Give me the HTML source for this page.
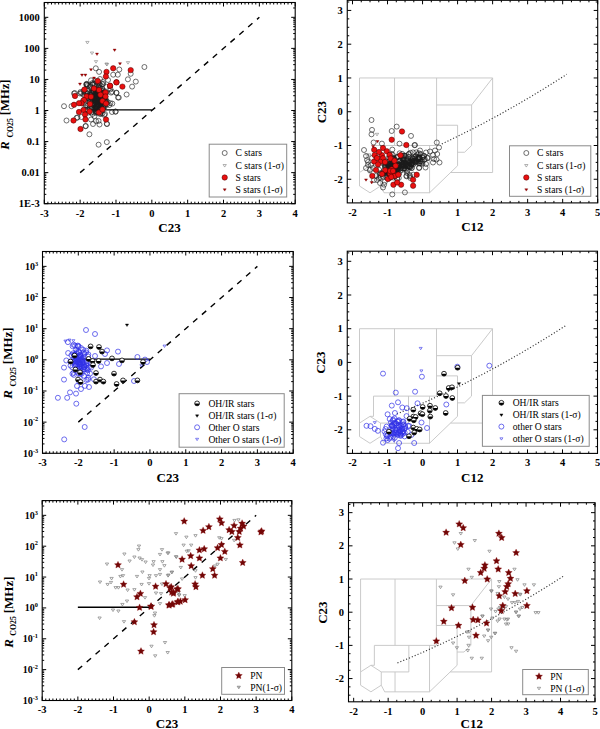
<!DOCTYPE html>
<html><head><meta charset="utf-8"><style>
html,body{margin:0;padding:0;background:#fff;width:600px;height:729px;overflow:hidden}
svg{display:block}
text{font-family:"Liberation Serif",serif}
</style></head><body>
<svg width="600" height="729" viewBox="0 0 600 729" font-family='"Liberation Serif", serif'>
<rect width="600" height="729" fill="#fff"/>
<line x1="80.14" y1="172.64" x2="259.36" y2="17.32" stroke="#000" stroke-width="1.4" stroke-dasharray="5.7 6.0"/>
<line x1="90.9" y1="109.85" x2="151.83" y2="109.85" stroke="#000" stroke-width="1.3"/>
<path d="M85.75 41.41L89.05 41.41L87.4 43.97Z" fill="none" stroke="#808080" stroke-width="0.6"/><path d="M90.35 52.01L93.65 52.01L92 54.57Z" fill="none" stroke="#808080" stroke-width="0.6"/><path d="M94.35 60.61L97.65 60.61L96 63.17Z" fill="none" stroke="#808080" stroke-width="0.6"/><path d="M105.35 63.41L108.65 63.41L107 65.97Z" fill="none" stroke="#808080" stroke-width="0.6"/><path d="M126.35 61.61L129.65 61.61L128 64.17Z" fill="none" stroke="#808080" stroke-width="0.6"/><path d="M104.85 63.01L108.15 63.01L106.5 65.57Z" fill="none" stroke="#808080" stroke-width="0.6"/><circle cx="144.4" cy="67" r="2.5" fill="none" stroke="#1a1a1a" stroke-width="0.62"/><circle cx="119.3" cy="69.5" r="2.5" fill="none" stroke="#1a1a1a" stroke-width="0.62"/><circle cx="95.8" cy="68.3" r="2.5" fill="none" stroke="#1a1a1a" stroke-width="0.62"/><circle cx="99.1" cy="71.9" r="2.5" fill="none" stroke="#1a1a1a" stroke-width="0.62"/><circle cx="117.8" cy="74.7" r="2.5" fill="none" stroke="#1a1a1a" stroke-width="0.62"/><circle cx="113.2" cy="74.7" r="2.5" fill="none" stroke="#1a1a1a" stroke-width="0.62"/><circle cx="130.7" cy="73.8" r="2.5" fill="none" stroke="#1a1a1a" stroke-width="0.62"/><circle cx="127.9" cy="79.3" r="2.5" fill="none" stroke="#1a1a1a" stroke-width="0.62"/><circle cx="135.8" cy="81.6" r="2.5" fill="none" stroke="#1a1a1a" stroke-width="0.62"/><circle cx="132.1" cy="86.6" r="2.5" fill="none" stroke="#1a1a1a" stroke-width="0.62"/><circle cx="118.8" cy="97.6" r="2.5" fill="none" stroke="#1a1a1a" stroke-width="0.62"/><circle cx="126.6" cy="94.5" r="2.5" fill="none" stroke="#1a1a1a" stroke-width="0.62"/><circle cx="116.4" cy="92.6" r="2.5" fill="none" stroke="#1a1a1a" stroke-width="0.62"/><circle cx="112.3" cy="103.6" r="2.5" fill="none" stroke="#1a1a1a" stroke-width="0.62"/><circle cx="115.6" cy="111.7" r="2.5" fill="none" stroke="#1a1a1a" stroke-width="0.62"/><circle cx="64" cy="106.2" r="2.5" fill="none" stroke="#1a1a1a" stroke-width="0.62"/><circle cx="71.5" cy="106.2" r="2.5" fill="none" stroke="#1a1a1a" stroke-width="0.62"/><circle cx="66.5" cy="120.5" r="2.5" fill="none" stroke="#1a1a1a" stroke-width="0.62"/><circle cx="77.5" cy="117.5" r="2.5" fill="none" stroke="#1a1a1a" stroke-width="0.62"/><circle cx="85.5" cy="126.2" r="2.5" fill="none" stroke="#1a1a1a" stroke-width="0.62"/><circle cx="93" cy="124" r="2.5" fill="none" stroke="#1a1a1a" stroke-width="0.62"/><circle cx="99.5" cy="124.5" r="2.5" fill="none" stroke="#1a1a1a" stroke-width="0.62"/><circle cx="107" cy="124" r="2.5" fill="none" stroke="#1a1a1a" stroke-width="0.62"/><circle cx="105" cy="114" r="2.5" fill="none" stroke="#1a1a1a" stroke-width="0.62"/><circle cx="112" cy="112" r="2.5" fill="none" stroke="#1a1a1a" stroke-width="0.62"/><circle cx="115.5" cy="111.5" r="2.5" fill="none" stroke="#1a1a1a" stroke-width="0.62"/><circle cx="112" cy="91.8" r="2.5" fill="none" stroke="#1a1a1a" stroke-width="0.62"/><circle cx="116.5" cy="93" r="2.5" fill="none" stroke="#1a1a1a" stroke-width="0.62"/><circle cx="118" cy="97.5" r="2.5" fill="none" stroke="#1a1a1a" stroke-width="0.62"/><circle cx="74" cy="93.5" r="2.5" fill="none" stroke="#1a1a1a" stroke-width="0.62"/><circle cx="80" cy="93.5" r="2.5" fill="none" stroke="#1a1a1a" stroke-width="0.62"/><circle cx="87" cy="84.5" r="2.5" fill="none" stroke="#1a1a1a" stroke-width="0.62"/><circle cx="80.5" cy="92" r="2.5" fill="none" stroke="#1a1a1a" stroke-width="0.62"/><circle cx="91" cy="119.5" r="2.5" fill="none" stroke="#1a1a1a" stroke-width="0.62"/><circle cx="96" cy="121" r="2.5" fill="none" stroke="#1a1a1a" stroke-width="0.62"/><circle cx="81.5" cy="117" r="2.5" fill="none" stroke="#1a1a1a" stroke-width="0.62"/><circle cx="94.5" cy="116" r="2.5" fill="none" stroke="#1a1a1a" stroke-width="0.62"/><circle cx="89.4" cy="134.3" r="2.5" fill="none" stroke="#1a1a1a" stroke-width="0.62"/><circle cx="98.6" cy="144.7" r="2.5" fill="none" stroke="#1a1a1a" stroke-width="0.62"/><circle cx="106.8" cy="142.1" r="2.5" fill="none" stroke="#1a1a1a" stroke-width="0.62"/><circle cx="85.8" cy="126" r="2.5" fill="none" stroke="#1a1a1a" stroke-width="0.62"/><circle cx="76.6" cy="117.8" r="2.5" fill="none" stroke="#1a1a1a" stroke-width="0.62"/><circle cx="106.8" cy="123.8" r="2.5" fill="none" stroke="#1a1a1a" stroke-width="0.62"/><circle cx="93.1" cy="83.8" r="2.5" fill="none" stroke="#1a1a1a" stroke-width="0.62"/><circle cx="86.7" cy="84.8" r="2.5" fill="none" stroke="#1a1a1a" stroke-width="0.62"/><circle cx="110.5" cy="89.3" r="2.5" fill="none" stroke="#1a1a1a" stroke-width="0.62"/><circle cx="81.2" cy="93" r="2.5" fill="none" stroke="#1a1a1a" stroke-width="0.62"/><circle cx="74.8" cy="93" r="2.5" fill="none" stroke="#1a1a1a" stroke-width="0.62"/><circle cx="100" cy="79" r="2.5" fill="none" stroke="#1a1a1a" stroke-width="0.62"/><circle cx="103" cy="82" r="2.5" fill="none" stroke="#1a1a1a" stroke-width="0.62"/><circle cx="108" cy="80" r="2.5" fill="none" stroke="#1a1a1a" stroke-width="0.62"/><circle cx="94.59" cy="104.11" r="2.5" fill="none" stroke="#1a1a1a" stroke-width="0.62"/><circle cx="94.76" cy="97.14" r="2.5" fill="none" stroke="#1a1a1a" stroke-width="0.62"/><circle cx="90.88" cy="97.41" r="2.5" fill="none" stroke="#1a1a1a" stroke-width="0.62"/><circle cx="102.12" cy="104.53" r="2.5" fill="none" stroke="#1a1a1a" stroke-width="0.62"/><circle cx="101.7" cy="102.99" r="2.5" fill="none" stroke="#1a1a1a" stroke-width="0.62"/><circle cx="98.17" cy="101.9" r="2.5" fill="none" stroke="#1a1a1a" stroke-width="0.62"/><circle cx="86.84" cy="105.82" r="2.5" fill="none" stroke="#1a1a1a" stroke-width="0.62"/><circle cx="98.79" cy="104.65" r="2.5" fill="none" stroke="#1a1a1a" stroke-width="0.62"/><circle cx="86.7" cy="83.81" r="2.5" fill="none" stroke="#1a1a1a" stroke-width="0.62"/><circle cx="91.11" cy="95.28" r="2.5" fill="none" stroke="#1a1a1a" stroke-width="0.62"/><circle cx="97.68" cy="99.87" r="2.5" fill="none" stroke="#1a1a1a" stroke-width="0.62"/><circle cx="98.87" cy="95.01" r="2.5" fill="none" stroke="#1a1a1a" stroke-width="0.62"/><circle cx="97.7" cy="103.6" r="2.5" fill="none" stroke="#1a1a1a" stroke-width="0.62"/><circle cx="92.36" cy="113.96" r="2.5" fill="none" stroke="#1a1a1a" stroke-width="0.62"/><circle cx="99.06" cy="110.6" r="2.5" fill="none" stroke="#1a1a1a" stroke-width="0.62"/><circle cx="92.59" cy="93.22" r="2.5" fill="none" stroke="#1a1a1a" stroke-width="0.62"/><circle cx="94.11" cy="98.81" r="2.5" fill="none" stroke="#1a1a1a" stroke-width="0.62"/><circle cx="99.48" cy="102.64" r="2.5" fill="none" stroke="#1a1a1a" stroke-width="0.62"/><circle cx="93.54" cy="91.53" r="2.5" fill="none" stroke="#1a1a1a" stroke-width="0.62"/><circle cx="93.14" cy="109.88" r="2.5" fill="none" stroke="#1a1a1a" stroke-width="0.62"/><circle cx="91.56" cy="101.38" r="2.5" fill="none" stroke="#1a1a1a" stroke-width="0.62"/><circle cx="98.35" cy="87.76" r="2.5" fill="none" stroke="#1a1a1a" stroke-width="0.62"/><circle cx="96.27" cy="111.09" r="2.5" fill="none" stroke="#1a1a1a" stroke-width="0.62"/><circle cx="84.92" cy="95.57" r="2.5" fill="none" stroke="#1a1a1a" stroke-width="0.62"/><circle cx="95.42" cy="93" r="2.5" fill="none" stroke="#1a1a1a" stroke-width="0.62"/><circle cx="98.74" cy="99.9" r="2.5" fill="none" stroke="#1a1a1a" stroke-width="0.62"/><circle cx="87.94" cy="105.76" r="2.5" fill="none" stroke="#1a1a1a" stroke-width="0.62"/><circle cx="99.68" cy="108.57" r="2.5" fill="none" stroke="#1a1a1a" stroke-width="0.62"/><circle cx="103.92" cy="104.29" r="2.5" fill="none" stroke="#1a1a1a" stroke-width="0.62"/><circle cx="96.66" cy="89.11" r="2.5" fill="none" stroke="#1a1a1a" stroke-width="0.62"/><circle cx="99.38" cy="95.35" r="2.5" fill="none" stroke="#1a1a1a" stroke-width="0.62"/><circle cx="93.51" cy="88.92" r="2.5" fill="none" stroke="#1a1a1a" stroke-width="0.62"/><circle cx="90.68" cy="94.69" r="2.5" fill="none" stroke="#1a1a1a" stroke-width="0.62"/><circle cx="103.09" cy="83.91" r="2.5" fill="none" stroke="#1a1a1a" stroke-width="0.62"/><circle cx="87.98" cy="100.79" r="2.5" fill="none" stroke="#1a1a1a" stroke-width="0.62"/><circle cx="103.94" cy="106.12" r="2.5" fill="none" stroke="#1a1a1a" stroke-width="0.62"/><circle cx="97.97" cy="94.08" r="2.5" fill="none" stroke="#1a1a1a" stroke-width="0.62"/><circle cx="89.84" cy="107.31" r="2.5" fill="none" stroke="#1a1a1a" stroke-width="0.62"/><circle cx="102.06" cy="102.27" r="2.5" fill="none" stroke="#1a1a1a" stroke-width="0.62"/><circle cx="97.35" cy="103.88" r="2.5" fill="none" stroke="#1a1a1a" stroke-width="0.62"/><circle cx="104.77" cy="106.59" r="2.5" fill="none" stroke="#1a1a1a" stroke-width="0.62"/><circle cx="98.85" cy="105.07" r="2.5" fill="none" stroke="#1a1a1a" stroke-width="0.62"/><circle cx="87.37" cy="109.51" r="2.5" fill="none" stroke="#1a1a1a" stroke-width="0.62"/><circle cx="101.25" cy="105.29" r="2.5" fill="none" stroke="#1a1a1a" stroke-width="0.62"/><circle cx="85.14" cy="92.96" r="2.5" fill="none" stroke="#1a1a1a" stroke-width="0.62"/><circle cx="100.63" cy="85.4" r="2.5" fill="none" stroke="#1a1a1a" stroke-width="0.62"/><circle cx="94.99" cy="108.47" r="2.5" fill="none" stroke="#1a1a1a" stroke-width="0.62"/><circle cx="88.79" cy="112.5" r="2.5" fill="none" stroke="#1a1a1a" stroke-width="0.62"/><circle cx="99.04" cy="99.2" r="2.5" fill="none" stroke="#1a1a1a" stroke-width="0.62"/><circle cx="97.79" cy="105.77" r="2.5" fill="none" stroke="#1a1a1a" stroke-width="0.62"/><circle cx="96.66" cy="109.79" r="2.5" fill="none" stroke="#1a1a1a" stroke-width="0.62"/><circle cx="92.36" cy="95.93" r="2.5" fill="none" stroke="#1a1a1a" stroke-width="0.62"/><circle cx="101.73" cy="101.11" r="2.5" fill="none" stroke="#1a1a1a" stroke-width="0.62"/><circle cx="91.16" cy="107.26" r="2.5" fill="none" stroke="#1a1a1a" stroke-width="0.62"/><circle cx="104.06" cy="97.48" r="2.5" fill="none" stroke="#1a1a1a" stroke-width="0.62"/><circle cx="88.41" cy="97.69" r="2.5" fill="none" stroke="#1a1a1a" stroke-width="0.62"/><circle cx="95.18" cy="97.35" r="2.5" fill="none" stroke="#1a1a1a" stroke-width="0.62"/><circle cx="103.73" cy="92.51" r="2.5" fill="none" stroke="#1a1a1a" stroke-width="0.62"/><circle cx="102.93" cy="90.34" r="2.5" fill="none" stroke="#1a1a1a" stroke-width="0.62"/><circle cx="91.67" cy="104.67" r="2.5" fill="none" stroke="#1a1a1a" stroke-width="0.62"/><circle cx="102.21" cy="108.22" r="2.5" fill="none" stroke="#1a1a1a" stroke-width="0.62"/><circle cx="97.9" cy="101.5" r="2.5" fill="none" stroke="#1a1a1a" stroke-width="0.62"/><circle cx="96.84" cy="104.99" r="2.5" fill="none" stroke="#1a1a1a" stroke-width="0.62"/><circle cx="95.03" cy="102.2" r="2.5" fill="none" stroke="#1a1a1a" stroke-width="0.62"/><circle cx="99.15" cy="100.49" r="2.5" fill="none" stroke="#1a1a1a" stroke-width="0.62"/><circle cx="100.2" cy="105.44" r="2.5" fill="none" stroke="#1a1a1a" stroke-width="0.62"/><circle cx="107.06" cy="104.46" r="2.5" fill="none" stroke="#1a1a1a" stroke-width="0.62"/><circle cx="93.65" cy="96.49" r="2.5" fill="none" stroke="#1a1a1a" stroke-width="0.62"/><circle cx="95.93" cy="107.8" r="2.5" fill="none" stroke="#1a1a1a" stroke-width="0.62"/><circle cx="94.15" cy="102.98" r="2.5" fill="none" stroke="#1a1a1a" stroke-width="0.62"/><circle cx="89.82" cy="101.11" r="2.5" fill="none" stroke="#1a1a1a" stroke-width="0.62"/><circle cx="98.19" cy="102.36" r="2.5" fill="none" stroke="#1a1a1a" stroke-width="0.62"/><circle cx="93.63" cy="105.17" r="2.5" fill="none" stroke="#1a1a1a" stroke-width="0.62"/><circle cx="97.55" cy="95.82" r="2.5" fill="none" stroke="#1a1a1a" stroke-width="0.62"/><circle cx="109.37" cy="105.07" r="2.5" fill="none" stroke="#1a1a1a" stroke-width="0.62"/><circle cx="92.95" cy="98.69" r="2.5" fill="none" stroke="#1a1a1a" stroke-width="0.62"/><circle cx="94.76" cy="99.28" r="2.5" fill="none" stroke="#1a1a1a" stroke-width="0.62"/><circle cx="101.55" cy="90.97" r="2.5" fill="none" stroke="#1a1a1a" stroke-width="0.62"/><circle cx="95.63" cy="108.01" r="2.5" fill="none" stroke="#1a1a1a" stroke-width="0.62"/><circle cx="100.71" cy="113.34" r="2.5" fill="none" stroke="#1a1a1a" stroke-width="0.62"/><circle cx="86.64" cy="95.57" r="2.5" fill="none" stroke="#1a1a1a" stroke-width="0.62"/><circle cx="94.12" cy="104.98" r="2.5" fill="none" stroke="#1a1a1a" stroke-width="0.62"/><circle cx="101.99" cy="88.68" r="2.5" fill="none" stroke="#1a1a1a" stroke-width="0.62"/><circle cx="99.76" cy="87.96" r="2.5" fill="none" stroke="#1a1a1a" stroke-width="0.62"/><circle cx="96.97" cy="110.25" r="2.5" fill="none" stroke="#1a1a1a" stroke-width="0.62"/><circle cx="95.18" cy="101.49" r="2.5" fill="none" stroke="#1a1a1a" stroke-width="0.62"/><circle cx="100.38" cy="101.87" r="2.5" fill="none" stroke="#1a1a1a" stroke-width="0.62"/><circle cx="95.51" cy="112.89" r="2.5" fill="none" stroke="#1a1a1a" stroke-width="0.62"/><circle cx="101.77" cy="98.41" r="2.5" fill="none" stroke="#1a1a1a" stroke-width="0.62"/><circle cx="111.1" cy="92.63" r="2.5" fill="none" stroke="#1a1a1a" stroke-width="0.62"/><circle cx="101.03" cy="98.53" r="2.5" fill="none" stroke="#1a1a1a" stroke-width="0.62"/><circle cx="96.73" cy="106.08" r="2.5" fill="none" stroke="#1a1a1a" stroke-width="0.62"/><circle cx="97.22" cy="105.59" r="2.5" fill="none" stroke="#1a1a1a" stroke-width="0.62"/><circle cx="87.6" cy="85.94" r="2.5" fill="none" stroke="#1a1a1a" stroke-width="0.62"/><circle cx="99.38" cy="92.38" r="2.5" fill="none" stroke="#1a1a1a" stroke-width="0.62"/><circle cx="90.35" cy="86.69" r="2.5" fill="none" stroke="#1a1a1a" stroke-width="0.62"/><circle cx="102.97" cy="107.39" r="2.5" fill="none" stroke="#1a1a1a" stroke-width="0.62"/><circle cx="104.1" cy="93.32" r="2.5" fill="none" stroke="#1a1a1a" stroke-width="0.62"/><circle cx="96.01" cy="90.36" r="2.5" fill="none" stroke="#1a1a1a" stroke-width="0.62"/><circle cx="100.21" cy="114.09" r="2.5" fill="none" stroke="#1a1a1a" stroke-width="0.62"/><circle cx="91.1" cy="112.44" r="2.5" fill="none" stroke="#1a1a1a" stroke-width="0.62"/><circle cx="101.43" cy="99.34" r="2.5" fill="none" stroke="#1a1a1a" stroke-width="0.62"/><circle cx="85.15" cy="110.22" r="2.5" fill="none" stroke="#1a1a1a" stroke-width="0.62"/><circle cx="95.47" cy="94.82" r="2.5" fill="none" stroke="#1a1a1a" stroke-width="0.62"/><circle cx="98.2" cy="103.81" r="2.5" fill="none" stroke="#1a1a1a" stroke-width="0.62"/><circle cx="104.24" cy="92.65" r="2.5" fill="none" stroke="#1a1a1a" stroke-width="0.62"/><circle cx="102.25" cy="113.54" r="2.5" fill="none" stroke="#1a1a1a" stroke-width="0.62"/><circle cx="103.99" cy="99.71" r="2.5" fill="none" stroke="#1a1a1a" stroke-width="0.62"/><circle cx="91.91" cy="107.98" r="2.5" fill="none" stroke="#1a1a1a" stroke-width="0.62"/><circle cx="96.63" cy="101.15" r="2.5" fill="none" stroke="#1a1a1a" stroke-width="0.62"/><circle cx="103.83" cy="98.98" r="2.5" fill="none" stroke="#1a1a1a" stroke-width="0.62"/><circle cx="83.37" cy="94.77" r="2.5" fill="none" stroke="#1a1a1a" stroke-width="0.62"/><circle cx="85.8" cy="105.35" r="2.5" fill="none" stroke="#1a1a1a" stroke-width="0.62"/><circle cx="97.74" cy="95.1" r="2.5" fill="none" stroke="#1a1a1a" stroke-width="0.62"/><circle cx="95.95" cy="107.03" r="2.5" fill="none" stroke="#1a1a1a" stroke-width="0.62"/><circle cx="96.43" cy="111.29" r="2.5" fill="none" stroke="#1a1a1a" stroke-width="0.62"/><circle cx="95.66" cy="108.75" r="2.5" fill="none" stroke="#1a1a1a" stroke-width="0.62"/><circle cx="104.2" cy="114.88" r="2.5" fill="none" stroke="#1a1a1a" stroke-width="0.62"/><circle cx="92.3" cy="106.87" r="2.5" fill="none" stroke="#1a1a1a" stroke-width="0.62"/><circle cx="85.68" cy="89.24" r="2.5" fill="none" stroke="#1a1a1a" stroke-width="0.62"/><circle cx="85.2" cy="107.37" r="2.5" fill="none" stroke="#1a1a1a" stroke-width="0.62"/><circle cx="89.22" cy="98.84" r="2.5" fill="none" stroke="#1a1a1a" stroke-width="0.62"/><circle cx="94.94" cy="99.59" r="2.5" fill="none" stroke="#1a1a1a" stroke-width="0.62"/><circle cx="92.75" cy="101.47" r="2.5" fill="none" stroke="#1a1a1a" stroke-width="0.62"/><circle cx="105.85" cy="101.9" r="2.5" fill="none" stroke="#1a1a1a" stroke-width="0.62"/><circle cx="98.92" cy="108.91" r="2.5" fill="none" stroke="#1a1a1a" stroke-width="0.62"/><circle cx="94.91" cy="89.18" r="2.5" fill="none" stroke="#1a1a1a" stroke-width="0.62"/><circle cx="92.95" cy="108.61" r="2.5" fill="none" stroke="#1a1a1a" stroke-width="0.62"/><circle cx="86.95" cy="93.54" r="2.5" fill="none" stroke="#1a1a1a" stroke-width="0.62"/><circle cx="101.54" cy="107.56" r="2.5" fill="none" stroke="#1a1a1a" stroke-width="0.62"/><circle cx="96.04" cy="106.82" r="2.5" fill="none" stroke="#1a1a1a" stroke-width="0.62"/><circle cx="96.91" cy="90.17" r="2.5" fill="none" stroke="#1a1a1a" stroke-width="0.62"/><circle cx="87.4" cy="93.27" r="2.5" fill="none" stroke="#1a1a1a" stroke-width="0.62"/><circle cx="101.08" cy="96" r="2.5" fill="none" stroke="#1a1a1a" stroke-width="0.62"/><circle cx="91.04" cy="92.71" r="2.5" fill="none" stroke="#1a1a1a" stroke-width="0.62"/><circle cx="87.58" cy="97.71" r="2.5" fill="none" stroke="#1a1a1a" stroke-width="0.62"/><circle cx="89.51" cy="102.08" r="2.5" fill="none" stroke="#1a1a1a" stroke-width="0.62"/><circle cx="83.02" cy="100.77" r="2.5" fill="none" stroke="#1a1a1a" stroke-width="0.62"/><circle cx="92.47" cy="83.03" r="2.5" fill="none" stroke="#1a1a1a" stroke-width="0.62"/><circle cx="99.99" cy="98.29" r="2.5" fill="none" stroke="#1a1a1a" stroke-width="0.62"/><circle cx="83.73" cy="90.7" r="2.5" fill="none" stroke="#1a1a1a" stroke-width="0.62"/><circle cx="97.6" cy="96.37" r="2.5" fill="none" stroke="#1a1a1a" stroke-width="0.62"/><circle cx="100.29" cy="106.99" r="2.5" fill="none" stroke="#1a1a1a" stroke-width="0.62"/><circle cx="99.66" cy="103.33" r="2.5" fill="none" stroke="#1a1a1a" stroke-width="0.62"/><circle cx="103.34" cy="106.71" r="2.5" fill="none" stroke="#1a1a1a" stroke-width="0.62"/><circle cx="98.48" cy="82.76" r="2.5" fill="none" stroke="#1a1a1a" stroke-width="0.62"/><circle cx="100.93" cy="111.84" r="2.5" fill="none" stroke="#1a1a1a" stroke-width="0.62"/><circle cx="94.37" cy="95.78" r="2.5" fill="none" stroke="#1a1a1a" stroke-width="0.62"/><circle cx="106.67" cy="86.78" r="2.5" fill="none" stroke="#1a1a1a" stroke-width="0.62"/><circle cx="98.58" cy="120.9" r="2.5" fill="none" stroke="#1a1a1a" stroke-width="0.62"/><circle cx="92.36" cy="96.75" r="2.5" fill="none" stroke="#1a1a1a" stroke-width="0.62"/><circle cx="106.43" cy="92.55" r="2.5" fill="none" stroke="#1a1a1a" stroke-width="0.62"/><circle cx="99.81" cy="99.63" r="2.5" fill="none" stroke="#1a1a1a" stroke-width="0.62"/><circle cx="92.47" cy="90.57" r="2.5" fill="none" stroke="#1a1a1a" stroke-width="0.62"/><circle cx="98.46" cy="98.8" r="2.5" fill="none" stroke="#1a1a1a" stroke-width="0.62"/><circle cx="96.83" cy="90.42" r="2.5" fill="none" stroke="#1a1a1a" stroke-width="0.62"/><circle cx="91.92" cy="88.33" r="2.5" fill="none" stroke="#1a1a1a" stroke-width="0.62"/><circle cx="101.46" cy="93.52" r="2.5" fill="none" stroke="#1a1a1a" stroke-width="0.62"/><circle cx="92.73" cy="84.62" r="2.5" fill="none" stroke="#1a1a1a" stroke-width="0.62"/><circle cx="110.33" cy="103.21" r="2.5" fill="none" stroke="#1a1a1a" stroke-width="0.62"/><circle cx="100.11" cy="96.32" r="2.5" fill="none" stroke="#1a1a1a" stroke-width="0.62"/><circle cx="105.42" cy="96.75" r="2.5" fill="none" stroke="#1a1a1a" stroke-width="0.62"/><circle cx="96.66" cy="96.1" r="2.5" fill="none" stroke="#1a1a1a" stroke-width="0.62"/><circle cx="87.28" cy="98.67" r="2.5" fill="none" stroke="#1a1a1a" stroke-width="0.62"/><circle cx="98.62" cy="86.67" r="2.5" fill="none" stroke="#1a1a1a" stroke-width="0.62"/><circle cx="103.63" cy="107.46" r="2.5" fill="none" stroke="#1a1a1a" stroke-width="0.62"/><circle cx="89.99" cy="85.57" r="2.5" fill="none" stroke="#1a1a1a" stroke-width="0.62"/><circle cx="98.46" cy="93.69" r="2.5" fill="none" stroke="#1a1a1a" stroke-width="0.62"/><circle cx="95.01" cy="83.93" r="2.5" fill="none" stroke="#1a1a1a" stroke-width="0.62"/><circle cx="107.6" cy="101.95" r="2.5" fill="none" stroke="#1a1a1a" stroke-width="0.62"/><circle cx="91.03" cy="80.34" r="2.5" fill="none" stroke="#1a1a1a" stroke-width="0.62"/><circle cx="105.52" cy="101.24" r="2.5" fill="none" stroke="#1a1a1a" stroke-width="0.62"/><circle cx="106.1" cy="99.91" r="2.5" fill="none" stroke="#1a1a1a" stroke-width="0.62"/><circle cx="92.64" cy="93.38" r="2.5" fill="none" stroke="#1a1a1a" stroke-width="0.62"/><circle cx="86.2" cy="84.32" r="2.5" fill="none" stroke="#1a1a1a" stroke-width="0.62"/><circle cx="96.71" cy="96.11" r="2.5" fill="none" stroke="#1a1a1a" stroke-width="0.62"/><circle cx="93.36" cy="90.43" r="2.5" fill="none" stroke="#1a1a1a" stroke-width="0.62"/><circle cx="99.29" cy="95.37" r="2.5" fill="none" stroke="#1a1a1a" stroke-width="0.62"/><circle cx="100.19" cy="94.17" r="2.5" fill="none" stroke="#1a1a1a" stroke-width="0.62"/><circle cx="95.38" cy="98.02" r="2.5" fill="none" stroke="#1a1a1a" stroke-width="0.62"/><circle cx="97.25" cy="85.46" r="2.5" fill="none" stroke="#1a1a1a" stroke-width="0.62"/><circle cx="93.87" cy="91.5" r="2.5" fill="none" stroke="#1a1a1a" stroke-width="0.62"/><circle cx="96.45" cy="93.16" r="2.5" fill="none" stroke="#1a1a1a" stroke-width="0.62"/><circle cx="97" cy="93.4" r="2.5" fill="none" stroke="#1a1a1a" stroke-width="0.62"/><circle cx="96.33" cy="81.88" r="2.5" fill="none" stroke="#1a1a1a" stroke-width="0.62"/><circle cx="99.11" cy="100.72" r="2.5" fill="none" stroke="#1a1a1a" stroke-width="0.62"/><circle cx="99.17" cy="90.84" r="2.5" fill="none" stroke="#1a1a1a" stroke-width="0.62"/><circle cx="99.23" cy="84.67" r="2.5" fill="none" stroke="#1a1a1a" stroke-width="0.62"/><circle cx="87.52" cy="90.96" r="2.5" fill="none" stroke="#1a1a1a" stroke-width="0.62"/><circle cx="92.35" cy="97.14" r="2.5" fill="none" stroke="#1a1a1a" stroke-width="0.62"/><circle cx="91.8" cy="103.73" r="2.5" fill="none" stroke="#1a1a1a" stroke-width="0.62"/><circle cx="95.09" cy="80.79" r="2.5" fill="none" stroke="#1a1a1a" stroke-width="0.62"/><circle cx="93.18" cy="95.54" r="2.5" fill="none" stroke="#1a1a1a" stroke-width="0.62"/><circle cx="99.48" cy="93.8" r="2.5" fill="none" stroke="#1a1a1a" stroke-width="0.62"/><circle cx="104.42" cy="98.81" r="2.5" fill="none" stroke="#1a1a1a" stroke-width="0.62"/><circle cx="96.9" cy="96.73" r="2.5" fill="none" stroke="#1a1a1a" stroke-width="0.62"/><circle cx="105.27" cy="101.06" r="2.5" fill="none" stroke="#1a1a1a" stroke-width="0.62"/><circle cx="102.12" cy="84.2" r="2.5" fill="none" stroke="#1a1a1a" stroke-width="0.62"/><circle cx="96.26" cy="97.69" r="2.5" fill="none" stroke="#1a1a1a" stroke-width="0.62"/><circle cx="95.52" cy="100.27" r="2.5" fill="none" stroke="#1a1a1a" stroke-width="0.62"/><circle cx="99.98" cy="99.71" r="2.5" fill="none" stroke="#1a1a1a" stroke-width="0.62"/><circle cx="95.94" cy="112.1" r="2.5" fill="none" stroke="#1a1a1a" stroke-width="0.62"/><circle cx="103.2" cy="91.28" r="2.5" fill="none" stroke="#1a1a1a" stroke-width="0.62"/><circle cx="97.45" cy="112.73" r="2.5" fill="none" stroke="#1a1a1a" stroke-width="0.62"/><circle cx="95.28" cy="98.68" r="2.5" fill="none" stroke="#1a1a1a" stroke-width="0.62"/><circle cx="101.9" cy="92.84" r="2.5" fill="none" stroke="#1a1a1a" stroke-width="0.62"/><circle cx="91.16" cy="92.56" r="2.5" fill="none" stroke="#1a1a1a" stroke-width="0.62"/><circle cx="98.8" cy="101.28" r="2.5" fill="none" stroke="#1a1a1a" stroke-width="0.62"/><circle cx="100.91" cy="92.82" r="2.5" fill="none" stroke="#1a1a1a" stroke-width="0.62"/><circle cx="101.27" cy="96.98" r="2.5" fill="none" stroke="#1a1a1a" stroke-width="0.62"/><circle cx="97.8" cy="81" r="2.7" fill="#ea1010" stroke="#400" stroke-width="0.5"/><circle cx="116.5" cy="82.2" r="2.7" fill="#ea1010" stroke="#400" stroke-width="0.5"/><circle cx="110" cy="86" r="2.7" fill="#ea1010" stroke="#400" stroke-width="0.5"/><circle cx="84.5" cy="89.5" r="2.7" fill="#ea1010" stroke="#400" stroke-width="0.5"/><circle cx="94" cy="88.5" r="2.7" fill="#ea1010" stroke="#400" stroke-width="0.5"/><circle cx="99" cy="90" r="2.7" fill="#ea1010" stroke="#400" stroke-width="0.5"/><circle cx="105.5" cy="92.5" r="2.7" fill="#ea1010" stroke="#400" stroke-width="0.5"/><circle cx="75" cy="96" r="2.7" fill="#ea1010" stroke="#400" stroke-width="0.5"/><circle cx="86.5" cy="96.5" r="2.7" fill="#ea1010" stroke="#400" stroke-width="0.5"/><circle cx="91" cy="96.8" r="2.7" fill="#ea1010" stroke="#400" stroke-width="0.5"/><circle cx="100.5" cy="94.8" r="2.7" fill="#ea1010" stroke="#400" stroke-width="0.5"/><circle cx="105.5" cy="96.5" r="2.7" fill="#ea1010" stroke="#400" stroke-width="0.5"/><circle cx="84" cy="100" r="2.7" fill="#ea1010" stroke="#400" stroke-width="0.5"/><circle cx="81.5" cy="103.2" r="2.7" fill="#ea1010" stroke="#400" stroke-width="0.5"/><circle cx="79" cy="103.2" r="2.7" fill="#ea1010" stroke="#400" stroke-width="0.5"/><circle cx="90" cy="104" r="2.7" fill="#ea1010" stroke="#400" stroke-width="0.5"/><circle cx="102.5" cy="101" r="2.7" fill="#ea1010" stroke="#400" stroke-width="0.5"/><circle cx="106" cy="103.5" r="2.7" fill="#ea1010" stroke="#400" stroke-width="0.5"/><circle cx="74" cy="104.8" r="2.7" fill="#ea1010" stroke="#400" stroke-width="0.5"/><circle cx="83.5" cy="110" r="2.7" fill="#ea1010" stroke="#400" stroke-width="0.5"/><circle cx="79" cy="112" r="2.7" fill="#ea1010" stroke="#400" stroke-width="0.5"/><circle cx="89.5" cy="111.5" r="2.7" fill="#ea1010" stroke="#400" stroke-width="0.5"/><circle cx="99" cy="112.5" r="2.7" fill="#ea1010" stroke="#400" stroke-width="0.5"/><circle cx="102.5" cy="109.5" r="2.7" fill="#ea1010" stroke="#400" stroke-width="0.5"/><circle cx="85" cy="114.5" r="2.7" fill="#ea1010" stroke="#400" stroke-width="0.5"/><circle cx="73.5" cy="120.5" r="2.7" fill="#ea1010" stroke="#400" stroke-width="0.5"/><circle cx="85.5" cy="119.5" r="2.7" fill="#ea1010" stroke="#400" stroke-width="0.5"/><circle cx="106" cy="119.5" r="2.7" fill="#ea1010" stroke="#400" stroke-width="0.5"/><circle cx="80.5" cy="129" r="2.7" fill="#ea1010" stroke="#400" stroke-width="0.5"/><circle cx="113.2" cy="68.3" r="2.7" fill="#ea1010" stroke="#400" stroke-width="0.5"/><circle cx="130.7" cy="70.1" r="2.7" fill="#ea1010" stroke="#400" stroke-width="0.5"/><circle cx="106.5" cy="71.9" r="2.7" fill="#ea1010" stroke="#400" stroke-width="0.5"/><circle cx="105.9" cy="76.5" r="2.7" fill="#ea1010" stroke="#400" stroke-width="0.5"/><circle cx="122.4" cy="86.6" r="2.7" fill="#ea1010" stroke="#400" stroke-width="0.5"/><circle cx="110.1" cy="85.7" r="2.7" fill="#ea1010" stroke="#400" stroke-width="0.5"/><circle cx="116.4" cy="82.4" r="2.7" fill="#ea1010" stroke="#400" stroke-width="0.5"/><path d="M113.1 49.1L116.1 49.1L114.6 51.42Z" fill="#a00" stroke="#700" stroke-width="0.4"/><path d="M95.5 53.1L98.5 53.1L97 55.42Z" fill="#a00" stroke="#700" stroke-width="0.4"/><path d="M118.5 62.7L121.5 62.7L120 65.03Z" fill="#a00" stroke="#700" stroke-width="0.4"/><path d="M89.5 68.7L92.5 68.7L91 71.02Z" fill="#a00" stroke="#700" stroke-width="0.4"/><path d="M80.5 74.1L83.5 74.1L82 76.42Z" fill="#a00" stroke="#700" stroke-width="0.4"/><path d="M83.9 74.1L86.9 74.1L85.4 76.42Z" fill="#a00" stroke="#700" stroke-width="0.4"/><path d="M78.5 83.1L81.5 83.1L80 85.42Z" fill="#a00" stroke="#700" stroke-width="0.4"/><path d="M92.5 77.1L95.5 77.1L94 79.42Z" fill="#a00" stroke="#700" stroke-width="0.4"/>
<rect x="44.3" y="2.5" width="250.9" height="201.2" fill="none" stroke="#000" stroke-width="1.1"/>
<path d="M44.3 203.7h4M295.2 203.7h-4M44.3 194.35h2M295.2 194.35h-2M44.3 188.88h2M295.2 188.88h-2M44.3 185h2M295.2 185h-2M44.3 181.99h2M295.2 181.99h-2M44.3 179.53h2M295.2 179.53h-2M44.3 177.45h2M295.2 177.45h-2M44.3 175.65h2M295.2 175.65h-2M44.3 174.06h2M295.2 174.06h-2M44.3 172.64h4M295.2 172.64h-4M44.3 163.29h2M295.2 163.29h-2M44.3 157.82h2M295.2 157.82h-2M44.3 153.93h2M295.2 153.93h-2M44.3 150.92h2M295.2 150.92h-2M44.3 148.46h2M295.2 148.46h-2M44.3 146.39h2M295.2 146.39h-2M44.3 144.58h2M295.2 144.58h-2M44.3 143h2M295.2 143h-2M44.3 141.57h4M295.2 141.57h-4M44.3 132.22h2M295.2 132.22h-2M44.3 126.75h2M295.2 126.75h-2M44.3 122.87h2M295.2 122.87h-2M44.3 119.86h2M295.2 119.86h-2M44.3 117.4h2M295.2 117.4h-2M44.3 115.32h2M295.2 115.32h-2M44.3 113.52h2M295.2 113.52h-2M44.3 111.93h2M295.2 111.93h-2M44.3 110.51h4M295.2 110.51h-4M44.3 101.16h2M295.2 101.16h-2M44.3 95.69h2M295.2 95.69h-2M44.3 91.81h2M295.2 91.81h-2M44.3 88.8h2M295.2 88.8h-2M44.3 86.34h2M295.2 86.34h-2M44.3 84.26h2M295.2 84.26h-2M44.3 82.46h2M295.2 82.46h-2M44.3 80.87h2M295.2 80.87h-2M44.3 79.45h4M295.2 79.45h-4M44.3 70.1h2M295.2 70.1h-2M44.3 64.63h2M295.2 64.63h-2M44.3 60.75h2M295.2 60.75h-2M44.3 57.74h2M295.2 57.74h-2M44.3 55.28h2M295.2 55.28h-2M44.3 53.2h2M295.2 53.2h-2M44.3 51.39h2M295.2 51.39h-2M44.3 49.81h2M295.2 49.81h-2M44.3 48.38h4M295.2 48.38h-4M44.3 39.03h2M295.2 39.03h-2M44.3 33.56h2M295.2 33.56h-2M44.3 29.68h2M295.2 29.68h-2M44.3 26.67h2M295.2 26.67h-2M44.3 24.21h2M295.2 24.21h-2M44.3 22.13h2M295.2 22.13h-2M44.3 20.33h2M295.2 20.33h-2M44.3 18.74h2M295.2 18.74h-2M44.3 17.32h4M295.2 17.32h-4M44.3 7.97h2M295.2 7.97h-2M44.3 2.5h2M295.2 2.5h-2" stroke="#000" stroke-width="1" fill="none"/>
<text x="39.8" y="207.3" text-anchor="end" font-size="10.5" font-weight="bold">1E-3</text>
<text x="39.8" y="176.24" text-anchor="end" font-size="10.5" font-weight="bold">0.01</text>
<text x="39.8" y="145.17" text-anchor="end" font-size="10.5" font-weight="bold">0.1</text>
<text x="39.8" y="114.11" text-anchor="end" font-size="10.5" font-weight="bold">1</text>
<text x="39.8" y="83.05" text-anchor="end" font-size="10.5" font-weight="bold">10</text>
<text x="39.8" y="51.98" text-anchor="end" font-size="10.5" font-weight="bold">100</text>
<text x="39.8" y="20.92" text-anchor="end" font-size="10.5" font-weight="bold">1000</text>
<path d="M44.3 203.7v-4M44.3 2.5v4M47.88 203.7v-2M47.88 2.5v2M51.47 203.7v-2M51.47 2.5v2M55.05 203.7v-2M55.05 2.5v2M58.64 203.7v-2M58.64 2.5v2M62.22 203.7v-2M62.22 2.5v2M65.81 203.7v-2M65.81 2.5v2M69.39 203.7v-2M69.39 2.5v2M72.97 203.7v-2M72.97 2.5v2M76.56 203.7v-2M76.56 2.5v2M80.14 203.7v-4M80.14 2.5v4M83.73 203.7v-2M83.73 2.5v2M87.31 203.7v-2M87.31 2.5v2M90.9 203.7v-2M90.9 2.5v2M94.48 203.7v-2M94.48 2.5v2M98.06 203.7v-2M98.06 2.5v2M101.65 203.7v-2M101.65 2.5v2M105.23 203.7v-2M105.23 2.5v2M108.82 203.7v-2M108.82 2.5v2M112.4 203.7v-2M112.4 2.5v2M115.99 203.7v-4M115.99 2.5v4M119.57 203.7v-2M119.57 2.5v2M123.15 203.7v-2M123.15 2.5v2M126.74 203.7v-2M126.74 2.5v2M130.32 203.7v-2M130.32 2.5v2M133.91 203.7v-2M133.91 2.5v2M137.49 203.7v-2M137.49 2.5v2M141.08 203.7v-2M141.08 2.5v2M144.66 203.7v-2M144.66 2.5v2M148.24 203.7v-2M148.24 2.5v2M151.83 203.7v-4M151.83 2.5v4M155.41 203.7v-2M155.41 2.5v2M159 203.7v-2M159 2.5v2M162.58 203.7v-2M162.58 2.5v2M166.17 203.7v-2M166.17 2.5v2M169.75 203.7v-2M169.75 2.5v2M173.33 203.7v-2M173.33 2.5v2M176.92 203.7v-2M176.92 2.5v2M180.5 203.7v-2M180.5 2.5v2M184.09 203.7v-2M184.09 2.5v2M187.67 203.7v-4M187.67 2.5v4M191.26 203.7v-2M191.26 2.5v2M194.84 203.7v-2M194.84 2.5v2M198.42 203.7v-2M198.42 2.5v2M202.01 203.7v-2M202.01 2.5v2M205.59 203.7v-2M205.59 2.5v2M209.18 203.7v-2M209.18 2.5v2M212.76 203.7v-2M212.76 2.5v2M216.35 203.7v-2M216.35 2.5v2M219.93 203.7v-2M219.93 2.5v2M223.51 203.7v-4M223.51 2.5v4M227.1 203.7v-2M227.1 2.5v2M230.68 203.7v-2M230.68 2.5v2M234.27 203.7v-2M234.27 2.5v2M237.85 203.7v-2M237.85 2.5v2M241.44 203.7v-2M241.44 2.5v2M245.02 203.7v-2M245.02 2.5v2M248.6 203.7v-2M248.6 2.5v2M252.19 203.7v-2M252.19 2.5v2M255.77 203.7v-2M255.77 2.5v2M259.36 203.7v-4M259.36 2.5v4M262.94 203.7v-2M262.94 2.5v2M266.53 203.7v-2M266.53 2.5v2M270.11 203.7v-2M270.11 2.5v2M273.69 203.7v-2M273.69 2.5v2M277.28 203.7v-2M277.28 2.5v2M280.86 203.7v-2M280.86 2.5v2M284.45 203.7v-2M284.45 2.5v2M288.03 203.7v-2M288.03 2.5v2M291.62 203.7v-2M291.62 2.5v2M295.2 203.7v-4M295.2 2.5v4" stroke="#000" stroke-width="1" fill="none"/>
<text x="44.3" y="216.5" text-anchor="middle" font-size="10.5" font-weight="bold">-3</text>
<text x="80.14" y="216.5" text-anchor="middle" font-size="10.5" font-weight="bold">-2</text>
<text x="115.99" y="216.5" text-anchor="middle" font-size="10.5" font-weight="bold">-1</text>
<text x="151.83" y="216.5" text-anchor="middle" font-size="10.5" font-weight="bold">0</text>
<text x="187.67" y="216.5" text-anchor="middle" font-size="10.5" font-weight="bold">1</text>
<text x="223.51" y="216.5" text-anchor="middle" font-size="10.5" font-weight="bold">2</text>
<text x="259.36" y="216.5" text-anchor="middle" font-size="10.5" font-weight="bold">3</text>
<text x="295.2" y="216.5" text-anchor="middle" font-size="10.5" font-weight="bold">4</text>
<text x="169.5" y="231.8" text-anchor="middle" font-size="13" font-weight="bold">C23</text>
<text transform="translate(9.4 149.7) rotate(-90)" font-size="12.6" font-weight="bold" font-style="italic">R</text>
<text transform="translate(12.7 137.6) rotate(-90)" font-size="7.8" font-weight="bold">CO25</text>
<text transform="translate(9.4 115.2) rotate(-90)" font-size="12.6" font-weight="bold">[MHz]</text>
<rect x="209.2" y="144.2" width="77.5" height="52.8" fill="#fff" stroke="#8a8a8a" stroke-width="1"/>
<circle cx="224.7" cy="153" r="2.5" fill="none" stroke="#1a1a1a" stroke-width="0.62"/>
<text x="235.5" y="156.3" font-size="9.6">C stars</text>
<path d="M223.05 164.51L226.35 164.51L224.7 167.07Z" fill="none" stroke="#808080" stroke-width="0.6"/>
<text x="235.5" y="168.8" font-size="9.6">C stars (1-σ)</text>
<circle cx="224.7" cy="177.5" r="2.7" fill="#ea1010" stroke="#400" stroke-width="0.5"/>
<text x="235.5" y="180.8" font-size="9.6">S stars</text>
<path d="M223.2 188.8L226.2 188.8L224.7 191.12Z" fill="#a00" stroke="#700" stroke-width="0.4"/>
<text x="235.5" y="193" font-size="9.6">S stars (1-σ)</text>
<path d="M359.51 172.51L359.51 77.96L492.62 77.96L492.62 172.51L450.58 172.51M394.54 77.96L394.54 145.5M436.57 77.96L436.57 145.5M370.02 165.76L373.52 165.76L373.52 145.5L436.57 145.5M429.57 145.5L429.57 192.77L457.59 165.76L457.59 125.24L436.57 125.24M436.57 104.98L471.6 104.98L471.6 145.5L464.59 152.25L457.59 152.25M471.6 104.98L492.62 77.96M384.03 192.77L429.57 192.77M408.55 145.5L408.55 172.51L380.53 172.51M394.54 172.51L394.54 192.77M359.51 172.51L370.02 165.76L380.53 172.51L380.53 186.02L370.02 192.77L359.51 186.02L359.51 172.51M380.53 186.02L384.03 192.77" fill="none" stroke="#c4c4c4" stroke-width="0.9"/>
<path d="M441.83 143.88L444.95 142.42L448.07 140.94L451.19 139.45L454.31 137.95L457.43 136.43L460.56 134.89L463.68 133.35L466.8 131.78L469.92 130.21L473.04 128.62L476.17 127.02L479.29 125.4L482.41 123.77L485.53 122.12L488.65 120.46L491.78 118.78L494.9 117.09L498.02 115.39L501.14 113.67L504.26 111.94L507.38 110.2L510.51 108.44L513.63 106.66L516.75 104.87L519.87 103.07L522.99 101.25L526.12 99.42L529.24 97.58L532.36 95.72L535.48 93.85L538.6 91.96L541.73 90.06L544.85 88.14L547.97 86.21L551.09 84.27L554.21 82.31L557.33 80.34L560.46 78.35L563.58 76.35L566.7 74.33" fill="none" stroke="#333" stroke-width="1.15" stroke-dasharray="1.1 2.0"/>
<path d="M375.35 133.31L378.65 133.31L377 135.87Z" fill="none" stroke="#808080" stroke-width="0.6"/><path d="M365.35 154.11L368.65 154.11L367 156.67Z" fill="none" stroke="#808080" stroke-width="0.6"/><path d="M367.65 153.91L370.95 153.91L369.3 156.47Z" fill="none" stroke="#808080" stroke-width="0.6"/><path d="M367.05 170.61L370.35 170.61L368.7 173.17Z" fill="none" stroke="#808080" stroke-width="0.6"/><path d="M368.75 171.61L372.05 171.61L370.4 174.17Z" fill="none" stroke="#808080" stroke-width="0.6"/><circle cx="372" cy="129.9" r="2.5" fill="none" stroke="#1a1a1a" stroke-width="0.62"/><circle cx="371.5" cy="134.3" r="2.5" fill="none" stroke="#1a1a1a" stroke-width="0.62"/><circle cx="373.6" cy="142.5" r="2.5" fill="none" stroke="#1a1a1a" stroke-width="0.62"/><circle cx="381.9" cy="143.6" r="2.5" fill="none" stroke="#1a1a1a" stroke-width="0.62"/><circle cx="396.7" cy="126.6" r="2.5" fill="none" stroke="#1a1a1a" stroke-width="0.62"/><circle cx="391.7" cy="131" r="2.5" fill="none" stroke="#1a1a1a" stroke-width="0.62"/><circle cx="411" cy="135.9" r="2.5" fill="none" stroke="#1a1a1a" stroke-width="0.62"/><circle cx="392.3" cy="149.6" r="2.5" fill="none" stroke="#1a1a1a" stroke-width="0.62"/><circle cx="384.1" cy="184.7" r="2.5" fill="none" stroke="#1a1a1a" stroke-width="0.62"/><circle cx="383" cy="187.5" r="2.5" fill="none" stroke="#1a1a1a" stroke-width="0.62"/><circle cx="392.3" cy="194.4" r="2.5" fill="none" stroke="#1a1a1a" stroke-width="0.62"/><circle cx="404.9" cy="192.4" r="2.5" fill="none" stroke="#1a1a1a" stroke-width="0.62"/><circle cx="371.5" cy="120" r="2.5" fill="none" stroke="#1a1a1a" stroke-width="0.62"/><circle cx="399.5" cy="143.7" r="2.5" fill="none" stroke="#1a1a1a" stroke-width="0.62"/><circle cx="414.5" cy="145.2" r="2.5" fill="none" stroke="#1a1a1a" stroke-width="0.62"/><circle cx="436.8" cy="142.5" r="2.5" fill="none" stroke="#1a1a1a" stroke-width="0.62"/><circle cx="439" cy="147.5" r="2.5" fill="none" stroke="#1a1a1a" stroke-width="0.62"/><circle cx="435" cy="150.5" r="2.5" fill="none" stroke="#1a1a1a" stroke-width="0.62"/><circle cx="437.2" cy="154" r="2.5" fill="none" stroke="#1a1a1a" stroke-width="0.62"/><circle cx="430" cy="151.5" r="2.5" fill="none" stroke="#1a1a1a" stroke-width="0.62"/><circle cx="426" cy="152.5" r="2.5" fill="none" stroke="#1a1a1a" stroke-width="0.62"/><circle cx="433" cy="155" r="2.5" fill="none" stroke="#1a1a1a" stroke-width="0.62"/><circle cx="434" cy="159" r="2.5" fill="none" stroke="#1a1a1a" stroke-width="0.62"/><circle cx="436.5" cy="159.5" r="2.5" fill="none" stroke="#1a1a1a" stroke-width="0.62"/><circle cx="439.5" cy="162.5" r="2.5" fill="none" stroke="#1a1a1a" stroke-width="0.62"/><circle cx="433" cy="162.5" r="2.5" fill="none" stroke="#1a1a1a" stroke-width="0.62"/><circle cx="426" cy="164" r="2.5" fill="none" stroke="#1a1a1a" stroke-width="0.62"/><circle cx="425.5" cy="167.5" r="2.5" fill="none" stroke="#1a1a1a" stroke-width="0.62"/><circle cx="424" cy="156" r="2.5" fill="none" stroke="#1a1a1a" stroke-width="0.62"/><circle cx="428" cy="158" r="2.5" fill="none" stroke="#1a1a1a" stroke-width="0.62"/><circle cx="415" cy="145" r="2.5" fill="none" stroke="#1a1a1a" stroke-width="0.62"/><circle cx="420" cy="150.5" r="2.5" fill="none" stroke="#1a1a1a" stroke-width="0.62"/><circle cx="367" cy="160" r="2.5" fill="none" stroke="#1a1a1a" stroke-width="0.62"/><circle cx="368" cy="165" r="2.5" fill="none" stroke="#1a1a1a" stroke-width="0.62"/><circle cx="370" cy="170" r="2.5" fill="none" stroke="#1a1a1a" stroke-width="0.62"/><circle cx="377" cy="180" r="2.5" fill="none" stroke="#1a1a1a" stroke-width="0.62"/><circle cx="380" cy="183" r="2.5" fill="none" stroke="#1a1a1a" stroke-width="0.62"/><circle cx="406.06" cy="163.95" r="2.5" fill="none" stroke="#1a1a1a" stroke-width="0.62"/><circle cx="401.57" cy="168.37" r="2.5" fill="none" stroke="#1a1a1a" stroke-width="0.62"/><circle cx="393.46" cy="162.3" r="2.5" fill="none" stroke="#1a1a1a" stroke-width="0.62"/><circle cx="404.05" cy="155.61" r="2.5" fill="none" stroke="#1a1a1a" stroke-width="0.62"/><circle cx="399.64" cy="153.29" r="2.5" fill="none" stroke="#1a1a1a" stroke-width="0.62"/><circle cx="397.17" cy="168.48" r="2.5" fill="none" stroke="#1a1a1a" stroke-width="0.62"/><circle cx="409.66" cy="162.67" r="2.5" fill="none" stroke="#1a1a1a" stroke-width="0.62"/><circle cx="401.68" cy="156.31" r="2.5" fill="none" stroke="#1a1a1a" stroke-width="0.62"/><circle cx="422.28" cy="163.66" r="2.5" fill="none" stroke="#1a1a1a" stroke-width="0.62"/><circle cx="414.93" cy="156.98" r="2.5" fill="none" stroke="#1a1a1a" stroke-width="0.62"/><circle cx="402.15" cy="153.92" r="2.5" fill="none" stroke="#1a1a1a" stroke-width="0.62"/><circle cx="411.8" cy="167.95" r="2.5" fill="none" stroke="#1a1a1a" stroke-width="0.62"/><circle cx="385.03" cy="167.12" r="2.5" fill="none" stroke="#1a1a1a" stroke-width="0.62"/><circle cx="410.3" cy="152.78" r="2.5" fill="none" stroke="#1a1a1a" stroke-width="0.62"/><circle cx="385.75" cy="161.19" r="2.5" fill="none" stroke="#1a1a1a" stroke-width="0.62"/><circle cx="397.71" cy="157.1" r="2.5" fill="none" stroke="#1a1a1a" stroke-width="0.62"/><circle cx="404.32" cy="165.37" r="2.5" fill="none" stroke="#1a1a1a" stroke-width="0.62"/><circle cx="410.34" cy="166.88" r="2.5" fill="none" stroke="#1a1a1a" stroke-width="0.62"/><circle cx="419.03" cy="167.96" r="2.5" fill="none" stroke="#1a1a1a" stroke-width="0.62"/><circle cx="390.88" cy="163.47" r="2.5" fill="none" stroke="#1a1a1a" stroke-width="0.62"/><circle cx="393.4" cy="159.75" r="2.5" fill="none" stroke="#1a1a1a" stroke-width="0.62"/><circle cx="403.19" cy="164.18" r="2.5" fill="none" stroke="#1a1a1a" stroke-width="0.62"/><circle cx="408.9" cy="154.03" r="2.5" fill="none" stroke="#1a1a1a" stroke-width="0.62"/><circle cx="391.62" cy="166.1" r="2.5" fill="none" stroke="#1a1a1a" stroke-width="0.62"/><circle cx="402.01" cy="162.58" r="2.5" fill="none" stroke="#1a1a1a" stroke-width="0.62"/><circle cx="403.37" cy="159.77" r="2.5" fill="none" stroke="#1a1a1a" stroke-width="0.62"/><circle cx="411.01" cy="164.77" r="2.5" fill="none" stroke="#1a1a1a" stroke-width="0.62"/><circle cx="403.12" cy="160.31" r="2.5" fill="none" stroke="#1a1a1a" stroke-width="0.62"/><circle cx="394.19" cy="165.98" r="2.5" fill="none" stroke="#1a1a1a" stroke-width="0.62"/><circle cx="388.96" cy="167.85" r="2.5" fill="none" stroke="#1a1a1a" stroke-width="0.62"/><circle cx="405.47" cy="155.85" r="2.5" fill="none" stroke="#1a1a1a" stroke-width="0.62"/><circle cx="401.49" cy="162.65" r="2.5" fill="none" stroke="#1a1a1a" stroke-width="0.62"/><circle cx="408.6" cy="166.67" r="2.5" fill="none" stroke="#1a1a1a" stroke-width="0.62"/><circle cx="403.64" cy="159.19" r="2.5" fill="none" stroke="#1a1a1a" stroke-width="0.62"/><circle cx="402.56" cy="163.89" r="2.5" fill="none" stroke="#1a1a1a" stroke-width="0.62"/><circle cx="411.34" cy="164.36" r="2.5" fill="none" stroke="#1a1a1a" stroke-width="0.62"/><circle cx="396.77" cy="157.55" r="2.5" fill="none" stroke="#1a1a1a" stroke-width="0.62"/><circle cx="400.27" cy="160.43" r="2.5" fill="none" stroke="#1a1a1a" stroke-width="0.62"/><circle cx="392.88" cy="165.34" r="2.5" fill="none" stroke="#1a1a1a" stroke-width="0.62"/><circle cx="399.09" cy="165.49" r="2.5" fill="none" stroke="#1a1a1a" stroke-width="0.62"/><circle cx="409.23" cy="160.69" r="2.5" fill="none" stroke="#1a1a1a" stroke-width="0.62"/><circle cx="427.24" cy="157.98" r="2.5" fill="none" stroke="#1a1a1a" stroke-width="0.62"/><circle cx="415.02" cy="162.71" r="2.5" fill="none" stroke="#1a1a1a" stroke-width="0.62"/><circle cx="396.49" cy="166.77" r="2.5" fill="none" stroke="#1a1a1a" stroke-width="0.62"/><circle cx="410.02" cy="176.29" r="2.5" fill="none" stroke="#1a1a1a" stroke-width="0.62"/><circle cx="407.23" cy="170.74" r="2.5" fill="none" stroke="#1a1a1a" stroke-width="0.62"/><circle cx="411.66" cy="168.04" r="2.5" fill="none" stroke="#1a1a1a" stroke-width="0.62"/><circle cx="409.1" cy="162.19" r="2.5" fill="none" stroke="#1a1a1a" stroke-width="0.62"/><circle cx="409.09" cy="156.91" r="2.5" fill="none" stroke="#1a1a1a" stroke-width="0.62"/><circle cx="415.81" cy="156.05" r="2.5" fill="none" stroke="#1a1a1a" stroke-width="0.62"/><circle cx="406.49" cy="175.69" r="2.5" fill="none" stroke="#1a1a1a" stroke-width="0.62"/><circle cx="401.77" cy="164.51" r="2.5" fill="none" stroke="#1a1a1a" stroke-width="0.62"/><circle cx="415.63" cy="162.06" r="2.5" fill="none" stroke="#1a1a1a" stroke-width="0.62"/><circle cx="395.92" cy="166.93" r="2.5" fill="none" stroke="#1a1a1a" stroke-width="0.62"/><circle cx="409.82" cy="167.02" r="2.5" fill="none" stroke="#1a1a1a" stroke-width="0.62"/><circle cx="396.27" cy="175.42" r="2.5" fill="none" stroke="#1a1a1a" stroke-width="0.62"/><circle cx="420.67" cy="161.1" r="2.5" fill="none" stroke="#1a1a1a" stroke-width="0.62"/><circle cx="406.69" cy="161.06" r="2.5" fill="none" stroke="#1a1a1a" stroke-width="0.62"/><circle cx="418.14" cy="157.42" r="2.5" fill="none" stroke="#1a1a1a" stroke-width="0.62"/><circle cx="410.74" cy="160.04" r="2.5" fill="none" stroke="#1a1a1a" stroke-width="0.62"/><circle cx="397.06" cy="169.36" r="2.5" fill="none" stroke="#1a1a1a" stroke-width="0.62"/><circle cx="417.34" cy="161.54" r="2.5" fill="none" stroke="#1a1a1a" stroke-width="0.62"/><circle cx="397.23" cy="169.86" r="2.5" fill="none" stroke="#1a1a1a" stroke-width="0.62"/><circle cx="403.5" cy="165.87" r="2.5" fill="none" stroke="#1a1a1a" stroke-width="0.62"/><circle cx="419.23" cy="167.74" r="2.5" fill="none" stroke="#1a1a1a" stroke-width="0.62"/><circle cx="398.8" cy="178.01" r="2.5" fill="none" stroke="#1a1a1a" stroke-width="0.62"/><circle cx="404.03" cy="168.49" r="2.5" fill="none" stroke="#1a1a1a" stroke-width="0.62"/><circle cx="397.53" cy="164.91" r="2.5" fill="none" stroke="#1a1a1a" stroke-width="0.62"/><circle cx="386.5" cy="177.38" r="2.5" fill="none" stroke="#1a1a1a" stroke-width="0.62"/><circle cx="417.66" cy="154.59" r="2.5" fill="none" stroke="#1a1a1a" stroke-width="0.62"/><circle cx="388.95" cy="157.43" r="2.5" fill="none" stroke="#1a1a1a" stroke-width="0.62"/><circle cx="415.76" cy="159.25" r="2.5" fill="none" stroke="#1a1a1a" stroke-width="0.62"/><circle cx="403.39" cy="162.32" r="2.5" fill="none" stroke="#1a1a1a" stroke-width="0.62"/><circle cx="402.79" cy="157.99" r="2.5" fill="none" stroke="#1a1a1a" stroke-width="0.62"/><circle cx="404.24" cy="155.73" r="2.5" fill="none" stroke="#1a1a1a" stroke-width="0.62"/><circle cx="403.29" cy="165.9" r="2.5" fill="none" stroke="#1a1a1a" stroke-width="0.62"/><circle cx="408.68" cy="161.83" r="2.5" fill="none" stroke="#1a1a1a" stroke-width="0.62"/><circle cx="394.96" cy="166.54" r="2.5" fill="none" stroke="#1a1a1a" stroke-width="0.62"/><circle cx="399.15" cy="173.83" r="2.5" fill="none" stroke="#1a1a1a" stroke-width="0.62"/><circle cx="411.68" cy="161.96" r="2.5" fill="none" stroke="#1a1a1a" stroke-width="0.62"/><circle cx="399.29" cy="160.83" r="2.5" fill="none" stroke="#1a1a1a" stroke-width="0.62"/><circle cx="394.63" cy="163.67" r="2.5" fill="none" stroke="#1a1a1a" stroke-width="0.62"/><circle cx="406.95" cy="166.42" r="2.5" fill="none" stroke="#1a1a1a" stroke-width="0.62"/><circle cx="409.69" cy="174.99" r="2.5" fill="none" stroke="#1a1a1a" stroke-width="0.62"/><circle cx="396.95" cy="165.34" r="2.5" fill="none" stroke="#1a1a1a" stroke-width="0.62"/><circle cx="398.79" cy="165.91" r="2.5" fill="none" stroke="#1a1a1a" stroke-width="0.62"/><circle cx="405.54" cy="166.06" r="2.5" fill="none" stroke="#1a1a1a" stroke-width="0.62"/><circle cx="401.61" cy="166.53" r="2.5" fill="none" stroke="#1a1a1a" stroke-width="0.62"/><circle cx="404.53" cy="168.32" r="2.5" fill="none" stroke="#1a1a1a" stroke-width="0.62"/><circle cx="385.07" cy="162.34" r="2.5" fill="none" stroke="#1a1a1a" stroke-width="0.62"/><circle cx="403.98" cy="158.1" r="2.5" fill="none" stroke="#1a1a1a" stroke-width="0.62"/><circle cx="393.55" cy="169.47" r="2.5" fill="none" stroke="#1a1a1a" stroke-width="0.62"/><circle cx="397.5" cy="168.8" r="2.5" fill="none" stroke="#1a1a1a" stroke-width="0.62"/><circle cx="411.46" cy="164.41" r="2.5" fill="none" stroke="#1a1a1a" stroke-width="0.62"/><circle cx="409.08" cy="162.49" r="2.5" fill="none" stroke="#1a1a1a" stroke-width="0.62"/><circle cx="389.91" cy="166.36" r="2.5" fill="none" stroke="#1a1a1a" stroke-width="0.62"/><circle cx="408.54" cy="160.15" r="2.5" fill="none" stroke="#1a1a1a" stroke-width="0.62"/><circle cx="403" cy="168.47" r="2.5" fill="none" stroke="#1a1a1a" stroke-width="0.62"/><circle cx="395.22" cy="169.24" r="2.5" fill="none" stroke="#1a1a1a" stroke-width="0.62"/><circle cx="422.63" cy="157.47" r="2.5" fill="none" stroke="#1a1a1a" stroke-width="0.62"/><circle cx="405.47" cy="162.88" r="2.5" fill="none" stroke="#1a1a1a" stroke-width="0.62"/><circle cx="419.4" cy="163.04" r="2.5" fill="none" stroke="#1a1a1a" stroke-width="0.62"/><circle cx="412.98" cy="158.43" r="2.5" fill="none" stroke="#1a1a1a" stroke-width="0.62"/><circle cx="403.84" cy="163.97" r="2.5" fill="none" stroke="#1a1a1a" stroke-width="0.62"/><circle cx="386.24" cy="175.44" r="2.5" fill="none" stroke="#1a1a1a" stroke-width="0.62"/><circle cx="412.99" cy="152.37" r="2.5" fill="none" stroke="#1a1a1a" stroke-width="0.62"/><circle cx="411.44" cy="161.91" r="2.5" fill="none" stroke="#1a1a1a" stroke-width="0.62"/><circle cx="408.48" cy="165.29" r="2.5" fill="none" stroke="#1a1a1a" stroke-width="0.62"/><circle cx="389.01" cy="165.48" r="2.5" fill="none" stroke="#1a1a1a" stroke-width="0.62"/><circle cx="418.93" cy="158.02" r="2.5" fill="none" stroke="#1a1a1a" stroke-width="0.62"/><circle cx="393.77" cy="158.06" r="2.5" fill="none" stroke="#1a1a1a" stroke-width="0.62"/><circle cx="391.79" cy="168.12" r="2.5" fill="none" stroke="#1a1a1a" stroke-width="0.62"/><circle cx="420.93" cy="163.41" r="2.5" fill="none" stroke="#1a1a1a" stroke-width="0.62"/><circle cx="406.46" cy="176.34" r="2.5" fill="none" stroke="#1a1a1a" stroke-width="0.62"/><circle cx="398.81" cy="161.08" r="2.5" fill="none" stroke="#1a1a1a" stroke-width="0.62"/><circle cx="409.28" cy="166.19" r="2.5" fill="none" stroke="#1a1a1a" stroke-width="0.62"/><circle cx="393.85" cy="159.13" r="2.5" fill="none" stroke="#1a1a1a" stroke-width="0.62"/><circle cx="406.91" cy="164.89" r="2.5" fill="none" stroke="#1a1a1a" stroke-width="0.62"/><circle cx="390.93" cy="165.19" r="2.5" fill="none" stroke="#1a1a1a" stroke-width="0.62"/><circle cx="398.57" cy="167.61" r="2.5" fill="none" stroke="#1a1a1a" stroke-width="0.62"/><circle cx="402.83" cy="163.72" r="2.5" fill="none" stroke="#1a1a1a" stroke-width="0.62"/><circle cx="400.47" cy="170.67" r="2.5" fill="none" stroke="#1a1a1a" stroke-width="0.62"/><circle cx="417.91" cy="159.4" r="2.5" fill="none" stroke="#1a1a1a" stroke-width="0.62"/><circle cx="412.46" cy="158.14" r="2.5" fill="none" stroke="#1a1a1a" stroke-width="0.62"/><circle cx="404.72" cy="168.16" r="2.5" fill="none" stroke="#1a1a1a" stroke-width="0.62"/><circle cx="419.14" cy="159.08" r="2.5" fill="none" stroke="#1a1a1a" stroke-width="0.62"/><circle cx="403.26" cy="165.26" r="2.5" fill="none" stroke="#1a1a1a" stroke-width="0.62"/><circle cx="389.02" cy="166.79" r="2.5" fill="none" stroke="#1a1a1a" stroke-width="0.62"/><circle cx="397.24" cy="167.34" r="2.5" fill="none" stroke="#1a1a1a" stroke-width="0.62"/><circle cx="392.7" cy="154.72" r="2.5" fill="none" stroke="#1a1a1a" stroke-width="0.62"/><circle cx="404.38" cy="165.42" r="2.5" fill="none" stroke="#1a1a1a" stroke-width="0.62"/><circle cx="398.51" cy="170.08" r="2.5" fill="none" stroke="#1a1a1a" stroke-width="0.62"/><circle cx="401.27" cy="161.02" r="2.5" fill="none" stroke="#1a1a1a" stroke-width="0.62"/><circle cx="408.78" cy="154.16" r="2.5" fill="none" stroke="#1a1a1a" stroke-width="0.62"/><circle cx="397.23" cy="165.1" r="2.5" fill="none" stroke="#1a1a1a" stroke-width="0.62"/><circle cx="412.49" cy="161.54" r="2.5" fill="none" stroke="#1a1a1a" stroke-width="0.62"/><circle cx="407.08" cy="159.69" r="2.5" fill="none" stroke="#1a1a1a" stroke-width="0.62"/><circle cx="407.02" cy="172.98" r="2.5" fill="none" stroke="#1a1a1a" stroke-width="0.62"/><circle cx="397.14" cy="178.78" r="2.5" fill="none" stroke="#1a1a1a" stroke-width="0.62"/><circle cx="397.56" cy="165.26" r="2.5" fill="none" stroke="#1a1a1a" stroke-width="0.62"/><circle cx="405.73" cy="169.55" r="2.5" fill="none" stroke="#1a1a1a" stroke-width="0.62"/><circle cx="391.63" cy="154.2" r="2.5" fill="none" stroke="#1a1a1a" stroke-width="0.62"/><circle cx="410.06" cy="167.46" r="2.5" fill="none" stroke="#1a1a1a" stroke-width="0.62"/><circle cx="410.24" cy="177.93" r="2.5" fill="none" stroke="#1a1a1a" stroke-width="0.62"/><circle cx="406.05" cy="165.08" r="2.5" fill="none" stroke="#1a1a1a" stroke-width="0.62"/><circle cx="413.29" cy="164.44" r="2.5" fill="none" stroke="#1a1a1a" stroke-width="0.62"/><circle cx="420.64" cy="153.92" r="2.5" fill="none" stroke="#1a1a1a" stroke-width="0.62"/><circle cx="412.12" cy="160.41" r="2.5" fill="none" stroke="#1a1a1a" stroke-width="0.62"/><circle cx="413.24" cy="174.67" r="2.5" fill="none" stroke="#1a1a1a" stroke-width="0.62"/><circle cx="403.94" cy="162.55" r="2.5" fill="none" stroke="#1a1a1a" stroke-width="0.62"/><circle cx="387" cy="162.97" r="2.5" fill="none" stroke="#1a1a1a" stroke-width="0.62"/><circle cx="386.22" cy="171.84" r="2.5" fill="none" stroke="#1a1a1a" stroke-width="0.62"/><circle cx="390.22" cy="168.4" r="2.5" fill="none" stroke="#1a1a1a" stroke-width="0.62"/><circle cx="388.96" cy="173.49" r="2.5" fill="none" stroke="#1a1a1a" stroke-width="0.62"/><circle cx="392.96" cy="167.15" r="2.5" fill="none" stroke="#1a1a1a" stroke-width="0.62"/><circle cx="393.99" cy="167.09" r="2.5" fill="none" stroke="#1a1a1a" stroke-width="0.62"/><circle cx="383.08" cy="176.73" r="2.5" fill="none" stroke="#1a1a1a" stroke-width="0.62"/><circle cx="392.79" cy="162.26" r="2.5" fill="none" stroke="#1a1a1a" stroke-width="0.62"/><circle cx="396.47" cy="170.07" r="2.5" fill="none" stroke="#1a1a1a" stroke-width="0.62"/><circle cx="380.61" cy="177.66" r="2.5" fill="none" stroke="#1a1a1a" stroke-width="0.62"/><circle cx="392" cy="173.35" r="2.5" fill="none" stroke="#1a1a1a" stroke-width="0.62"/><circle cx="391.19" cy="167.1" r="2.5" fill="none" stroke="#1a1a1a" stroke-width="0.62"/><circle cx="380.71" cy="173.83" r="2.5" fill="none" stroke="#1a1a1a" stroke-width="0.62"/><circle cx="390.18" cy="166.28" r="2.5" fill="none" stroke="#1a1a1a" stroke-width="0.62"/><circle cx="392.11" cy="168.47" r="2.5" fill="none" stroke="#1a1a1a" stroke-width="0.62"/><circle cx="394.05" cy="165.77" r="2.5" fill="none" stroke="#1a1a1a" stroke-width="0.62"/><circle cx="389.78" cy="155.17" r="2.5" fill="none" stroke="#1a1a1a" stroke-width="0.62"/><circle cx="387.46" cy="172.05" r="2.5" fill="none" stroke="#1a1a1a" stroke-width="0.62"/><circle cx="398.02" cy="165.82" r="2.5" fill="none" stroke="#1a1a1a" stroke-width="0.62"/><circle cx="389.27" cy="177.5" r="2.5" fill="none" stroke="#1a1a1a" stroke-width="0.62"/><circle cx="388.05" cy="172.4" r="2.5" fill="none" stroke="#1a1a1a" stroke-width="0.62"/><circle cx="400.07" cy="168.24" r="2.5" fill="none" stroke="#1a1a1a" stroke-width="0.62"/><circle cx="397.36" cy="163.74" r="2.5" fill="none" stroke="#1a1a1a" stroke-width="0.62"/><circle cx="391.25" cy="167.54" r="2.5" fill="none" stroke="#1a1a1a" stroke-width="0.62"/><circle cx="390.69" cy="174.78" r="2.5" fill="none" stroke="#1a1a1a" stroke-width="0.62"/><circle cx="386.55" cy="170.98" r="2.5" fill="none" stroke="#1a1a1a" stroke-width="0.62"/><circle cx="383.67" cy="170.98" r="2.5" fill="none" stroke="#1a1a1a" stroke-width="0.62"/><circle cx="393.43" cy="166.33" r="2.5" fill="none" stroke="#1a1a1a" stroke-width="0.62"/><circle cx="393.19" cy="158.7" r="2.5" fill="none" stroke="#1a1a1a" stroke-width="0.62"/><circle cx="394.56" cy="158.73" r="2.5" fill="none" stroke="#1a1a1a" stroke-width="0.62"/><circle cx="385.82" cy="164.66" r="2.5" fill="none" stroke="#1a1a1a" stroke-width="0.62"/><circle cx="387.59" cy="173.15" r="2.5" fill="none" stroke="#1a1a1a" stroke-width="0.62"/><circle cx="390.49" cy="165.62" r="2.5" fill="none" stroke="#1a1a1a" stroke-width="0.62"/><circle cx="393.26" cy="177.49" r="2.5" fill="none" stroke="#1a1a1a" stroke-width="0.62"/><circle cx="390.04" cy="170.19" r="2.5" fill="none" stroke="#1a1a1a" stroke-width="0.62"/><circle cx="397.44" cy="169.61" r="2.5" fill="none" stroke="#1a1a1a" stroke-width="0.62"/><circle cx="403.25" cy="156.09" r="2.5" fill="none" stroke="#1a1a1a" stroke-width="0.62"/><circle cx="389.77" cy="170.5" r="2.5" fill="none" stroke="#1a1a1a" stroke-width="0.62"/><circle cx="395.79" cy="172.01" r="2.5" fill="none" stroke="#1a1a1a" stroke-width="0.62"/><circle cx="388.37" cy="161.68" r="2.5" fill="none" stroke="#1a1a1a" stroke-width="0.62"/><circle cx="390.62" cy="174.2" r="2.5" fill="none" stroke="#1a1a1a" stroke-width="0.62"/><circle cx="383.46" cy="161.84" r="2.5" fill="none" stroke="#1a1a1a" stroke-width="0.62"/><circle cx="389.85" cy="156.38" r="2.5" fill="none" stroke="#1a1a1a" stroke-width="0.62"/><circle cx="388.44" cy="165.38" r="2.5" fill="none" stroke="#1a1a1a" stroke-width="0.62"/><circle cx="392.7" cy="163.79" r="2.5" fill="none" stroke="#1a1a1a" stroke-width="0.62"/><circle cx="384.71" cy="165.63" r="2.5" fill="none" stroke="#1a1a1a" stroke-width="0.62"/><circle cx="389.7" cy="164.01" r="2.5" fill="none" stroke="#1a1a1a" stroke-width="0.62"/><circle cx="390.07" cy="172.5" r="2.5" fill="none" stroke="#1a1a1a" stroke-width="0.62"/><circle cx="397.11" cy="178.23" r="2.5" fill="none" stroke="#1a1a1a" stroke-width="0.62"/><circle cx="385.3" cy="165.48" r="2.5" fill="none" stroke="#1a1a1a" stroke-width="0.62"/><circle cx="385.65" cy="167.8" r="2.5" fill="none" stroke="#1a1a1a" stroke-width="0.62"/><circle cx="393.14" cy="159.85" r="2.5" fill="none" stroke="#1a1a1a" stroke-width="0.62"/><circle cx="392.78" cy="167.84" r="2.5" fill="none" stroke="#1a1a1a" stroke-width="0.62"/><circle cx="379.04" cy="169.75" r="2.5" fill="none" stroke="#1a1a1a" stroke-width="0.62"/><circle cx="397.17" cy="156.79" r="2.5" fill="none" stroke="#1a1a1a" stroke-width="0.62"/><circle cx="394.84" cy="169.26" r="2.5" fill="none" stroke="#1a1a1a" stroke-width="0.62"/><circle cx="392.85" cy="170.65" r="2.5" fill="none" stroke="#1a1a1a" stroke-width="0.62"/><circle cx="397.82" cy="166.66" r="2.5" fill="none" stroke="#1a1a1a" stroke-width="0.62"/><circle cx="395.24" cy="165.54" r="2.5" fill="none" stroke="#1a1a1a" stroke-width="0.62"/><circle cx="394.37" cy="163.12" r="2.5" fill="none" stroke="#1a1a1a" stroke-width="0.62"/><circle cx="389.35" cy="178.39" r="2.5" fill="none" stroke="#1a1a1a" stroke-width="0.62"/><circle cx="392.67" cy="167.05" r="2.5" fill="none" stroke="#1a1a1a" stroke-width="0.62"/><circle cx="383.13" cy="163.26" r="2.5" fill="none" stroke="#1a1a1a" stroke-width="0.62"/><circle cx="391.16" cy="173.64" r="2.5" fill="none" stroke="#1a1a1a" stroke-width="0.62"/><circle cx="392.56" cy="171.14" r="2.5" fill="none" stroke="#1a1a1a" stroke-width="0.62"/><circle cx="389.75" cy="176.11" r="2.5" fill="none" stroke="#1a1a1a" stroke-width="0.62"/><circle cx="387.66" cy="164.7" r="2.5" fill="none" stroke="#1a1a1a" stroke-width="0.62"/><circle cx="395.33" cy="168.38" r="2.5" fill="none" stroke="#1a1a1a" stroke-width="0.62"/><circle cx="388.33" cy="164.54" r="2.5" fill="none" stroke="#1a1a1a" stroke-width="0.62"/><circle cx="388.46" cy="171.74" r="2.5" fill="none" stroke="#1a1a1a" stroke-width="0.62"/><circle cx="392.12" cy="160.74" r="2.5" fill="none" stroke="#1a1a1a" stroke-width="0.62"/><circle cx="392.56" cy="169.07" r="2.5" fill="none" stroke="#1a1a1a" stroke-width="0.62"/><circle cx="384" cy="172.64" r="2.5" fill="none" stroke="#1a1a1a" stroke-width="0.62"/><circle cx="388.32" cy="165.99" r="2.5" fill="none" stroke="#1a1a1a" stroke-width="0.62"/><circle cx="394.77" cy="175.92" r="2.5" fill="none" stroke="#1a1a1a" stroke-width="0.62"/><circle cx="385.87" cy="170.63" r="2.5" fill="none" stroke="#1a1a1a" stroke-width="0.62"/><circle cx="384.74" cy="181.89" r="2.5" fill="none" stroke="#1a1a1a" stroke-width="0.62"/><circle cx="387.04" cy="175.17" r="2.5" fill="none" stroke="#1a1a1a" stroke-width="0.62"/><circle cx="386.12" cy="172.87" r="2.5" fill="none" stroke="#1a1a1a" stroke-width="0.62"/><circle cx="387.39" cy="171" r="2.5" fill="none" stroke="#1a1a1a" stroke-width="0.62"/><circle cx="389.44" cy="163.99" r="2.5" fill="none" stroke="#1a1a1a" stroke-width="0.62"/><circle cx="402.91" cy="168.48" r="2.5" fill="none" stroke="#1a1a1a" stroke-width="0.62"/><circle cx="380.13" cy="173.12" r="2.5" fill="none" stroke="#1a1a1a" stroke-width="0.62"/><circle cx="379.67" cy="174.91" r="2.5" fill="none" stroke="#1a1a1a" stroke-width="0.62"/><circle cx="386.53" cy="168.87" r="2.5" fill="none" stroke="#1a1a1a" stroke-width="0.62"/><circle cx="397.57" cy="168.71" r="2.5" fill="none" stroke="#1a1a1a" stroke-width="0.62"/><circle cx="381.65" cy="157.82" r="2.5" fill="none" stroke="#1a1a1a" stroke-width="0.62"/><circle cx="397.1" cy="172.44" r="2.5" fill="none" stroke="#1a1a1a" stroke-width="0.62"/><circle cx="385.11" cy="173.16" r="2.5" fill="none" stroke="#1a1a1a" stroke-width="0.62"/><circle cx="392.98" cy="171.89" r="2.5" fill="none" stroke="#1a1a1a" stroke-width="0.62"/><circle cx="364" cy="150" r="2.5" fill="none" stroke="#1a1a1a" stroke-width="0.62"/><circle cx="366" cy="156" r="2.5" fill="none" stroke="#1a1a1a" stroke-width="0.62"/><circle cx="368" cy="162" r="2.5" fill="none" stroke="#1a1a1a" stroke-width="0.62"/><circle cx="371" cy="165" r="2.5" fill="none" stroke="#1a1a1a" stroke-width="0.62"/><circle cx="373" cy="168" r="2.5" fill="none" stroke="#1a1a1a" stroke-width="0.62"/><circle cx="366" cy="168" r="2.5" fill="none" stroke="#1a1a1a" stroke-width="0.62"/><circle cx="372" cy="158" r="2.5" fill="none" stroke="#1a1a1a" stroke-width="0.62"/><circle cx="376" cy="176" r="2.5" fill="none" stroke="#1a1a1a" stroke-width="0.62"/><circle cx="379" cy="178" r="2.5" fill="none" stroke="#1a1a1a" stroke-width="0.62"/><circle cx="374" cy="180" r="2.5" fill="none" stroke="#1a1a1a" stroke-width="0.62"/><circle cx="422.5" cy="161.72" r="2.5" fill="none" stroke="#1a1a1a" stroke-width="0.62"/><circle cx="418.85" cy="161.68" r="2.5" fill="none" stroke="#1a1a1a" stroke-width="0.62"/><circle cx="416.35" cy="160.53" r="2.5" fill="none" stroke="#1a1a1a" stroke-width="0.62"/><circle cx="422.43" cy="157.25" r="2.5" fill="none" stroke="#1a1a1a" stroke-width="0.62"/><circle cx="423.74" cy="155.62" r="2.5" fill="none" stroke="#1a1a1a" stroke-width="0.62"/><circle cx="419.33" cy="157.67" r="2.5" fill="none" stroke="#1a1a1a" stroke-width="0.62"/><circle cx="418.79" cy="157.17" r="2.5" fill="none" stroke="#1a1a1a" stroke-width="0.62"/><circle cx="410.01" cy="166.09" r="2.5" fill="none" stroke="#1a1a1a" stroke-width="0.62"/><circle cx="419.52" cy="157.5" r="2.5" fill="none" stroke="#1a1a1a" stroke-width="0.62"/><circle cx="419" cy="163.54" r="2.5" fill="none" stroke="#1a1a1a" stroke-width="0.62"/><circle cx="413.11" cy="160.75" r="2.5" fill="none" stroke="#1a1a1a" stroke-width="0.62"/><circle cx="420.7" cy="161.36" r="2.5" fill="none" stroke="#1a1a1a" stroke-width="0.62"/><circle cx="416.32" cy="152.36" r="2.5" fill="none" stroke="#1a1a1a" stroke-width="0.62"/><circle cx="424.21" cy="159.76" r="2.5" fill="none" stroke="#1a1a1a" stroke-width="0.62"/><circle cx="418.07" cy="158.92" r="2.5" fill="none" stroke="#1a1a1a" stroke-width="0.62"/><circle cx="419.32" cy="158.06" r="2.5" fill="none" stroke="#1a1a1a" stroke-width="0.62"/><circle cx="412.88" cy="158.41" r="2.5" fill="none" stroke="#1a1a1a" stroke-width="0.62"/><circle cx="415.02" cy="158.38" r="2.5" fill="none" stroke="#1a1a1a" stroke-width="0.62"/><circle cx="412.21" cy="163.82" r="2.5" fill="none" stroke="#1a1a1a" stroke-width="0.62"/><circle cx="411.45" cy="164.09" r="2.5" fill="none" stroke="#1a1a1a" stroke-width="0.62"/><circle cx="412.93" cy="162.56" r="2.5" fill="none" stroke="#1a1a1a" stroke-width="0.62"/><circle cx="424.87" cy="159.13" r="2.5" fill="none" stroke="#1a1a1a" stroke-width="0.62"/><circle cx="414.35" cy="161.06" r="2.5" fill="none" stroke="#1a1a1a" stroke-width="0.62"/><circle cx="418.74" cy="153.21" r="2.5" fill="none" stroke="#1a1a1a" stroke-width="0.62"/><circle cx="414.96" cy="161.35" r="2.5" fill="none" stroke="#1a1a1a" stroke-width="0.62"/><circle cx="402" cy="131.5" r="2.7" fill="#ea1010" stroke="#400" stroke-width="0.5"/><circle cx="391.7" cy="139.7" r="2.7" fill="#ea1010" stroke="#400" stroke-width="0.5"/><circle cx="406.3" cy="145" r="2.7" fill="#ea1010" stroke="#400" stroke-width="0.5"/><circle cx="383" cy="148" r="2.7" fill="#ea1010" stroke="#400" stroke-width="0.5"/><circle cx="374.2" cy="149.8" r="2.7" fill="#ea1010" stroke="#400" stroke-width="0.5"/><circle cx="386.8" cy="151.3" r="2.7" fill="#ea1010" stroke="#400" stroke-width="0.5"/><circle cx="374.7" cy="155.1" r="2.7" fill="#ea1010" stroke="#400" stroke-width="0.5"/><circle cx="381.9" cy="155.1" r="2.7" fill="#ea1010" stroke="#400" stroke-width="0.5"/><circle cx="389.6" cy="154.9" r="2.7" fill="#ea1010" stroke="#400" stroke-width="0.5"/><circle cx="400.5" cy="155.3" r="2.7" fill="#ea1010" stroke="#400" stroke-width="0.5"/><circle cx="390.6" cy="158.4" r="2.7" fill="#ea1010" stroke="#400" stroke-width="0.5"/><circle cx="383" cy="158.2" r="2.7" fill="#ea1010" stroke="#400" stroke-width="0.5"/><circle cx="394.5" cy="160.8" r="2.7" fill="#ea1010" stroke="#400" stroke-width="0.5"/><circle cx="374.2" cy="161.5" r="2.7" fill="#ea1010" stroke="#400" stroke-width="0.5"/><circle cx="380.2" cy="161.7" r="2.7" fill="#ea1010" stroke="#400" stroke-width="0.5"/><circle cx="378" cy="164.4" r="2.7" fill="#ea1010" stroke="#400" stroke-width="0.5"/><circle cx="395.6" cy="165.8" r="2.7" fill="#ea1010" stroke="#400" stroke-width="0.5"/><circle cx="391.7" cy="169.4" r="2.7" fill="#ea1010" stroke="#400" stroke-width="0.5"/><circle cx="385.2" cy="170.2" r="2.7" fill="#ea1010" stroke="#400" stroke-width="0.5"/><circle cx="372.3" cy="175.9" r="2.7" fill="#ea1010" stroke="#400" stroke-width="0.5"/><circle cx="390.1" cy="173.7" r="2.7" fill="#ea1010" stroke="#400" stroke-width="0.5"/><circle cx="395" cy="175.9" r="2.7" fill="#ea1010" stroke="#400" stroke-width="0.5"/><circle cx="398.3" cy="174.6" r="2.7" fill="#ea1010" stroke="#400" stroke-width="0.5"/><circle cx="387.9" cy="179" r="2.7" fill="#ea1010" stroke="#400" stroke-width="0.5"/><circle cx="393.4" cy="184.7" r="2.7" fill="#ea1010" stroke="#400" stroke-width="0.5"/><circle cx="401.1" cy="184.7" r="2.7" fill="#ea1010" stroke="#400" stroke-width="0.5"/><circle cx="397.2" cy="182.5" r="2.7" fill="#ea1010" stroke="#400" stroke-width="0.5"/><circle cx="413.1" cy="179.8" r="2.7" fill="#ea1010" stroke="#400" stroke-width="0.5"/><circle cx="413.1" cy="185.8" r="2.7" fill="#ea1010" stroke="#400" stroke-width="0.5"/><circle cx="391.2" cy="177" r="2.7" fill="#ea1010" stroke="#400" stroke-width="0.5"/><circle cx="390.1" cy="171" r="2.7" fill="#ea1010" stroke="#400" stroke-width="0.5"/><circle cx="416.7" cy="174.8" r="2.7" fill="#ea1010" stroke="#400" stroke-width="0.5"/><circle cx="379" cy="152" r="2.7" fill="#ea1010" stroke="#400" stroke-width="0.5"/><circle cx="385" cy="162" r="2.7" fill="#ea1010" stroke="#400" stroke-width="0.5"/><circle cx="377" cy="158" r="2.7" fill="#ea1010" stroke="#400" stroke-width="0.5"/><circle cx="393" cy="171" r="2.7" fill="#ea1010" stroke="#400" stroke-width="0.5"/><circle cx="382" cy="174" r="2.7" fill="#ea1010" stroke="#400" stroke-width="0.5"/><circle cx="376" cy="170" r="2.7" fill="#ea1010" stroke="#400" stroke-width="0.5"/><path d="M364.5 178.9L367.5 178.9L366 181.23Z" fill="#a00" stroke="#700" stroke-width="0.4"/><path d="M370.2 181.6L373.2 181.6L371.7 183.93Z" fill="#a00" stroke="#700" stroke-width="0.4"/><path d="M376 140.5L379 140.5L377.5 142.83Z" fill="#a00" stroke="#700" stroke-width="0.4"/><path d="M371.6 145.4L374.6 145.4L373.1 147.73Z" fill="#a00" stroke="#700" stroke-width="0.4"/>
<rect x="347.25" y="0.3" width="250.45" height="202.6" fill="none" stroke="#000" stroke-width="1.1"/>
<path d="M352.5 202.9v-4M352.5 0.3v4M361.26 202.9v-2M361.26 0.3v2M370.02 202.9v-2M370.02 0.3v2M378.78 202.9v-2M378.78 0.3v2M387.53 202.9v-4M387.53 0.3v4M396.29 202.9v-2M396.29 0.3v2M405.05 202.9v-2M405.05 0.3v2M413.8 202.9v-2M413.8 0.3v2M422.56 202.9v-4M422.56 0.3v4M431.32 202.9v-2M431.32 0.3v2M440.07 202.9v-2M440.07 0.3v2M448.83 202.9v-2M448.83 0.3v2M457.59 202.9v-4M457.59 0.3v4M466.35 202.9v-2M466.35 0.3v2M475.1 202.9v-2M475.1 0.3v2M483.86 202.9v-2M483.86 0.3v2M492.62 202.9v-4M492.62 0.3v4M501.37 202.9v-2M501.37 0.3v2M510.13 202.9v-2M510.13 0.3v2M518.89 202.9v-2M518.89 0.3v2M527.64 202.9v-4M527.64 0.3v4M536.4 202.9v-2M536.4 0.3v2M545.16 202.9v-2M545.16 0.3v2M553.92 202.9v-2M553.92 0.3v2M562.67 202.9v-4M562.67 0.3v4M571.43 202.9v-2M571.43 0.3v2M580.19 202.9v-2M580.19 0.3v2M588.94 202.9v-2M588.94 0.3v2M597.7 202.9v-4M597.7 0.3v4" stroke="#000" stroke-width="1" fill="none"/>
<text x="352.5" y="215.7" text-anchor="middle" font-size="10.5" font-weight="bold">-2</text>
<text x="387.53" y="215.7" text-anchor="middle" font-size="10.5" font-weight="bold">-1</text>
<text x="422.56" y="215.7" text-anchor="middle" font-size="10.5" font-weight="bold">0</text>
<text x="457.59" y="215.7" text-anchor="middle" font-size="10.5" font-weight="bold">1</text>
<text x="492.62" y="215.7" text-anchor="middle" font-size="10.5" font-weight="bold">2</text>
<text x="527.64" y="215.7" text-anchor="middle" font-size="10.5" font-weight="bold">3</text>
<text x="562.67" y="215.7" text-anchor="middle" font-size="10.5" font-weight="bold">4</text>
<text x="597.7" y="215.7" text-anchor="middle" font-size="10.5" font-weight="bold">5</text>
<path d="M347.25 196.15h2M597.7 196.15h-2M347.25 187.71h2M597.7 187.71h-2M347.25 179.26h4M597.7 179.26h-4M347.25 170.82h2M597.7 170.82h-2M347.25 162.38h2M597.7 162.38h-2M347.25 153.94h2M597.7 153.94h-2M347.25 145.5h4M597.7 145.5h-4M347.25 137.06h2M597.7 137.06h-2M347.25 128.61h2M597.7 128.61h-2M347.25 120.17h2M597.7 120.17h-2M347.25 111.73h4M597.7 111.73h-4M347.25 103.29h2M597.7 103.29h-2M347.25 94.85h2M597.7 94.85h-2M347.25 86.41h2M597.7 86.41h-2M347.25 77.96h4M597.7 77.96h-4M347.25 69.52h2M597.7 69.52h-2M347.25 61.08h2M597.7 61.08h-2M347.25 52.64h2M597.7 52.64h-2M347.25 44.2h4M597.7 44.2h-4M347.25 35.75h2M597.7 35.75h-2M347.25 27.31h2M597.7 27.31h-2M347.25 18.87h2M597.7 18.87h-2M347.25 10.43h4M597.7 10.43h-4M347.25 1.99h2M597.7 1.99h-2" stroke="#000" stroke-width="1" fill="none"/>
<text x="342.75" y="182.86" text-anchor="end" font-size="10.5" font-weight="bold">-2</text>
<text x="342.75" y="149.1" text-anchor="end" font-size="10.5" font-weight="bold">-1</text>
<text x="342.75" y="115.33" text-anchor="end" font-size="10.5" font-weight="bold">0</text>
<text x="342.75" y="81.56" text-anchor="end" font-size="10.5" font-weight="bold">1</text>
<text x="342.75" y="47.8" text-anchor="end" font-size="10.5" font-weight="bold">2</text>
<text x="342.75" y="14.03" text-anchor="end" font-size="10.5" font-weight="bold">3</text>
<text x="472.4" y="231.3" text-anchor="middle" font-size="13" font-weight="bold">C12</text>
<text transform="translate(325.6 112.1) rotate(-90)" text-anchor="middle" font-size="13" font-weight="bold">C23</text>
<rect x="509.5" y="145.8" width="81.3" height="50.5" fill="#fff" stroke="#8a8a8a" stroke-width="1"/>
<circle cx="526.3" cy="153" r="2.5" fill="none" stroke="#1a1a1a" stroke-width="0.62"/>
<text x="537" y="156.3" font-size="9.6">C stars</text>
<path d="M524.65 164.51L527.95 164.51L526.3 167.07Z" fill="none" stroke="#808080" stroke-width="0.6"/>
<text x="537" y="168.8" font-size="9.6">C stars (1-σ)</text>
<circle cx="526.3" cy="177.5" r="2.7" fill="#ea1010" stroke="#400" stroke-width="0.5"/>
<text x="537" y="180.8" font-size="9.6">S stars</text>
<path d="M524.8 188.8L527.8 188.8L526.3 191.12Z" fill="#a00" stroke="#700" stroke-width="0.4"/>
<text x="537" y="193" font-size="9.6">S stars (1-σ)</text>
<line x1="78.31" y1="422.14" x2="257.39" y2="266.37" stroke="#000" stroke-width="1.4" stroke-dasharray="5.7 6.0"/>
<line x1="78.31" y1="359.17" x2="149.94" y2="359.17" stroke="#000" stroke-width="1.3"/>
<path d="M63.9 340.1L66.9 340.1L65.4 342.43Z" fill="none" stroke="#3030e6" stroke-width="0.6"/><path d="M67.9 339.1L70.9 339.1L69.4 341.43Z" fill="none" stroke="#3030e6" stroke-width="0.6"/><path d="M71.9 339.7L74.9 339.7L73.4 342.03Z" fill="none" stroke="#3030e6" stroke-width="0.6"/><path d="M163 345.1L166 345.1L164.5 347.43Z" fill="none" stroke="#3030e6" stroke-width="0.6"/><path d="M139.9 364.7L142.9 364.7L141.4 367.03Z" fill="none" stroke="#3030e6" stroke-width="0.6"/><circle cx="86" cy="330" r="2.5" fill="none" stroke="#3030e6" stroke-width="0.7"/><circle cx="95" cy="334" r="2.5" fill="none" stroke="#3030e6" stroke-width="0.7"/><circle cx="118" cy="351.6" r="2.5" fill="none" stroke="#3030e6" stroke-width="0.7"/><circle cx="137.4" cy="357" r="2.5" fill="none" stroke="#3030e6" stroke-width="0.7"/><circle cx="145" cy="359.6" r="2.5" fill="none" stroke="#3030e6" stroke-width="0.7"/><circle cx="147" cy="362" r="2.5" fill="none" stroke="#3030e6" stroke-width="0.7"/><circle cx="107" cy="363" r="2.5" fill="none" stroke="#3030e6" stroke-width="0.7"/><circle cx="119" cy="364" r="2.5" fill="none" stroke="#3030e6" stroke-width="0.7"/><circle cx="101" cy="366.4" r="2.5" fill="none" stroke="#3030e6" stroke-width="0.7"/><circle cx="64" cy="367.6" r="2.5" fill="none" stroke="#3030e6" stroke-width="0.7"/><circle cx="64" cy="379.6" r="2.5" fill="none" stroke="#3030e6" stroke-width="0.7"/><circle cx="88" cy="379.6" r="2.5" fill="none" stroke="#3030e6" stroke-width="0.7"/><circle cx="89" cy="387" r="2.5" fill="none" stroke="#3030e6" stroke-width="0.7"/><circle cx="81" cy="389" r="2.5" fill="none" stroke="#3030e6" stroke-width="0.7"/><circle cx="77" cy="386" r="2.5" fill="none" stroke="#3030e6" stroke-width="0.7"/><circle cx="76" cy="393.6" r="2.5" fill="none" stroke="#3030e6" stroke-width="0.7"/><circle cx="70" cy="392.4" r="2.5" fill="none" stroke="#3030e6" stroke-width="0.7"/><circle cx="57.9" cy="397.8" r="2.5" fill="none" stroke="#3030e6" stroke-width="0.7"/><circle cx="67.2" cy="397.8" r="2.5" fill="none" stroke="#3030e6" stroke-width="0.7"/><circle cx="76.3" cy="403.7" r="2.5" fill="none" stroke="#3030e6" stroke-width="0.7"/><circle cx="134" cy="381" r="2.5" fill="none" stroke="#3030e6" stroke-width="0.7"/><circle cx="90" cy="373.6" r="2.5" fill="none" stroke="#3030e6" stroke-width="0.7"/><circle cx="86" cy="352.4" r="2.5" fill="none" stroke="#3030e6" stroke-width="0.7"/><circle cx="107" cy="350.4" r="2.5" fill="none" stroke="#3030e6" stroke-width="0.7"/><circle cx="105" cy="354" r="2.5" fill="none" stroke="#3030e6" stroke-width="0.7"/><circle cx="95" cy="356" r="2.5" fill="none" stroke="#3030e6" stroke-width="0.7"/><circle cx="84.7" cy="427" r="2.5" fill="none" stroke="#3030e6" stroke-width="0.7"/><circle cx="64.2" cy="439.4" r="2.5" fill="none" stroke="#3030e6" stroke-width="0.7"/><circle cx="76.18" cy="362.72" r="2.5" fill="none" stroke="#3030e6" stroke-width="0.7"/><circle cx="83.4" cy="368.9" r="2.5" fill="none" stroke="#3030e6" stroke-width="0.7"/><circle cx="84.43" cy="367.3" r="2.5" fill="none" stroke="#3030e6" stroke-width="0.7"/><circle cx="77.27" cy="361.83" r="2.5" fill="none" stroke="#3030e6" stroke-width="0.7"/><circle cx="77.37" cy="359.18" r="2.5" fill="none" stroke="#3030e6" stroke-width="0.7"/><circle cx="77.92" cy="346.48" r="2.5" fill="none" stroke="#3030e6" stroke-width="0.7"/><circle cx="77" cy="361.78" r="2.5" fill="none" stroke="#3030e6" stroke-width="0.7"/><circle cx="73.16" cy="361.78" r="2.5" fill="none" stroke="#3030e6" stroke-width="0.7"/><circle cx="82.09" cy="360.52" r="2.5" fill="none" stroke="#3030e6" stroke-width="0.7"/><circle cx="77.76" cy="345.57" r="2.5" fill="none" stroke="#3030e6" stroke-width="0.7"/><circle cx="84.88" cy="385.89" r="2.5" fill="none" stroke="#3030e6" stroke-width="0.7"/><circle cx="82.11" cy="359.28" r="2.5" fill="none" stroke="#3030e6" stroke-width="0.7"/><circle cx="84.11" cy="365.35" r="2.5" fill="none" stroke="#3030e6" stroke-width="0.7"/><circle cx="79.14" cy="356.71" r="2.5" fill="none" stroke="#3030e6" stroke-width="0.7"/><circle cx="82.83" cy="357.63" r="2.5" fill="none" stroke="#3030e6" stroke-width="0.7"/><circle cx="80.34" cy="357.41" r="2.5" fill="none" stroke="#3030e6" stroke-width="0.7"/><circle cx="80.21" cy="368.79" r="2.5" fill="none" stroke="#3030e6" stroke-width="0.7"/><circle cx="73.74" cy="361.7" r="2.5" fill="none" stroke="#3030e6" stroke-width="0.7"/><circle cx="82.7" cy="363.31" r="2.5" fill="none" stroke="#3030e6" stroke-width="0.7"/><circle cx="86.45" cy="379.92" r="2.5" fill="none" stroke="#3030e6" stroke-width="0.7"/><circle cx="73.55" cy="344.71" r="2.5" fill="none" stroke="#3030e6" stroke-width="0.7"/><circle cx="84.14" cy="375.77" r="2.5" fill="none" stroke="#3030e6" stroke-width="0.7"/><circle cx="84.53" cy="369.33" r="2.5" fill="none" stroke="#3030e6" stroke-width="0.7"/><circle cx="75.29" cy="355.58" r="2.5" fill="none" stroke="#3030e6" stroke-width="0.7"/><circle cx="84.33" cy="353.8" r="2.5" fill="none" stroke="#3030e6" stroke-width="0.7"/><circle cx="68.12" cy="353.02" r="2.5" fill="none" stroke="#3030e6" stroke-width="0.7"/><circle cx="93.95" cy="379.31" r="2.5" fill="none" stroke="#3030e6" stroke-width="0.7"/><circle cx="74.88" cy="355.44" r="2.5" fill="none" stroke="#3030e6" stroke-width="0.7"/><circle cx="80.39" cy="355.26" r="2.5" fill="none" stroke="#3030e6" stroke-width="0.7"/><circle cx="86.86" cy="361.3" r="2.5" fill="none" stroke="#3030e6" stroke-width="0.7"/><circle cx="72.48" cy="373.78" r="2.5" fill="none" stroke="#3030e6" stroke-width="0.7"/><circle cx="75.5" cy="363.99" r="2.5" fill="none" stroke="#3030e6" stroke-width="0.7"/><circle cx="78.92" cy="359.17" r="2.5" fill="none" stroke="#3030e6" stroke-width="0.7"/><circle cx="80.95" cy="355.77" r="2.5" fill="none" stroke="#3030e6" stroke-width="0.7"/><circle cx="67.93" cy="342.13" r="2.5" fill="none" stroke="#3030e6" stroke-width="0.7"/><circle cx="71.4" cy="355.17" r="2.5" fill="none" stroke="#3030e6" stroke-width="0.7"/><circle cx="78.86" cy="362.5" r="2.5" fill="none" stroke="#3030e6" stroke-width="0.7"/><circle cx="82.34" cy="363.08" r="2.5" fill="none" stroke="#3030e6" stroke-width="0.7"/><circle cx="74.24" cy="355.62" r="2.5" fill="none" stroke="#3030e6" stroke-width="0.7"/><circle cx="66.29" cy="360.48" r="2.5" fill="none" stroke="#3030e6" stroke-width="0.7"/><circle cx="81.91" cy="366.77" r="2.5" fill="none" stroke="#3030e6" stroke-width="0.7"/><circle cx="78.27" cy="360.43" r="2.5" fill="none" stroke="#3030e6" stroke-width="0.7"/><circle cx="84.62" cy="362.14" r="2.5" fill="none" stroke="#3030e6" stroke-width="0.7"/><circle cx="83.43" cy="367.24" r="2.5" fill="none" stroke="#3030e6" stroke-width="0.7"/><circle cx="80.28" cy="373.76" r="2.5" fill="none" stroke="#3030e6" stroke-width="0.7"/><circle cx="75.56" cy="358.77" r="2.5" fill="none" stroke="#3030e6" stroke-width="0.7"/><circle cx="74.15" cy="354.83" r="2.5" fill="none" stroke="#3030e6" stroke-width="0.7"/><circle cx="88.34" cy="377.83" r="2.5" fill="none" stroke="#3030e6" stroke-width="0.7"/><circle cx="79.14" cy="367.11" r="2.5" fill="none" stroke="#3030e6" stroke-width="0.7"/><circle cx="86.05" cy="369.27" r="2.5" fill="none" stroke="#3030e6" stroke-width="0.7"/><circle cx="86.23" cy="350.63" r="2.5" fill="none" stroke="#3030e6" stroke-width="0.7"/><circle cx="75.16" cy="366.07" r="2.5" fill="none" stroke="#3030e6" stroke-width="0.7"/><circle cx="87.61" cy="362.93" r="2.5" fill="none" stroke="#3030e6" stroke-width="0.7"/><circle cx="73.85" cy="358.81" r="2.5" fill="none" stroke="#3030e6" stroke-width="0.7"/><circle cx="75.04" cy="354.28" r="2.5" fill="none" stroke="#3030e6" stroke-width="0.7"/><circle cx="88.01" cy="356.37" r="2.5" fill="none" stroke="#3030e6" stroke-width="0.7"/><circle cx="79.12" cy="381.46" r="2.5" fill="none" stroke="#3030e6" stroke-width="0.7"/><circle cx="86.11" cy="365.03" r="2.5" fill="none" stroke="#3030e6" stroke-width="0.7"/><circle cx="75.33" cy="365.69" r="2.5" fill="none" stroke="#3030e6" stroke-width="0.7"/><circle cx="88.73" cy="367.61" r="2.5" fill="none" stroke="#3030e6" stroke-width="0.7"/><circle cx="86.57" cy="362.88" r="2.5" fill="none" stroke="#3030e6" stroke-width="0.7"/><circle cx="82.1" cy="360.19" r="2.5" fill="none" stroke="#3030e6" stroke-width="0.7"/><circle cx="81.56" cy="373.7" r="2.5" fill="none" stroke="#3030e6" stroke-width="0.7"/><circle cx="70.41" cy="361.44" r="2.5" fill="none" stroke="#3030e6" stroke-width="0.7"/><circle cx="80.44" cy="356.86" r="2.5" fill="none" stroke="#3030e6" stroke-width="0.7"/><circle cx="77.15" cy="369.08" r="2.5" fill="none" stroke="#3030e6" stroke-width="0.7"/><circle cx="91.01" cy="367.67" r="2.5" fill="none" stroke="#3030e6" stroke-width="0.7"/><circle cx="80.96" cy="348.04" r="2.5" fill="none" stroke="#3030e6" stroke-width="0.7"/><circle cx="90.57" cy="362.69" r="2.5" fill="none" stroke="#3030e6" stroke-width="0.7"/><circle cx="78.8" cy="351.93" r="2.5" fill="none" stroke="#3030e6" stroke-width="0.7"/><circle cx="78.66" cy="352.13" r="2.5" fill="none" stroke="#3030e6" stroke-width="0.7"/><circle cx="79.43" cy="366.2" r="2.5" fill="none" stroke="#3030e6" stroke-width="0.7"/><circle cx="79.19" cy="364.52" r="2.5" fill="none" stroke="#3030e6" stroke-width="0.7"/><circle cx="73.89" cy="374.87" r="2.5" fill="none" stroke="#3030e6" stroke-width="0.7"/><circle cx="75.08" cy="345.64" r="2.5" fill="none" stroke="#3030e6" stroke-width="0.7"/><circle cx="78.16" cy="357.65" r="2.5" fill="none" stroke="#3030e6" stroke-width="0.7"/><circle cx="74.46" cy="360.52" r="2.5" fill="none" stroke="#3030e6" stroke-width="0.7"/><circle cx="80.31" cy="354.73" r="2.5" fill="none" stroke="#3030e6" stroke-width="0.7"/><circle cx="78.38" cy="372.99" r="2.5" fill="none" stroke="#3030e6" stroke-width="0.7"/><circle cx="82.07" cy="361.94" r="2.5" fill="none" stroke="#3030e6" stroke-width="0.7"/><circle cx="79.57" cy="362.16" r="2.5" fill="none" stroke="#3030e6" stroke-width="0.7"/><circle cx="78.78" cy="368.13" r="2.5" fill="none" stroke="#3030e6" stroke-width="0.7"/><circle cx="78.58" cy="346.17" r="2.5" fill="none" stroke="#3030e6" stroke-width="0.7"/><circle cx="78.9" cy="356.77" r="2.5" fill="none" stroke="#3030e6" stroke-width="0.7"/><circle cx="81.93" cy="358.73" r="2.5" fill="none" stroke="#3030e6" stroke-width="0.7"/><circle cx="79.67" cy="378.24" r="2.5" fill="none" stroke="#3030e6" stroke-width="0.7"/><circle cx="74.29" cy="355.13" r="2.5" fill="none" stroke="#3030e6" stroke-width="0.7"/><circle cx="72.65" cy="346.24" r="2.5" fill="none" stroke="#3030e6" stroke-width="0.7"/><circle cx="70.55" cy="365.55" r="2.5" fill="none" stroke="#3030e6" stroke-width="0.7"/><circle cx="76.13" cy="349.92" r="2.5" fill="none" stroke="#3030e6" stroke-width="0.7"/><circle cx="72.33" cy="367.32" r="2.5" fill="none" stroke="#3030e6" stroke-width="0.7"/><circle cx="75.51" cy="360.43" r="2.5" fill="none" stroke="#3030e6" stroke-width="0.7"/><circle cx="80.49" cy="372.49" r="2.5" fill="none" stroke="#3030e6" stroke-width="0.7"/><circle cx="87.73" cy="370.23" r="2.5" fill="none" stroke="#3030e6" stroke-width="0.7"/><circle cx="79.65" cy="364.29" r="2.5" fill="none" stroke="#3030e6" stroke-width="0.7"/><circle cx="87.11" cy="373" r="2.5" fill="none" stroke="#3030e6" stroke-width="0.7"/><circle cx="77.6" cy="366.2" r="2.5" fill="none" stroke="#3030e6" stroke-width="0.7"/><circle cx="80.29" cy="363.37" r="2.5" fill="none" stroke="#3030e6" stroke-width="0.7"/><circle cx="76.75" cy="353.71" r="2.5" fill="none" stroke="#3030e6" stroke-width="0.7"/><circle cx="76.6" cy="352.19" r="2.5" fill="none" stroke="#3030e6" stroke-width="0.7"/><circle cx="84.51" cy="366.76" r="2.5" fill="none" stroke="#3030e6" stroke-width="0.7"/><circle cx="73.57" cy="372.77" r="2.5" fill="none" stroke="#3030e6" stroke-width="0.7"/><circle cx="83.01" cy="349.64" r="2.5" fill="none" stroke="#3030e6" stroke-width="0.7"/><circle cx="87.29" cy="368.67" r="2.5" fill="none" stroke="#3030e6" stroke-width="0.7"/><circle cx="88.29" cy="354.38" r="2.5" fill="none" stroke="#3030e6" stroke-width="0.7"/><circle cx="81.39" cy="365.96" r="2.5" fill="none" stroke="#3030e6" stroke-width="0.7"/><circle cx="79.91" cy="364.2" r="2.5" fill="none" stroke="#3030e6" stroke-width="0.7"/><circle cx="83.74" cy="352.54" r="2.5" fill="none" stroke="#3030e6" stroke-width="0.7"/><circle cx="73.41" cy="353.24" r="2.5" fill="none" stroke="#3030e6" stroke-width="0.7"/><circle cx="76.49" cy="358.76" r="2.5" fill="none" stroke="#3030e6" stroke-width="0.7"/><circle cx="90.6" cy="346.4" r="2.4" fill="#fff" stroke="#000" stroke-width="0.8"/><path d="M88.2 346.4A2.4 2.4 0 0 0 93 346.4Z" fill="#000"/><circle cx="99" cy="347" r="2.4" fill="#fff" stroke="#000" stroke-width="0.8"/><path d="M96.6 347A2.4 2.4 0 0 0 101.4 347Z" fill="#000"/><circle cx="102" cy="351.6" r="2.4" fill="#fff" stroke="#000" stroke-width="0.8"/><path d="M99.6 351.6A2.4 2.4 0 0 0 104.4 351.6Z" fill="#000"/><circle cx="74.6" cy="355.6" r="2.4" fill="#fff" stroke="#000" stroke-width="0.8"/><path d="M72.2 355.6A2.4 2.4 0 0 0 77 355.6Z" fill="#000"/><circle cx="70.6" cy="361.6" r="2.4" fill="#fff" stroke="#000" stroke-width="0.8"/><path d="M68.2 361.6A2.4 2.4 0 0 0 73 361.6Z" fill="#000"/><circle cx="88.6" cy="359" r="2.4" fill="#fff" stroke="#000" stroke-width="0.8"/><path d="M86.2 359A2.4 2.4 0 0 0 91 359Z" fill="#000"/><circle cx="92.6" cy="361" r="2.4" fill="#fff" stroke="#000" stroke-width="0.8"/><path d="M90.2 361A2.4 2.4 0 0 0 95 361Z" fill="#000"/><circle cx="98.6" cy="361" r="2.4" fill="#fff" stroke="#000" stroke-width="0.8"/><path d="M96.2 361A2.4 2.4 0 0 0 101 361Z" fill="#000"/><circle cx="93" cy="365" r="2.4" fill="#fff" stroke="#000" stroke-width="0.8"/><path d="M90.6 365A2.4 2.4 0 0 0 95.4 365Z" fill="#000"/><circle cx="112" cy="358.4" r="2.4" fill="#fff" stroke="#000" stroke-width="0.8"/><path d="M109.6 358.4A2.4 2.4 0 0 0 114.4 358.4Z" fill="#000"/><circle cx="122" cy="360.4" r="2.4" fill="#fff" stroke="#000" stroke-width="0.8"/><path d="M119.6 360.4A2.4 2.4 0 0 0 124.4 360.4Z" fill="#000"/><circle cx="143" cy="362" r="2.4" fill="#fff" stroke="#000" stroke-width="0.8"/><path d="M140.6 362A2.4 2.4 0 0 0 145.4 362Z" fill="#000"/><circle cx="75.4" cy="369.6" r="2.4" fill="#fff" stroke="#000" stroke-width="0.8"/><path d="M73 369.6A2.4 2.4 0 0 0 77.8 369.6Z" fill="#000"/><circle cx="80" cy="372.4" r="2.4" fill="#fff" stroke="#000" stroke-width="0.8"/><path d="M77.6 372.4A2.4 2.4 0 0 0 82.4 372.4Z" fill="#000"/><circle cx="96" cy="373" r="2.4" fill="#fff" stroke="#000" stroke-width="0.8"/><path d="M93.6 373A2.4 2.4 0 0 0 98.4 373Z" fill="#000"/><circle cx="114" cy="373.6" r="2.4" fill="#fff" stroke="#000" stroke-width="0.8"/><path d="M111.6 373.6A2.4 2.4 0 0 0 116.4 373.6Z" fill="#000"/><circle cx="78" cy="379.6" r="2.4" fill="#fff" stroke="#000" stroke-width="0.8"/><path d="M75.6 379.6A2.4 2.4 0 0 0 80.4 379.6Z" fill="#000"/><circle cx="80.6" cy="382" r="2.4" fill="#fff" stroke="#000" stroke-width="0.8"/><path d="M78.2 382A2.4 2.4 0 0 0 83 382Z" fill="#000"/><circle cx="96" cy="381.6" r="2.4" fill="#fff" stroke="#000" stroke-width="0.8"/><path d="M93.6 381.6A2.4 2.4 0 0 0 98.4 381.6Z" fill="#000"/><circle cx="100" cy="379.6" r="2.4" fill="#fff" stroke="#000" stroke-width="0.8"/><path d="M97.6 379.6A2.4 2.4 0 0 0 102.4 379.6Z" fill="#000"/><circle cx="103.4" cy="381.6" r="2.4" fill="#fff" stroke="#000" stroke-width="0.8"/><path d="M101 381.6A2.4 2.4 0 0 0 105.8 381.6Z" fill="#000"/><circle cx="116.6" cy="384" r="2.4" fill="#fff" stroke="#000" stroke-width="0.8"/><path d="M114.2 384A2.4 2.4 0 0 0 119 384Z" fill="#000"/><circle cx="123" cy="380.4" r="2.4" fill="#fff" stroke="#000" stroke-width="0.8"/><path d="M120.6 380.4A2.4 2.4 0 0 0 125.4 380.4Z" fill="#000"/><circle cx="137.4" cy="380.4" r="2.4" fill="#fff" stroke="#000" stroke-width="0.8"/><path d="M135 380.4A2.4 2.4 0 0 0 139.8 380.4Z" fill="#000"/><path d="M125.4 324.04L128.6 324.04L127 326.52Z" fill="#000" stroke="#000" stroke-width="0.4"/>
<rect x="42.5" y="251.5" width="250.7" height="201.8" fill="none" stroke="#000" stroke-width="1.1"/>
<path d="M42.5 453.3h4M293.2 453.3h-4M42.5 443.92h2M293.2 443.92h-2M42.5 438.43h2M293.2 438.43h-2M42.5 434.54h2M293.2 434.54h-2M42.5 431.52h2M293.2 431.52h-2M42.5 429.06h2M293.2 429.06h-2M42.5 426.97h2M293.2 426.97h-2M42.5 425.16h2M293.2 425.16h-2M42.5 423.57h2M293.2 423.57h-2M42.5 422.14h4M293.2 422.14h-4M42.5 412.77h2M293.2 412.77h-2M42.5 407.28h2M293.2 407.28h-2M42.5 403.39h2M293.2 403.39h-2M42.5 400.37h2M293.2 400.37h-2M42.5 397.9h2M293.2 397.9h-2M42.5 395.81h2M293.2 395.81h-2M42.5 394.01h2M293.2 394.01h-2M42.5 392.41h2M293.2 392.41h-2M42.5 390.99h4M293.2 390.99h-4M42.5 381.61h2M293.2 381.61h-2M42.5 376.12h2M293.2 376.12h-2M42.5 372.23h2M293.2 372.23h-2M42.5 369.21h2M293.2 369.21h-2M42.5 366.74h2M293.2 366.74h-2M42.5 364.66h2M293.2 364.66h-2M42.5 362.85h2M293.2 362.85h-2M42.5 361.26h2M293.2 361.26h-2M42.5 359.83h4M293.2 359.83h-4M42.5 350.45h2M293.2 350.45h-2M42.5 344.97h2M293.2 344.97h-2M42.5 341.07h2M293.2 341.07h-2M42.5 338.06h2M293.2 338.06h-2M42.5 335.59h2M293.2 335.59h-2M42.5 333.5h2M293.2 333.5h-2M42.5 331.7h2M293.2 331.7h-2M42.5 330.1h2M293.2 330.1h-2M42.5 328.68h4M293.2 328.68h-4M42.5 319.3h2M293.2 319.3h-2M42.5 313.81h2M293.2 313.81h-2M42.5 309.92h2M293.2 309.92h-2M42.5 306.9h2M293.2 306.9h-2M42.5 304.43h2M293.2 304.43h-2M42.5 302.35h2M293.2 302.35h-2M42.5 300.54h2M293.2 300.54h-2M42.5 298.95h2M293.2 298.95h-2M42.5 297.52h4M293.2 297.52h-4M42.5 288.14h2M293.2 288.14h-2M42.5 282.66h2M293.2 282.66h-2M42.5 278.76h2M293.2 278.76h-2M42.5 275.74h2M293.2 275.74h-2M42.5 273.28h2M293.2 273.28h-2M42.5 271.19h2M293.2 271.19h-2M42.5 269.38h2M293.2 269.38h-2M42.5 267.79h2M293.2 267.79h-2M42.5 266.37h4M293.2 266.37h-4M42.5 256.99h2M293.2 256.99h-2M42.5 251.5h2M293.2 251.5h-2" stroke="#000" stroke-width="1" fill="none"/>
<text x="38.2" y="456.8" text-anchor="end" font-size="10" font-weight="bold">10<tspan dy="-4.2" font-size="6.3">-3</tspan></text>
<text x="38.2" y="425.64" text-anchor="end" font-size="10" font-weight="bold">10<tspan dy="-4.2" font-size="6.3">-2</tspan></text>
<text x="38.2" y="394.49" text-anchor="end" font-size="10" font-weight="bold">10<tspan dy="-4.2" font-size="6.3">-1</tspan></text>
<text x="38.2" y="363.33" text-anchor="end" font-size="10" font-weight="bold">10<tspan dy="-4.2" font-size="6.3">0</tspan></text>
<text x="38.2" y="332.18" text-anchor="end" font-size="10" font-weight="bold">10<tspan dy="-4.2" font-size="6.3">1</tspan></text>
<text x="38.2" y="301.02" text-anchor="end" font-size="10" font-weight="bold">10<tspan dy="-4.2" font-size="6.3">2</tspan></text>
<text x="38.2" y="269.87" text-anchor="end" font-size="10" font-weight="bold">10<tspan dy="-4.2" font-size="6.3">3</tspan></text>
<path d="M42.5 453.3v-4M42.5 251.5v4M46.08 453.3v-2M46.08 251.5v2M49.66 453.3v-2M49.66 251.5v2M53.24 453.3v-2M53.24 251.5v2M56.83 453.3v-2M56.83 251.5v2M60.41 453.3v-2M60.41 251.5v2M63.99 453.3v-2M63.99 251.5v2M67.57 453.3v-2M67.57 251.5v2M71.15 453.3v-2M71.15 251.5v2M74.73 453.3v-2M74.73 251.5v2M78.31 453.3v-4M78.31 251.5v4M81.9 453.3v-2M81.9 251.5v2M85.48 453.3v-2M85.48 251.5v2M89.06 453.3v-2M89.06 251.5v2M92.64 453.3v-2M92.64 251.5v2M96.22 453.3v-2M96.22 251.5v2M99.8 453.3v-2M99.8 251.5v2M103.38 453.3v-2M103.38 251.5v2M106.97 453.3v-2M106.97 251.5v2M110.55 453.3v-2M110.55 251.5v2M114.13 453.3v-4M114.13 251.5v4M117.71 453.3v-2M117.71 251.5v2M121.29 453.3v-2M121.29 251.5v2M124.87 453.3v-2M124.87 251.5v2M128.45 453.3v-2M128.45 251.5v2M132.04 453.3v-2M132.04 251.5v2M135.62 453.3v-2M135.62 251.5v2M139.2 453.3v-2M139.2 251.5v2M142.78 453.3v-2M142.78 251.5v2M146.36 453.3v-2M146.36 251.5v2M149.94 453.3v-4M149.94 251.5v4M153.52 453.3v-2M153.52 251.5v2M157.11 453.3v-2M157.11 251.5v2M160.69 453.3v-2M160.69 251.5v2M164.27 453.3v-2M164.27 251.5v2M167.85 453.3v-2M167.85 251.5v2M171.43 453.3v-2M171.43 251.5v2M175.01 453.3v-2M175.01 251.5v2M178.59 453.3v-2M178.59 251.5v2M182.18 453.3v-2M182.18 251.5v2M185.76 453.3v-4M185.76 251.5v4M189.34 453.3v-2M189.34 251.5v2M192.92 453.3v-2M192.92 251.5v2M196.5 453.3v-2M196.5 251.5v2M200.08 453.3v-2M200.08 251.5v2M203.66 453.3v-2M203.66 251.5v2M207.25 453.3v-2M207.25 251.5v2M210.83 453.3v-2M210.83 251.5v2M214.41 453.3v-2M214.41 251.5v2M217.99 453.3v-2M217.99 251.5v2M221.57 453.3v-4M221.57 251.5v4M225.15 453.3v-2M225.15 251.5v2M228.73 453.3v-2M228.73 251.5v2M232.32 453.3v-2M232.32 251.5v2M235.9 453.3v-2M235.9 251.5v2M239.48 453.3v-2M239.48 251.5v2M243.06 453.3v-2M243.06 251.5v2M246.64 453.3v-2M246.64 251.5v2M250.22 453.3v-2M250.22 251.5v2M253.8 453.3v-2M253.8 251.5v2M257.39 453.3v-4M257.39 251.5v4M260.97 453.3v-2M260.97 251.5v2M264.55 453.3v-2M264.55 251.5v2M268.13 453.3v-2M268.13 251.5v2M271.71 453.3v-2M271.71 251.5v2M275.29 453.3v-2M275.29 251.5v2M278.87 453.3v-2M278.87 251.5v2M282.46 453.3v-2M282.46 251.5v2M286.04 453.3v-2M286.04 251.5v2M289.62 453.3v-2M289.62 251.5v2M293.2 453.3v-4M293.2 251.5v4" stroke="#000" stroke-width="1" fill="none"/>
<text x="42.5" y="466.1" text-anchor="middle" font-size="10.5" font-weight="bold">-3</text>
<text x="78.31" y="466.1" text-anchor="middle" font-size="10.5" font-weight="bold">-2</text>
<text x="114.13" y="466.1" text-anchor="middle" font-size="10.5" font-weight="bold">-1</text>
<text x="149.94" y="466.1" text-anchor="middle" font-size="10.5" font-weight="bold">0</text>
<text x="185.76" y="466.1" text-anchor="middle" font-size="10.5" font-weight="bold">1</text>
<text x="221.57" y="466.1" text-anchor="middle" font-size="10.5" font-weight="bold">2</text>
<text x="257.39" y="466.1" text-anchor="middle" font-size="10.5" font-weight="bold">3</text>
<text x="293.2" y="466.1" text-anchor="middle" font-size="10.5" font-weight="bold">4</text>
<text x="167.7" y="481.7" text-anchor="middle" font-size="13" font-weight="bold">C23</text>
<text transform="translate(12.3 398.7) rotate(-90)" font-size="13" font-weight="bold" font-style="italic">R</text>
<text transform="translate(15.6 386.6) rotate(-90)" font-size="7.8" font-weight="bold">CO25</text>
<text transform="translate(12.3 364.2) rotate(-90)" font-size="13" font-weight="bold">[MHz]</text>
<rect x="179.1" y="393.7" width="105.1" height="53.5" fill="#fff" stroke="#8a8a8a" stroke-width="1"/>
<circle cx="197.1" cy="403.4" r="2.4" fill="#fff" stroke="#000" stroke-width="0.8"/><path d="M194.7 403.4A2.4 2.4 0 0 0 199.5 403.4Z" fill="#000"/>
<text x="208.4" y="406.7" font-size="9.6">OH/IR stars</text>
<path d="M195.5 414.84L198.7 414.84L197.1 417.32Z" fill="#000" stroke="#000" stroke-width="0.4"/>
<text x="208.4" y="419.1" font-size="9.6">OH/IR stars (1-σ)</text>
<circle cx="197.1" cy="427.3" r="2.5" fill="none" stroke="#3030e6" stroke-width="0.7"/>
<text x="208.4" y="430.6" font-size="9.6">Other O stars</text>
<path d="M195.6 438.3L198.6 438.3L197.1 440.62Z" fill="none" stroke="#3030e6" stroke-width="0.6"/>
<text x="208.4" y="442.5" font-size="9.6">Other O stars (1-σ)</text>
<path d="M359.5 423.07L359.5 328.71L492.5 328.71L492.5 423.07L450.5 423.07M394.5 328.71L394.5 396.11M436.5 328.71L436.5 396.11M370 416.33L373.5 416.33L373.5 396.11L436.5 396.11M429.5 396.11L429.5 443.29L457.5 416.33L457.5 375.89L436.5 375.89M436.5 355.67L471.5 355.67L471.5 396.11L464.5 402.85L457.5 402.85M471.5 355.67L492.5 328.71M384 443.29L429.5 443.29M408.5 396.11L408.5 423.07L380.5 423.07M394.5 423.07L394.5 443.29M359.5 423.07L370 416.33L380.5 423.07L380.5 436.55L370 443.29L359.5 436.55L359.5 423.07M380.5 436.55L384 443.29" fill="none" stroke="#c4c4c4" stroke-width="0.9"/>
<path d="M396.95 413.89L401.19 412.18L405.43 410.45L409.67 408.68L413.91 406.89L418.15 405.08L422.39 403.24L426.63 401.37L430.87 399.48L435.1 397.56L439.34 395.61L443.58 393.64L447.82 391.64L452.06 389.62L456.3 387.57L460.54 385.49L464.78 383.39L469.02 381.26L473.26 379.11L477.5 376.92L481.74 374.72L485.98 372.48L490.22 370.22L494.46 367.94L498.69 365.63L502.93 363.29L507.17 360.93L511.41 358.54L515.65 356.12L519.89 353.68L524.13 351.21L528.37 348.71L532.61 346.19L536.85 343.65L541.09 341.07L545.33 338.47L549.57 335.85L553.81 333.2L558.05 330.52L562.29 327.82L566.52 325.09" fill="none" stroke="#333" stroke-width="1.15" stroke-dasharray="1.1 2.0"/>
<path d="M419.2 347.4L422.2 347.4L420.7 349.73Z" fill="none" stroke="#3030e6" stroke-width="0.6"/><path d="M419.9 369.9L422.9 369.9L421.4 372.23Z" fill="none" stroke="#3030e6" stroke-width="0.6"/><path d="M373.3 421.6L376.3 421.6L374.8 423.93Z" fill="none" stroke="#3030e6" stroke-width="0.6"/><path d="M392.5 439.9L395.5 439.9L394 442.23Z" fill="none" stroke="#3030e6" stroke-width="0.6"/><circle cx="383" cy="373.6" r="2.5" fill="none" stroke="#3030e6" stroke-width="0.7"/><circle cx="421.9" cy="376.7" r="2.5" fill="none" stroke="#3030e6" stroke-width="0.7"/><circle cx="395.8" cy="392.6" r="2.5" fill="none" stroke="#3030e6" stroke-width="0.7"/><circle cx="415.1" cy="391.7" r="2.5" fill="none" stroke="#3030e6" stroke-width="0.7"/><circle cx="398" cy="402.3" r="2.5" fill="none" stroke="#3030e6" stroke-width="0.7"/><circle cx="391.8" cy="405.6" r="2.5" fill="none" stroke="#3030e6" stroke-width="0.7"/><circle cx="417.5" cy="403.3" r="2.5" fill="none" stroke="#3030e6" stroke-width="0.7"/><circle cx="446.3" cy="404.5" r="2.5" fill="none" stroke="#3030e6" stroke-width="0.7"/><circle cx="402.3" cy="407.5" r="2.5" fill="none" stroke="#3030e6" stroke-width="0.7"/><circle cx="406.8" cy="408.2" r="2.5" fill="none" stroke="#3030e6" stroke-width="0.7"/><circle cx="394.9" cy="413" r="2.5" fill="none" stroke="#3030e6" stroke-width="0.7"/><circle cx="387.6" cy="414.3" r="2.5" fill="none" stroke="#3030e6" stroke-width="0.7"/><circle cx="406.5" cy="416.1" r="2.5" fill="none" stroke="#3030e6" stroke-width="0.7"/><circle cx="366.5" cy="425.8" r="2.5" fill="none" stroke="#3030e6" stroke-width="0.7"/><circle cx="370.5" cy="426.2" r="2.5" fill="none" stroke="#3030e6" stroke-width="0.7"/><circle cx="374.8" cy="428.9" r="2.5" fill="none" stroke="#3030e6" stroke-width="0.7"/><circle cx="377.9" cy="430.8" r="2.5" fill="none" stroke="#3030e6" stroke-width="0.7"/><circle cx="427" cy="428" r="2.5" fill="none" stroke="#3030e6" stroke-width="0.7"/><circle cx="421.5" cy="422.5" r="2.5" fill="none" stroke="#3030e6" stroke-width="0.7"/><circle cx="383" cy="442.7" r="2.5" fill="none" stroke="#3030e6" stroke-width="0.7"/><circle cx="414.2" cy="443" r="2.5" fill="none" stroke="#3030e6" stroke-width="0.7"/><circle cx="399.1" cy="443" r="2.5" fill="none" stroke="#3030e6" stroke-width="0.7"/><circle cx="398" cy="448.2" r="2.5" fill="none" stroke="#3030e6" stroke-width="0.7"/><circle cx="387.6" cy="440" r="2.5" fill="none" stroke="#3030e6" stroke-width="0.7"/><circle cx="457.3" cy="366.7" r="2.5" fill="none" stroke="#3030e6" stroke-width="0.7"/><circle cx="489.3" cy="365.7" r="2.5" fill="none" stroke="#3030e6" stroke-width="0.7"/><circle cx="399.57" cy="430.03" r="2.5" fill="none" stroke="#3030e6" stroke-width="0.7"/><circle cx="397.22" cy="425.32" r="2.5" fill="none" stroke="#3030e6" stroke-width="0.7"/><circle cx="393.91" cy="434.62" r="2.5" fill="none" stroke="#3030e6" stroke-width="0.7"/><circle cx="402.35" cy="428.7" r="2.5" fill="none" stroke="#3030e6" stroke-width="0.7"/><circle cx="394.74" cy="437.72" r="2.5" fill="none" stroke="#3030e6" stroke-width="0.7"/><circle cx="392.84" cy="433.15" r="2.5" fill="none" stroke="#3030e6" stroke-width="0.7"/><circle cx="405.08" cy="426.3" r="2.5" fill="none" stroke="#3030e6" stroke-width="0.7"/><circle cx="402.78" cy="422.08" r="2.5" fill="none" stroke="#3030e6" stroke-width="0.7"/><circle cx="404.09" cy="428.96" r="2.5" fill="none" stroke="#3030e6" stroke-width="0.7"/><circle cx="385.89" cy="434.35" r="2.5" fill="none" stroke="#3030e6" stroke-width="0.7"/><circle cx="390.75" cy="436.89" r="2.5" fill="none" stroke="#3030e6" stroke-width="0.7"/><circle cx="392.25" cy="428.86" r="2.5" fill="none" stroke="#3030e6" stroke-width="0.7"/><circle cx="398.98" cy="426.9" r="2.5" fill="none" stroke="#3030e6" stroke-width="0.7"/><circle cx="398.82" cy="425.73" r="2.5" fill="none" stroke="#3030e6" stroke-width="0.7"/><circle cx="401.7" cy="428.29" r="2.5" fill="none" stroke="#3030e6" stroke-width="0.7"/><circle cx="405.13" cy="427.89" r="2.5" fill="none" stroke="#3030e6" stroke-width="0.7"/><circle cx="384.52" cy="431.48" r="2.5" fill="none" stroke="#3030e6" stroke-width="0.7"/><circle cx="400.27" cy="434.26" r="2.5" fill="none" stroke="#3030e6" stroke-width="0.7"/><circle cx="389.42" cy="438.53" r="2.5" fill="none" stroke="#3030e6" stroke-width="0.7"/><circle cx="395.98" cy="432.82" r="2.5" fill="none" stroke="#3030e6" stroke-width="0.7"/><circle cx="394.43" cy="423.39" r="2.5" fill="none" stroke="#3030e6" stroke-width="0.7"/><circle cx="404.68" cy="432.68" r="2.5" fill="none" stroke="#3030e6" stroke-width="0.7"/><circle cx="407.77" cy="431.93" r="2.5" fill="none" stroke="#3030e6" stroke-width="0.7"/><circle cx="392.99" cy="420.67" r="2.5" fill="none" stroke="#3030e6" stroke-width="0.7"/><circle cx="392.45" cy="426.08" r="2.5" fill="none" stroke="#3030e6" stroke-width="0.7"/><circle cx="391.29" cy="433.04" r="2.5" fill="none" stroke="#3030e6" stroke-width="0.7"/><circle cx="399.29" cy="427.19" r="2.5" fill="none" stroke="#3030e6" stroke-width="0.7"/><circle cx="398.21" cy="428.03" r="2.5" fill="none" stroke="#3030e6" stroke-width="0.7"/><circle cx="398.49" cy="432.82" r="2.5" fill="none" stroke="#3030e6" stroke-width="0.7"/><circle cx="403.72" cy="424.25" r="2.5" fill="none" stroke="#3030e6" stroke-width="0.7"/><circle cx="386.45" cy="438.35" r="2.5" fill="none" stroke="#3030e6" stroke-width="0.7"/><circle cx="397.8" cy="434.83" r="2.5" fill="none" stroke="#3030e6" stroke-width="0.7"/><circle cx="385.5" cy="429.03" r="2.5" fill="none" stroke="#3030e6" stroke-width="0.7"/><circle cx="397.19" cy="421.2" r="2.5" fill="none" stroke="#3030e6" stroke-width="0.7"/><circle cx="393.39" cy="433.47" r="2.5" fill="none" stroke="#3030e6" stroke-width="0.7"/><circle cx="404.55" cy="436.4" r="2.5" fill="none" stroke="#3030e6" stroke-width="0.7"/><circle cx="390.95" cy="422.4" r="2.5" fill="none" stroke="#3030e6" stroke-width="0.7"/><circle cx="400.64" cy="433.5" r="2.5" fill="none" stroke="#3030e6" stroke-width="0.7"/><circle cx="398.35" cy="421.77" r="2.5" fill="none" stroke="#3030e6" stroke-width="0.7"/><circle cx="402.47" cy="432.41" r="2.5" fill="none" stroke="#3030e6" stroke-width="0.7"/><circle cx="400.87" cy="425.77" r="2.5" fill="none" stroke="#3030e6" stroke-width="0.7"/><circle cx="399.13" cy="432.93" r="2.5" fill="none" stroke="#3030e6" stroke-width="0.7"/><circle cx="393.09" cy="419.68" r="2.5" fill="none" stroke="#3030e6" stroke-width="0.7"/><circle cx="399.3" cy="431.23" r="2.5" fill="none" stroke="#3030e6" stroke-width="0.7"/><circle cx="397.09" cy="433.78" r="2.5" fill="none" stroke="#3030e6" stroke-width="0.7"/><circle cx="392.89" cy="429.2" r="2.5" fill="none" stroke="#3030e6" stroke-width="0.7"/><circle cx="394.86" cy="432.41" r="2.5" fill="none" stroke="#3030e6" stroke-width="0.7"/><circle cx="408.17" cy="425.89" r="2.5" fill="none" stroke="#3030e6" stroke-width="0.7"/><circle cx="411.38" cy="434.98" r="2.5" fill="none" stroke="#3030e6" stroke-width="0.7"/><circle cx="402.53" cy="431.29" r="2.5" fill="none" stroke="#3030e6" stroke-width="0.7"/><circle cx="409.4" cy="426.08" r="2.5" fill="none" stroke="#3030e6" stroke-width="0.7"/><circle cx="396.22" cy="423.4" r="2.5" fill="none" stroke="#3030e6" stroke-width="0.7"/><circle cx="400.31" cy="435.73" r="2.5" fill="none" stroke="#3030e6" stroke-width="0.7"/><circle cx="400.73" cy="430.69" r="2.5" fill="none" stroke="#3030e6" stroke-width="0.7"/><circle cx="395.6" cy="430.13" r="2.5" fill="none" stroke="#3030e6" stroke-width="0.7"/><circle cx="387.02" cy="436.22" r="2.5" fill="none" stroke="#3030e6" stroke-width="0.7"/><circle cx="394.13" cy="423.5" r="2.5" fill="none" stroke="#3030e6" stroke-width="0.7"/><circle cx="391.74" cy="425.38" r="2.5" fill="none" stroke="#3030e6" stroke-width="0.7"/><circle cx="402.99" cy="433.76" r="2.5" fill="none" stroke="#3030e6" stroke-width="0.7"/><circle cx="387.5" cy="435.49" r="2.5" fill="none" stroke="#3030e6" stroke-width="0.7"/><circle cx="403.22" cy="424.9" r="2.5" fill="none" stroke="#3030e6" stroke-width="0.7"/><circle cx="386.59" cy="426.62" r="2.5" fill="none" stroke="#3030e6" stroke-width="0.7"/><circle cx="392.56" cy="431.54" r="2.5" fill="none" stroke="#3030e6" stroke-width="0.7"/><circle cx="394.5" cy="418.46" r="2.5" fill="none" stroke="#3030e6" stroke-width="0.7"/><circle cx="398.64" cy="420.48" r="2.5" fill="none" stroke="#3030e6" stroke-width="0.7"/><circle cx="403.34" cy="421.5" r="2.5" fill="none" stroke="#3030e6" stroke-width="0.7"/><circle cx="392.15" cy="425.16" r="2.5" fill="none" stroke="#3030e6" stroke-width="0.7"/><circle cx="393.2" cy="436.59" r="2.5" fill="none" stroke="#3030e6" stroke-width="0.7"/><circle cx="402.96" cy="431.31" r="2.5" fill="none" stroke="#3030e6" stroke-width="0.7"/><circle cx="399.24" cy="420.31" r="2.5" fill="none" stroke="#3030e6" stroke-width="0.7"/><circle cx="393.36" cy="426.6" r="2.5" fill="none" stroke="#3030e6" stroke-width="0.7"/><circle cx="390.16" cy="432.82" r="2.5" fill="none" stroke="#3030e6" stroke-width="0.7"/><circle cx="391.81" cy="425.99" r="2.5" fill="none" stroke="#3030e6" stroke-width="0.7"/><circle cx="389.69" cy="419.06" r="2.5" fill="none" stroke="#3030e6" stroke-width="0.7"/><circle cx="401.17" cy="435.52" r="2.5" fill="none" stroke="#3030e6" stroke-width="0.7"/><circle cx="457.6" cy="367.7" r="2.4" fill="#fff" stroke="#000" stroke-width="0.8"/><path d="M455.2 367.7A2.4 2.4 0 0 0 460 367.7Z" fill="#000"/><circle cx="444" cy="373.7" r="2.4" fill="#fff" stroke="#000" stroke-width="0.8"/><path d="M441.6 373.7A2.4 2.4 0 0 0 446.4 373.7Z" fill="#000"/><circle cx="448.7" cy="388" r="2.4" fill="#fff" stroke="#000" stroke-width="0.8"/><path d="M446.3 388A2.4 2.4 0 0 0 451.1 388Z" fill="#000"/><circle cx="452" cy="387.3" r="2.4" fill="#fff" stroke="#000" stroke-width="0.8"/><path d="M449.6 387.3A2.4 2.4 0 0 0 454.4 387.3Z" fill="#000"/><circle cx="439.7" cy="393.3" r="2.4" fill="#fff" stroke="#000" stroke-width="0.8"/><path d="M437.3 393.3A2.4 2.4 0 0 0 442.1 393.3Z" fill="#000"/><circle cx="446" cy="396" r="2.4" fill="#fff" stroke="#000" stroke-width="0.8"/><path d="M443.6 396A2.4 2.4 0 0 0 448.4 396Z" fill="#000"/><circle cx="452.3" cy="398" r="2.4" fill="#fff" stroke="#000" stroke-width="0.8"/><path d="M449.9 398A2.4 2.4 0 0 0 454.7 398Z" fill="#000"/><circle cx="430" cy="405.7" r="2.4" fill="#fff" stroke="#000" stroke-width="0.8"/><path d="M427.6 405.7A2.4 2.4 0 0 0 432.4 405.7Z" fill="#000"/><circle cx="422.7" cy="407" r="2.4" fill="#fff" stroke="#000" stroke-width="0.8"/><path d="M420.3 407A2.4 2.4 0 0 0 425.1 407Z" fill="#000"/><circle cx="435.3" cy="408" r="2.4" fill="#fff" stroke="#000" stroke-width="0.8"/><path d="M432.9 408A2.4 2.4 0 0 0 437.7 408Z" fill="#000"/><circle cx="445.7" cy="413" r="2.4" fill="#fff" stroke="#000" stroke-width="0.8"/><path d="M443.3 413A2.4 2.4 0 0 0 448.1 413Z" fill="#000"/><circle cx="413.3" cy="409.7" r="2.4" fill="#fff" stroke="#000" stroke-width="0.8"/><path d="M410.9 409.7A2.4 2.4 0 0 0 415.7 409.7Z" fill="#000"/><circle cx="429.8" cy="410.6" r="2.4" fill="#fff" stroke="#000" stroke-width="0.8"/><path d="M427.4 410.6A2.4 2.4 0 0 0 432.2 410.6Z" fill="#000"/><circle cx="420.6" cy="413.3" r="2.4" fill="#fff" stroke="#000" stroke-width="0.8"/><path d="M418.2 413.3A2.4 2.4 0 0 0 423 413.3Z" fill="#000"/><circle cx="422.4" cy="414.2" r="2.4" fill="#fff" stroke="#000" stroke-width="0.8"/><path d="M420 414.2A2.4 2.4 0 0 0 424.8 414.2Z" fill="#000"/><circle cx="430.3" cy="416.6" r="2.4" fill="#fff" stroke="#000" stroke-width="0.8"/><path d="M427.9 416.6A2.4 2.4 0 0 0 432.7 416.6Z" fill="#000"/><circle cx="413.3" cy="416.6" r="2.4" fill="#fff" stroke="#000" stroke-width="0.8"/><path d="M410.9 416.6A2.4 2.4 0 0 0 415.7 416.6Z" fill="#000"/><circle cx="415.6" cy="417" r="2.4" fill="#fff" stroke="#000" stroke-width="0.8"/><path d="M413.2 417A2.4 2.4 0 0 0 418 417Z" fill="#000"/><circle cx="409.6" cy="418.8" r="2.4" fill="#fff" stroke="#000" stroke-width="0.8"/><path d="M407.2 418.8A2.4 2.4 0 0 0 412 418.8Z" fill="#000"/><circle cx="413.8" cy="420.3" r="2.4" fill="#fff" stroke="#000" stroke-width="0.8"/><path d="M411.4 420.3A2.4 2.4 0 0 0 416.2 420.3Z" fill="#000"/><circle cx="413.3" cy="427.6" r="2.4" fill="#fff" stroke="#000" stroke-width="0.8"/><path d="M410.9 427.6A2.4 2.4 0 0 0 415.7 427.6Z" fill="#000"/><circle cx="416.9" cy="428.9" r="2.4" fill="#fff" stroke="#000" stroke-width="0.8"/><path d="M414.5 428.9A2.4 2.4 0 0 0 419.3 428.9Z" fill="#000"/><circle cx="419.7" cy="429.5" r="2.4" fill="#fff" stroke="#000" stroke-width="0.8"/><path d="M417.3 429.5A2.4 2.4 0 0 0 422.1 429.5Z" fill="#000"/><circle cx="414.2" cy="432.6" r="2.4" fill="#fff" stroke="#000" stroke-width="0.8"/><path d="M411.8 432.6A2.4 2.4 0 0 0 416.6 432.6Z" fill="#000"/><circle cx="388.9" cy="431.7" r="2.4" fill="#fff" stroke="#000" stroke-width="0.8"/><path d="M386.5 431.7A2.4 2.4 0 0 0 391.3 431.7Z" fill="#000"/><circle cx="409" cy="436.3" r="2.4" fill="#fff" stroke="#000" stroke-width="0.8"/><path d="M406.6 436.3A2.4 2.4 0 0 0 411.4 436.3Z" fill="#000"/><path d="M457.4 382.64L460.6 382.64L459 385.12Z" fill="#000" stroke="#000" stroke-width="0.4"/>
<rect x="347.25" y="251.2" width="250.25" height="202.2" fill="none" stroke="#000" stroke-width="1.1"/>
<path d="M352.5 453.4v-4M352.5 251.2v4M361.25 453.4v-2M361.25 251.2v2M370 453.4v-2M370 251.2v2M378.75 453.4v-2M378.75 251.2v2M387.5 453.4v-4M387.5 251.2v4M396.25 453.4v-2M396.25 251.2v2M405 453.4v-2M405 251.2v2M413.75 453.4v-2M413.75 251.2v2M422.5 453.4v-4M422.5 251.2v4M431.25 453.4v-2M431.25 251.2v2M440 453.4v-2M440 251.2v2M448.75 453.4v-2M448.75 251.2v2M457.5 453.4v-4M457.5 251.2v4M466.25 453.4v-2M466.25 251.2v2M475 453.4v-2M475 251.2v2M483.75 453.4v-2M483.75 251.2v2M492.5 453.4v-4M492.5 251.2v4M501.25 453.4v-2M501.25 251.2v2M510 453.4v-2M510 251.2v2M518.75 453.4v-2M518.75 251.2v2M527.5 453.4v-4M527.5 251.2v4M536.25 453.4v-2M536.25 251.2v2M545 453.4v-2M545 251.2v2M553.75 453.4v-2M553.75 251.2v2M562.5 453.4v-4M562.5 251.2v4M571.25 453.4v-2M571.25 251.2v2M580 453.4v-2M580 251.2v2M588.75 453.4v-2M588.75 251.2v2M597.5 453.4v-4M597.5 251.2v4" stroke="#000" stroke-width="1" fill="none"/>
<text x="352.5" y="466.2" text-anchor="middle" font-size="10.5" font-weight="bold">-2</text>
<text x="387.5" y="466.2" text-anchor="middle" font-size="10.5" font-weight="bold">-1</text>
<text x="422.5" y="466.2" text-anchor="middle" font-size="10.5" font-weight="bold">0</text>
<text x="457.5" y="466.2" text-anchor="middle" font-size="10.5" font-weight="bold">1</text>
<text x="492.5" y="466.2" text-anchor="middle" font-size="10.5" font-weight="bold">2</text>
<text x="527.5" y="466.2" text-anchor="middle" font-size="10.5" font-weight="bold">3</text>
<text x="562.5" y="466.2" text-anchor="middle" font-size="10.5" font-weight="bold">4</text>
<text x="597.5" y="466.2" text-anchor="middle" font-size="10.5" font-weight="bold">5</text>
<path d="M347.25 446.66h2M597.5 446.66h-2M347.25 438.23h2M597.5 438.23h-2M347.25 429.81h4M597.5 429.81h-4M347.25 421.38h2M597.5 421.38h-2M347.25 412.96h2M597.5 412.96h-2M347.25 404.53h2M597.5 404.53h-2M347.25 396.11h4M597.5 396.11h-4M347.25 387.68h2M597.5 387.68h-2M347.25 379.26h2M597.5 379.26h-2M347.25 370.83h2M597.5 370.83h-2M347.25 362.41h4M597.5 362.41h-4M347.25 353.98h2M597.5 353.98h-2M347.25 345.56h2M597.5 345.56h-2M347.25 337.13h2M597.5 337.13h-2M347.25 328.71h4M597.5 328.71h-4M347.25 320.28h2M597.5 320.28h-2M347.25 311.86h2M597.5 311.86h-2M347.25 303.43h2M597.5 303.43h-2M347.25 295.01h4M597.5 295.01h-4M347.25 286.58h2M597.5 286.58h-2M347.25 278.16h2M597.5 278.16h-2M347.25 269.74h2M597.5 269.74h-2M347.25 261.31h4M597.5 261.31h-4M347.25 252.88h2M597.5 252.88h-2" stroke="#000" stroke-width="1" fill="none"/>
<text x="342.75" y="433.41" text-anchor="end" font-size="10.5" font-weight="bold">-2</text>
<text x="342.75" y="399.71" text-anchor="end" font-size="10.5" font-weight="bold">-1</text>
<text x="342.75" y="366.01" text-anchor="end" font-size="10.5" font-weight="bold">0</text>
<text x="342.75" y="332.31" text-anchor="end" font-size="10.5" font-weight="bold">1</text>
<text x="342.75" y="298.61" text-anchor="end" font-size="10.5" font-weight="bold">2</text>
<text x="342.75" y="264.91" text-anchor="end" font-size="10.5" font-weight="bold">3</text>
<text x="472.2" y="481.7" text-anchor="middle" font-size="13" font-weight="bold">C12</text>
<text transform="translate(325.3 362.6) rotate(-90)" text-anchor="middle" font-size="13" font-weight="bold">C23</text>
<rect x="482.4" y="395.4" width="106.8" height="50.9" fill="#fff" stroke="#8a8a8a" stroke-width="1"/>
<circle cx="501.4" cy="402.8" r="2.4" fill="#fff" stroke="#000" stroke-width="0.8"/><path d="M499 402.8A2.4 2.4 0 0 0 503.8 402.8Z" fill="#000"/>
<text x="512.7" y="406.1" font-size="9.6">OH/IR stars</text>
<path d="M499.8 413.94L503 413.94L501.4 416.42Z" fill="#000" stroke="#000" stroke-width="0.4"/>
<text x="512.7" y="418.2" font-size="9.6">OH/IR stars (1-σ)</text>
<circle cx="501.4" cy="426.6" r="2.5" fill="none" stroke="#3030e6" stroke-width="0.7"/>
<text x="512.7" y="429.9" font-size="9.6">other O stars</text>
<path d="M499.9 437.8L502.9 437.8L501.4 440.12Z" fill="none" stroke="#3030e6" stroke-width="0.6"/>
<text x="512.7" y="442" font-size="9.6">other O stars (1-σ)</text>
<line x1="77.86" y1="669.64" x2="256.14" y2="515.33" stroke="#000" stroke-width="1.4" stroke-dasharray="5.7 6.0"/>
<line x1="77.86" y1="607.26" x2="149.17" y2="607.26" stroke="#000" stroke-width="1.3"/>
<path d="M174.35 532.61L177.65 532.61L176 535.17Z" fill="none" stroke="#808080" stroke-width="0.7"/><path d="M137.35 545.01L140.65 545.01L139 547.57Z" fill="none" stroke="#808080" stroke-width="0.7"/><path d="M136.75 548.61L140.05 548.61L138.4 551.17Z" fill="none" stroke="#808080" stroke-width="0.7"/><path d="M160.35 548.61L163.65 548.61L162 551.17Z" fill="none" stroke="#808080" stroke-width="0.7"/><path d="M158.35 553.41L161.65 553.41L160 555.97Z" fill="none" stroke="#808080" stroke-width="0.7"/><path d="M165.95 552.01L169.25 552.01L167.6 554.57Z" fill="none" stroke="#808080" stroke-width="0.7"/><path d="M122.75 553.01L126.05 553.01L124.4 555.57Z" fill="none" stroke="#808080" stroke-width="0.7"/><path d="M132.75 556.01L136.05 556.01L134.4 558.57Z" fill="none" stroke="#808080" stroke-width="0.7"/><path d="M137.95 557.01L141.25 557.01L139.6 559.57Z" fill="none" stroke="#808080" stroke-width="0.7"/><path d="M140.35 558.61L143.65 558.61L142 561.17Z" fill="none" stroke="#808080" stroke-width="0.7"/><path d="M127.95 560.01L131.25 560.01L129.6 562.57Z" fill="none" stroke="#808080" stroke-width="0.7"/><path d="M143.95 561.01L147.25 561.01L145.6 563.57Z" fill="none" stroke="#808080" stroke-width="0.7"/><path d="M151.95 560.61L155.25 560.61L153.6 563.17Z" fill="none" stroke="#808080" stroke-width="0.7"/><path d="M151.35 564.01L154.65 564.01L153 566.57Z" fill="none" stroke="#808080" stroke-width="0.7"/><path d="M160.75 560.61L164.05 560.61L162.4 563.17Z" fill="none" stroke="#808080" stroke-width="0.7"/><path d="M162.75 564.61L166.05 564.61L164.4 567.17Z" fill="none" stroke="#808080" stroke-width="0.7"/><path d="M174.75 556.01L178.05 556.01L176.4 558.57Z" fill="none" stroke="#808080" stroke-width="0.7"/><path d="M105.35 563.01L108.65 563.01L107 565.57Z" fill="none" stroke="#808080" stroke-width="0.7"/><path d="M120.35 568.61L123.65 568.61L122 571.17Z" fill="none" stroke="#808080" stroke-width="0.7"/><path d="M140.75 571.01L144.05 571.01L142.4 573.57Z" fill="none" stroke="#808080" stroke-width="0.7"/><path d="M158.35 568.61L161.65 568.61L160 571.17Z" fill="none" stroke="#808080" stroke-width="0.7"/><path d="M170.35 571.01L173.65 571.01L172 573.57Z" fill="none" stroke="#808080" stroke-width="0.7"/><path d="M118.75 575.41L122.05 575.41L120.4 577.97Z" fill="none" stroke="#808080" stroke-width="0.7"/><path d="M121.35 574.61L124.65 574.61L123 577.17Z" fill="none" stroke="#808080" stroke-width="0.7"/><path d="M135.35 575.41L138.65 575.41L137 577.97Z" fill="none" stroke="#808080" stroke-width="0.7"/><path d="M147.95 574.61L151.25 574.61L149.6 577.17Z" fill="none" stroke="#808080" stroke-width="0.7"/><path d="M154.35 574.61L157.65 574.61L156 577.17Z" fill="none" stroke="#808080" stroke-width="0.7"/><path d="M158.35 573.41L161.65 573.41L160 575.97Z" fill="none" stroke="#808080" stroke-width="0.7"/><path d="M166.35 574.61L169.65 574.61L168 577.17Z" fill="none" stroke="#808080" stroke-width="0.7"/><path d="M109.95 577.41L113.25 577.41L111.6 579.97Z" fill="none" stroke="#808080" stroke-width="0.7"/><path d="M147.35 577.41L150.65 577.41L149 579.97Z" fill="none" stroke="#808080" stroke-width="0.7"/><path d="M98.35 581.01L101.65 581.01L100 583.57Z" fill="none" stroke="#808080" stroke-width="0.7"/><path d="M105.95 583.41L109.25 583.41L107.6 585.97Z" fill="none" stroke="#808080" stroke-width="0.7"/><path d="M109.35 581.41L112.65 581.41L111 583.97Z" fill="none" stroke="#808080" stroke-width="0.7"/><path d="M139.95 583.41L143.25 583.41L141.6 585.97Z" fill="none" stroke="#808080" stroke-width="0.7"/><path d="M147.35 582.61L150.65 582.61L149 585.17Z" fill="none" stroke="#808080" stroke-width="0.7"/><path d="M160.35 583.01L163.65 583.01L162 585.57Z" fill="none" stroke="#808080" stroke-width="0.7"/><path d="M113.95 586.61L117.25 586.61L115.6 589.17Z" fill="none" stroke="#808080" stroke-width="0.7"/><path d="M116.75 586.61L120.05 586.61L118.4 589.17Z" fill="none" stroke="#808080" stroke-width="0.7"/><path d="M125.95 589.01L129.25 589.01L127.6 591.57Z" fill="none" stroke="#808080" stroke-width="0.7"/><path d="M132.75 588.61L136.05 588.61L134.4 591.17Z" fill="none" stroke="#808080" stroke-width="0.7"/><path d="M154.35 592.01L157.65 592.01L156 594.57Z" fill="none" stroke="#808080" stroke-width="0.7"/><path d="M159.35 592.61L162.65 592.61L161 595.17Z" fill="none" stroke="#808080" stroke-width="0.7"/><path d="M143.35 596.61L146.65 596.61L145 599.17Z" fill="none" stroke="#808080" stroke-width="0.7"/><path d="M125.35 600.01L128.65 600.01L127 602.57Z" fill="none" stroke="#808080" stroke-width="0.7"/><path d="M120.75 603.41L124.05 603.41L122.4 605.97Z" fill="none" stroke="#808080" stroke-width="0.7"/><path d="M158.35 602.61L161.65 602.61L160 605.17Z" fill="none" stroke="#808080" stroke-width="0.7"/><path d="M111.35 609.01L114.65 609.01L113 611.57Z" fill="none" stroke="#808080" stroke-width="0.7"/><path d="M116.75 610.01L120.05 610.01L118.4 612.57Z" fill="none" stroke="#808080" stroke-width="0.7"/><path d="M153.35 612.01L156.65 612.01L155 614.57Z" fill="none" stroke="#808080" stroke-width="0.7"/><path d="M152.75 614.61L156.05 614.61L154.4 617.17Z" fill="none" stroke="#808080" stroke-width="0.7"/><path d="M97.95 617.01L101.25 617.01L99.6 619.57Z" fill="none" stroke="#808080" stroke-width="0.7"/><path d="M122.35 620.61L125.65 620.61L124 623.17Z" fill="none" stroke="#808080" stroke-width="0.7"/><path d="M177.35 594.01L180.65 594.01L179 596.57Z" fill="none" stroke="#808080" stroke-width="0.7"/><path d="M184.75 536.11L188.05 536.11L186.4 538.67Z" fill="none" stroke="#808080" stroke-width="0.7"/><path d="M193.85 534.61L197.15 534.61L195.5 537.17Z" fill="none" stroke="#808080" stroke-width="0.7"/><path d="M217.65 536.71L220.95 536.71L219.3 539.27Z" fill="none" stroke="#808080" stroke-width="0.7"/><path d="M219.85 537.61L223.15 537.61L221.5 540.17Z" fill="none" stroke="#808080" stroke-width="0.7"/><path d="M232.85 519.41L236.15 519.41L234.5 521.97Z" fill="none" stroke="#808080" stroke-width="0.7"/><path d="M236.75 518.81L240.05 518.81L238.4 521.37Z" fill="none" stroke="#808080" stroke-width="0.7"/><path d="M181.95 544.11L185.25 544.11L183.6 546.67Z" fill="none" stroke="#808080" stroke-width="0.7"/><path d="M189.55 544.11L192.85 544.11L191.2 546.67Z" fill="none" stroke="#808080" stroke-width="0.7"/><path d="M185.15 550.21L188.45 550.21L186.8 552.77Z" fill="none" stroke="#808080" stroke-width="0.7"/><path d="M186.95 549.71L190.25 549.71L188.6 552.27Z" fill="none" stroke="#808080" stroke-width="0.7"/><path d="M166.75 551.91L170.05 551.91L168.4 554.47Z" fill="none" stroke="#808080" stroke-width="0.7"/><path d="M174.35 555.61L177.65 555.61L176 558.17Z" fill="none" stroke="#808080" stroke-width="0.7"/><path d="M179.15 566.41L182.45 566.41L180.8 568.97Z" fill="none" stroke="#808080" stroke-width="0.7"/><path d="M232.45 539.31L235.75 539.31L234.1 541.87Z" fill="none" stroke="#808080" stroke-width="0.7"/><path d="M224.15 558.41L227.45 558.41L225.8 560.97Z" fill="none" stroke="#808080" stroke-width="0.7"/><path d="M215.95 563.21L219.25 563.21L217.6 565.77Z" fill="none" stroke="#808080" stroke-width="0.7"/><path d="M213.35 564.91L216.65 564.91L215 567.47Z" fill="none" stroke="#808080" stroke-width="0.7"/><path d="M193.85 569.71L197.15 569.71L195.5 572.27Z" fill="none" stroke="#808080" stroke-width="0.7"/><path d="M170.05 571.41L173.35 571.41L171.7 573.97Z" fill="none" stroke="#808080" stroke-width="0.7"/><path d="M166.75 574.01L170.05 574.01L168.4 576.57Z" fill="none" stroke="#808080" stroke-width="0.7"/><path d="M180.45 577.91L183.75 577.91L182.1 580.47Z" fill="none" stroke="#808080" stroke-width="0.7"/><path d="M193.85 576.61L197.15 576.61L195.5 579.17Z" fill="none" stroke="#808080" stroke-width="0.7"/><path d="M176.95 591.31L180.25 591.31L178.6 593.87Z" fill="none" stroke="#808080" stroke-width="0.7"/><path d="M177.65 593.91L180.95 593.91L179.3 596.47Z" fill="none" stroke="#808080" stroke-width="0.7"/><path d="M183.05 594.61L186.35 594.61L184.7 597.17Z" fill="none" stroke="#808080" stroke-width="0.7"/><path d="M149.85 645.21L153.15 645.21L151.5 647.77Z" fill="none" stroke="#808080" stroke-width="0.7"/><path d="M163.35 641.51L166.65 641.51L165 644.07Z" fill="none" stroke="#808080" stroke-width="0.7"/><path d="M166.05 651.51L169.35 651.51L167.7 654.07Z" fill="none" stroke="#808080" stroke-width="0.7"/><path d="M153.55 654.81L156.85 654.81L155.2 657.37Z" fill="none" stroke="#808080" stroke-width="0.7"/><polygon points="118,561.3 119.04,563.56 121.52,563.86 119.69,565.55 120.17,567.99 118,566.78 115.83,567.99 116.31,565.55 114.48,563.86 116.96,563.56" fill="#720606" stroke="#8a1010" stroke-width="0.3"/><polygon points="123.6,580.7 124.64,582.96 127.12,583.26 125.29,584.95 125.77,587.39 123.6,586.18 121.43,587.39 121.91,584.95 120.08,583.26 122.56,582.96" fill="#720606" stroke="#8a1010" stroke-width="0.3"/><polygon points="140.4,589.9 141.44,592.16 143.92,592.46 142.09,594.15 142.57,596.59 140.4,595.38 138.23,596.59 138.71,594.15 136.88,592.46 139.36,592.16" fill="#720606" stroke="#8a1010" stroke-width="0.3"/><polygon points="137,593.3 138.04,595.56 140.52,595.86 138.69,597.55 139.17,599.99 137,598.78 134.83,599.99 135.31,597.55 133.48,595.86 135.96,595.56" fill="#720606" stroke="#8a1010" stroke-width="0.3"/><polygon points="139.6,603.9 140.64,606.16 143.12,606.46 141.29,608.15 141.77,610.59 139.6,609.38 137.43,610.59 137.91,608.15 136.08,606.46 138.56,606.16" fill="#720606" stroke="#8a1010" stroke-width="0.3"/><polygon points="151,602.7 152.04,604.96 154.52,605.26 152.69,606.95 153.17,609.39 151,608.18 148.83,609.39 149.31,606.95 147.48,605.26 149.96,604.96" fill="#720606" stroke="#8a1010" stroke-width="0.3"/><polygon points="134.4,618.3 135.44,620.56 137.92,620.86 136.09,622.55 136.57,624.99 134.4,623.78 132.23,624.99 132.71,622.55 130.88,620.86 133.36,620.56" fill="#720606" stroke="#8a1010" stroke-width="0.3"/><polygon points="154,621.3 155.04,623.56 157.52,623.86 155.69,625.55 156.17,627.99 154,626.78 151.83,627.99 152.31,625.55 150.48,623.86 152.96,623.56" fill="#720606" stroke="#8a1010" stroke-width="0.3"/><polygon points="153.6,628.3 154.64,630.56 157.12,630.86 155.29,632.55 155.77,634.99 153.6,633.78 151.43,634.99 151.91,632.55 150.08,630.86 152.56,630.56" fill="#720606" stroke="#8a1010" stroke-width="0.3"/><polygon points="155.6,582.7 156.64,584.96 159.12,585.26 157.29,586.95 157.77,589.39 155.6,588.18 153.43,589.39 153.91,586.95 152.08,585.26 154.56,584.96" fill="#720606" stroke="#8a1010" stroke-width="0.3"/><polygon points="166,580.3 167.04,582.56 169.52,582.86 167.69,584.55 168.17,586.99 166,585.78 163.83,586.99 164.31,584.55 162.48,582.86 164.96,582.56" fill="#720606" stroke="#8a1010" stroke-width="0.3"/><polygon points="170,584.3 171.04,586.56 173.52,586.86 171.69,588.55 172.17,590.99 170,589.78 167.83,590.99 168.31,588.55 166.48,586.86 168.96,586.56" fill="#720606" stroke="#8a1010" stroke-width="0.3"/><polygon points="173.6,588.7 174.64,590.96 177.12,591.26 175.29,592.95 175.77,595.39 173.6,594.18 171.43,595.39 171.91,592.95 170.08,591.26 172.56,590.96" fill="#720606" stroke="#8a1010" stroke-width="0.3"/><polygon points="178,585.3 179.04,587.56 181.52,587.86 179.69,589.55 180.17,591.99 178,590.78 175.83,591.99 176.31,589.55 174.48,587.86 176.96,587.56" fill="#720606" stroke="#8a1010" stroke-width="0.3"/><polygon points="169,601.3 170.04,603.56 172.52,603.86 170.69,605.55 171.17,607.99 169,606.78 166.83,607.99 167.31,605.55 165.48,603.86 167.96,603.56" fill="#720606" stroke="#8a1010" stroke-width="0.3"/><polygon points="172,600.7 173.04,602.96 175.52,603.26 173.69,604.95 174.17,607.39 172,606.18 169.83,607.39 170.31,604.95 168.48,603.26 170.96,602.96" fill="#720606" stroke="#8a1010" stroke-width="0.3"/><polygon points="178,597.9 179.04,600.16 181.52,600.46 179.69,602.15 180.17,604.59 178,603.38 175.83,604.59 176.31,602.15 174.48,600.46 176.96,600.16" fill="#720606" stroke="#8a1010" stroke-width="0.3"/><polygon points="184.2,517.6 185.24,519.86 187.72,520.16 185.89,521.85 186.37,524.29 184.2,523.08 182.03,524.29 182.51,521.85 180.68,520.16 183.16,519.86" fill="#720606" stroke="#8a1010" stroke-width="0.3"/><polygon points="219.8,515.4 220.84,517.66 223.32,517.96 221.49,519.65 221.97,522.09 219.8,520.88 217.63,522.09 218.11,519.65 216.28,517.96 218.76,517.66" fill="#720606" stroke="#8a1010" stroke-width="0.3"/><polygon points="221.5,519.3 222.54,521.56 225.02,521.86 223.19,523.55 223.67,525.99 221.5,524.78 219.33,525.99 219.81,523.55 217.98,521.86 220.46,521.56" fill="#720606" stroke="#8a1010" stroke-width="0.3"/><polygon points="208.9,523.2 209.94,525.46 212.42,525.76 210.59,527.45 211.07,529.89 208.9,528.68 206.73,529.89 207.21,527.45 205.38,525.76 207.86,525.46" fill="#720606" stroke="#8a1010" stroke-width="0.3"/><polygon points="203.1,526.9 204.14,529.16 206.62,529.46 204.79,531.15 205.27,533.59 203.1,532.38 200.93,533.59 201.41,531.15 199.58,529.46 202.06,529.16" fill="#720606" stroke="#8a1010" stroke-width="0.3"/><polygon points="234.1,521.9 235.14,524.16 237.62,524.46 235.79,526.15 236.27,528.59 234.1,527.38 231.93,528.59 232.41,526.15 230.58,524.46 233.06,524.16" fill="#720606" stroke="#8a1010" stroke-width="0.3"/><polygon points="242.1,519.7 243.14,521.96 245.62,522.26 243.79,523.95 244.27,526.39 242.1,525.18 239.93,526.39 240.41,523.95 238.58,522.26 241.06,521.96" fill="#720606" stroke="#8a1010" stroke-width="0.3"/><polygon points="243.6,522.6 244.64,524.86 247.12,525.16 245.29,526.85 245.77,529.29 243.6,528.08 241.43,529.29 241.91,526.85 240.08,525.16 242.56,524.86" fill="#720606" stroke="#8a1010" stroke-width="0.3"/><polygon points="229.1,526.2 230.14,528.46 232.62,528.76 230.79,530.45 231.27,532.89 229.1,531.68 226.93,532.89 227.41,530.45 225.58,528.76 228.06,528.46" fill="#720606" stroke="#8a1010" stroke-width="0.3"/><polygon points="231.9,528 232.94,530.26 235.42,530.56 233.59,532.25 234.07,534.69 231.9,533.48 229.73,534.69 230.21,532.25 228.38,530.56 230.86,530.26" fill="#720606" stroke="#8a1010" stroke-width="0.3"/><polygon points="239.3,528 240.34,530.26 242.82,530.56 240.99,532.25 241.47,534.69 239.3,533.48 237.13,534.69 237.61,532.25 235.78,530.56 238.26,530.26" fill="#720606" stroke="#8a1010" stroke-width="0.3"/><polygon points="240.6,524.7 241.64,526.96 244.12,527.26 242.29,528.95 242.77,531.39 240.6,530.18 238.43,531.39 238.91,528.95 237.08,527.26 239.56,526.96" fill="#720606" stroke="#8a1010" stroke-width="0.3"/><polygon points="237.8,534 238.84,536.26 241.32,536.56 239.49,538.25 239.97,540.69 237.8,539.48 235.63,540.69 236.11,538.25 234.28,536.56 236.76,536.26" fill="#720606" stroke="#8a1010" stroke-width="0.3"/><polygon points="260.9,528.4 261.94,530.66 264.42,530.96 262.59,532.65 263.07,535.09 260.9,533.88 258.73,535.09 259.21,532.65 257.38,530.96 259.86,530.66" fill="#720606" stroke="#8a1010" stroke-width="0.3"/><polygon points="261.6,527.5 262.64,529.76 265.12,530.06 263.29,531.75 263.77,534.19 261.6,532.98 259.43,534.19 259.91,531.75 258.08,530.06 260.56,529.76" fill="#720606" stroke="#8a1010" stroke-width="0.3"/><polygon points="239.9,541.4 240.94,543.66 243.42,543.96 241.59,545.65 242.07,548.09 239.9,546.88 237.73,548.09 238.21,545.65 236.38,543.96 238.86,543.66" fill="#720606" stroke="#8a1010" stroke-width="0.3"/><polygon points="221.5,541 222.54,543.26 225.02,543.56 223.19,545.25 223.67,547.69 221.5,546.48 219.33,547.69 219.81,545.25 217.98,543.56 220.46,543.26" fill="#720606" stroke="#8a1010" stroke-width="0.3"/><polygon points="217.6,544.2 218.64,546.46 221.12,546.76 219.29,548.45 219.77,550.89 217.6,549.68 215.43,550.89 215.91,548.45 214.08,546.76 216.56,546.46" fill="#720606" stroke="#8a1010" stroke-width="0.3"/><polygon points="224.8,547.9 225.84,550.16 228.32,550.46 226.49,552.15 226.97,554.59 224.8,553.38 222.63,554.59 223.11,552.15 221.28,550.46 223.76,550.16" fill="#720606" stroke="#8a1010" stroke-width="0.3"/><polygon points="220.4,554.4 221.44,556.66 223.92,556.96 222.09,558.65 222.57,561.09 220.4,559.88 218.23,561.09 218.71,558.65 216.88,556.96 219.36,556.66" fill="#720606" stroke="#8a1010" stroke-width="0.3"/><polygon points="242.7,559 243.74,561.26 246.22,561.56 244.39,563.25 244.87,565.69 242.7,564.48 240.53,565.69 241.01,563.25 239.18,561.56 241.66,561.26" fill="#720606" stroke="#8a1010" stroke-width="0.3"/><polygon points="199.4,546.4 200.44,548.66 202.92,548.96 201.09,550.65 201.57,553.09 199.4,551.88 197.23,553.09 197.71,550.65 195.88,548.96 198.36,548.66" fill="#720606" stroke="#8a1010" stroke-width="0.3"/><polygon points="204.2,545.3 205.24,547.56 207.72,547.86 205.89,549.55 206.37,551.99 204.2,550.78 202.03,551.99 202.51,549.55 200.68,547.86 203.16,547.56" fill="#720606" stroke="#8a1010" stroke-width="0.3"/><polygon points="190.7,552.2 191.74,554.46 194.22,554.76 192.39,556.45 192.87,558.89 190.7,557.68 188.53,558.89 189.01,556.45 187.18,554.76 189.66,554.46" fill="#720606" stroke="#8a1010" stroke-width="0.3"/><polygon points="199.4,554.4 200.44,556.66 202.92,556.96 201.09,558.65 201.57,561.09 199.4,559.88 197.23,561.09 197.71,558.65 195.88,556.96 198.36,556.66" fill="#720606" stroke="#8a1010" stroke-width="0.3"/><polygon points="182.1,555.7 183.14,557.96 185.62,558.26 183.79,559.95 184.27,562.39 182.1,561.18 179.93,562.39 180.41,559.95 178.58,558.26 181.06,557.96" fill="#720606" stroke="#8a1010" stroke-width="0.3"/><polygon points="191.2,562.2 192.24,564.46 194.72,564.76 192.89,566.45 193.37,568.89 191.2,567.68 189.03,568.89 189.51,566.45 187.68,564.76 190.16,564.46" fill="#720606" stroke="#8a1010" stroke-width="0.3"/><polygon points="212.8,565.2 213.84,567.46 216.32,567.76 214.49,569.45 214.97,571.89 212.8,570.68 210.63,571.89 211.11,569.45 209.28,567.76 211.76,567.46" fill="#720606" stroke="#8a1010" stroke-width="0.3"/><polygon points="202.4,571.7 203.44,573.96 205.92,574.26 204.09,575.95 204.57,578.39 202.4,577.18 200.23,578.39 200.71,575.95 198.88,574.26 201.36,573.96" fill="#720606" stroke="#8a1010" stroke-width="0.3"/><polygon points="214.6,571.7 215.64,573.96 218.12,574.26 216.29,575.95 216.77,578.39 214.6,577.18 212.43,578.39 212.91,575.95 211.08,574.26 213.56,573.96" fill="#720606" stroke="#8a1010" stroke-width="0.3"/><polygon points="195.1,580.4 196.14,582.66 198.62,582.96 196.79,584.65 197.27,587.09 195.1,585.88 192.93,587.09 193.41,584.65 191.58,582.96 194.06,582.66" fill="#720606" stroke="#8a1010" stroke-width="0.3"/><polygon points="195.9,583.2 196.94,585.46 199.42,585.76 197.59,587.45 198.07,589.89 195.9,588.68 193.73,589.89 194.21,587.45 192.38,585.76 194.86,585.46" fill="#720606" stroke="#8a1010" stroke-width="0.3"/><polygon points="171.2,583.2 172.24,585.46 174.72,585.76 172.89,587.45 173.37,589.89 171.2,588.68 169.03,589.89 169.51,587.45 167.68,585.76 170.16,585.46" fill="#720606" stroke="#8a1010" stroke-width="0.3"/><polygon points="177.1,585.4 178.14,587.66 180.62,587.96 178.79,589.65 179.27,592.09 177.1,590.88 174.93,592.09 175.41,589.65 173.58,587.96 176.06,587.66" fill="#720606" stroke="#8a1010" stroke-width="0.3"/><polygon points="171.7,588.6 172.74,590.86 175.22,591.16 173.39,592.85 173.87,595.29 171.7,594.08 169.53,595.29 170.01,592.85 168.18,591.16 170.66,590.86" fill="#720606" stroke="#8a1010" stroke-width="0.3"/><polygon points="173.4,589.7 174.44,591.96 176.92,592.26 175.09,593.95 175.57,596.39 173.4,595.18 171.23,596.39 171.71,593.95 169.88,592.26 172.36,591.96" fill="#720606" stroke="#8a1010" stroke-width="0.3"/><polygon points="169.1,601.6 170.14,603.86 172.62,604.16 170.79,605.85 171.27,608.29 169.1,607.08 166.93,608.29 167.41,605.85 165.58,604.16 168.06,603.86" fill="#720606" stroke="#8a1010" stroke-width="0.3"/><polygon points="172.8,600.6 173.84,602.86 176.32,603.16 174.49,604.85 174.97,607.29 172.8,606.08 170.63,607.29 171.11,604.85 169.28,603.16 171.76,602.86" fill="#720606" stroke="#8a1010" stroke-width="0.3"/><polygon points="177.7,598.4 178.74,600.66 181.22,600.96 179.39,602.65 179.87,605.09 177.7,603.88 175.53,605.09 176.01,602.65 174.18,600.96 176.66,600.66" fill="#720606" stroke="#8a1010" stroke-width="0.3"/><polygon points="180.3,597.7 181.34,599.96 183.82,600.26 181.99,601.95 182.47,604.39 180.3,603.18 178.13,604.39 178.61,601.95 176.78,600.26 179.26,599.96" fill="#720606" stroke="#8a1010" stroke-width="0.3"/><polygon points="185.1,596.2 186.14,598.46 188.62,598.76 186.79,600.45 187.27,602.89 185.1,601.68 182.93,602.89 183.41,600.45 181.58,598.76 184.06,598.46" fill="#720606" stroke="#8a1010" stroke-width="0.3"/><polygon points="151.1,602.7 152.14,604.96 154.62,605.26 152.79,606.95 153.27,609.39 151.1,608.18 148.93,609.39 149.41,606.95 147.58,605.26 150.06,604.96" fill="#720606" stroke="#8a1010" stroke-width="0.3"/><polygon points="141,647.6 142.04,649.86 144.52,650.16 142.69,651.85 143.17,654.29 141,653.08 138.83,654.29 139.31,651.85 137.48,650.16 139.96,649.86" fill="#720606" stroke="#8a1010" stroke-width="0.3"/>
<rect x="42.2" y="500.6" width="249.6" height="199.9" fill="none" stroke="#000" stroke-width="1.1"/>
<path d="M42.2 700.5h4M291.8 700.5h-4M42.2 691.21h2M291.8 691.21h-2M42.2 685.77h2M291.8 685.77h-2M42.2 681.92h2M291.8 681.92h-2M42.2 678.93h2M291.8 678.93h-2M42.2 676.48h2M291.8 676.48h-2M42.2 674.42h2M291.8 674.42h-2M42.2 672.63h2M291.8 672.63h-2M42.2 671.05h2M291.8 671.05h-2M42.2 669.64h4M291.8 669.64h-4M42.2 660.35h2M291.8 660.35h-2M42.2 654.91h2M291.8 654.91h-2M42.2 651.06h2M291.8 651.06h-2M42.2 648.07h2M291.8 648.07h-2M42.2 645.62h2M291.8 645.62h-2M42.2 643.56h2M291.8 643.56h-2M42.2 641.77h2M291.8 641.77h-2M42.2 640.19h2M291.8 640.19h-2M42.2 638.78h4M291.8 638.78h-4M42.2 629.48h2M291.8 629.48h-2M42.2 624.05h2M291.8 624.05h-2M42.2 620.19h2M291.8 620.19h-2M42.2 617.2h2M291.8 617.2h-2M42.2 614.76h2M291.8 614.76h-2M42.2 612.69h2M291.8 612.69h-2M42.2 610.9h2M291.8 610.9h-2M42.2 609.32h2M291.8 609.32h-2M42.2 607.91h4M291.8 607.91h-4M42.2 598.62h2M291.8 598.62h-2M42.2 593.19h2M291.8 593.19h-2M42.2 589.33h2M291.8 589.33h-2M42.2 586.34h2M291.8 586.34h-2M42.2 583.9h2M291.8 583.9h-2M42.2 581.83h2M291.8 581.83h-2M42.2 580.04h2M291.8 580.04h-2M42.2 578.46h2M291.8 578.46h-2M42.2 577.05h4M291.8 577.05h-4M42.2 567.76h2M291.8 567.76h-2M42.2 562.32h2M291.8 562.32h-2M42.2 558.47h2M291.8 558.47h-2M42.2 555.48h2M291.8 555.48h-2M42.2 553.03h2M291.8 553.03h-2M42.2 550.97h2M291.8 550.97h-2M42.2 549.18h2M291.8 549.18h-2M42.2 547.6h2M291.8 547.6h-2M42.2 546.19h4M291.8 546.19h-4M42.2 536.9h2M291.8 536.9h-2M42.2 531.46h2M291.8 531.46h-2M42.2 527.61h2M291.8 527.61h-2M42.2 524.62h2M291.8 524.62h-2M42.2 522.17h2M291.8 522.17h-2M42.2 520.11h2M291.8 520.11h-2M42.2 518.32h2M291.8 518.32h-2M42.2 516.74h2M291.8 516.74h-2M42.2 515.33h4M291.8 515.33h-4M42.2 506.03h2M291.8 506.03h-2M42.2 500.6h2M291.8 500.6h-2" stroke="#000" stroke-width="1" fill="none"/>
<text x="37.9" y="704" text-anchor="end" font-size="10" font-weight="bold">10<tspan dy="-4.2" font-size="6.3">-3</tspan></text>
<text x="37.9" y="673.14" text-anchor="end" font-size="10" font-weight="bold">10<tspan dy="-4.2" font-size="6.3">-2</tspan></text>
<text x="37.9" y="642.28" text-anchor="end" font-size="10" font-weight="bold">10<tspan dy="-4.2" font-size="6.3">-1</tspan></text>
<text x="37.9" y="611.41" text-anchor="end" font-size="10" font-weight="bold">10<tspan dy="-4.2" font-size="6.3">0</tspan></text>
<text x="37.9" y="580.55" text-anchor="end" font-size="10" font-weight="bold">10<tspan dy="-4.2" font-size="6.3">1</tspan></text>
<text x="37.9" y="549.69" text-anchor="end" font-size="10" font-weight="bold">10<tspan dy="-4.2" font-size="6.3">2</tspan></text>
<text x="37.9" y="518.83" text-anchor="end" font-size="10" font-weight="bold">10<tspan dy="-4.2" font-size="6.3">3</tspan></text>
<path d="M42.2 700.5v-4M42.2 500.6v4M45.77 700.5v-2M45.77 500.6v2M49.33 700.5v-2M49.33 500.6v2M52.9 700.5v-2M52.9 500.6v2M56.46 700.5v-2M56.46 500.6v2M60.03 700.5v-2M60.03 500.6v2M63.59 700.5v-2M63.59 500.6v2M67.16 700.5v-2M67.16 500.6v2M70.73 700.5v-2M70.73 500.6v2M74.29 700.5v-2M74.29 500.6v2M77.86 700.5v-4M77.86 500.6v4M81.42 700.5v-2M81.42 500.6v2M84.99 700.5v-2M84.99 500.6v2M88.55 700.5v-2M88.55 500.6v2M92.12 700.5v-2M92.12 500.6v2M95.69 700.5v-2M95.69 500.6v2M99.25 700.5v-2M99.25 500.6v2M102.82 700.5v-2M102.82 500.6v2M106.38 700.5v-2M106.38 500.6v2M109.95 700.5v-2M109.95 500.6v2M113.51 700.5v-4M113.51 500.6v4M117.08 700.5v-2M117.08 500.6v2M120.65 700.5v-2M120.65 500.6v2M124.21 700.5v-2M124.21 500.6v2M127.78 700.5v-2M127.78 500.6v2M131.34 700.5v-2M131.34 500.6v2M134.91 700.5v-2M134.91 500.6v2M138.47 700.5v-2M138.47 500.6v2M142.04 700.5v-2M142.04 500.6v2M145.61 700.5v-2M145.61 500.6v2M149.17 700.5v-4M149.17 500.6v4M152.74 700.5v-2M152.74 500.6v2M156.3 700.5v-2M156.3 500.6v2M159.87 700.5v-2M159.87 500.6v2M163.43 700.5v-2M163.43 500.6v2M167 700.5v-2M167 500.6v2M170.57 700.5v-2M170.57 500.6v2M174.13 700.5v-2M174.13 500.6v2M177.7 700.5v-2M177.7 500.6v2M181.26 700.5v-2M181.26 500.6v2M184.83 700.5v-4M184.83 500.6v4M188.39 700.5v-2M188.39 500.6v2M191.96 700.5v-2M191.96 500.6v2M195.53 700.5v-2M195.53 500.6v2M199.09 700.5v-2M199.09 500.6v2M202.66 700.5v-2M202.66 500.6v2M206.22 700.5v-2M206.22 500.6v2M209.79 700.5v-2M209.79 500.6v2M213.35 700.5v-2M213.35 500.6v2M216.92 700.5v-2M216.92 500.6v2M220.49 700.5v-4M220.49 500.6v4M224.05 700.5v-2M224.05 500.6v2M227.62 700.5v-2M227.62 500.6v2M231.18 700.5v-2M231.18 500.6v2M234.75 700.5v-2M234.75 500.6v2M238.31 700.5v-2M238.31 500.6v2M241.88 700.5v-2M241.88 500.6v2M245.45 700.5v-2M245.45 500.6v2M249.01 700.5v-2M249.01 500.6v2M252.58 700.5v-2M252.58 500.6v2M256.14 700.5v-4M256.14 500.6v4M259.71 700.5v-2M259.71 500.6v2M263.27 700.5v-2M263.27 500.6v2M266.84 700.5v-2M266.84 500.6v2M270.41 700.5v-2M270.41 500.6v2M273.97 700.5v-2M273.97 500.6v2M277.54 700.5v-2M277.54 500.6v2M281.1 700.5v-2M281.1 500.6v2M284.67 700.5v-2M284.67 500.6v2M288.23 700.5v-2M288.23 500.6v2M291.8 700.5v-4M291.8 500.6v4" stroke="#000" stroke-width="1" fill="none"/>
<text x="42.2" y="713.3" text-anchor="middle" font-size="10.5" font-weight="bold">-3</text>
<text x="77.86" y="713.3" text-anchor="middle" font-size="10.5" font-weight="bold">-2</text>
<text x="113.51" y="713.3" text-anchor="middle" font-size="10.5" font-weight="bold">-1</text>
<text x="149.17" y="713.3" text-anchor="middle" font-size="10.5" font-weight="bold">0</text>
<text x="184.83" y="713.3" text-anchor="middle" font-size="10.5" font-weight="bold">1</text>
<text x="220.49" y="713.3" text-anchor="middle" font-size="10.5" font-weight="bold">2</text>
<text x="256.14" y="713.3" text-anchor="middle" font-size="10.5" font-weight="bold">3</text>
<text x="291.8" y="713.3" text-anchor="middle" font-size="10.5" font-weight="bold">4</text>
<text x="167" y="727.7" text-anchor="middle" font-size="13" font-weight="bold">C23</text>
<text transform="translate(12.6 647.8) rotate(-90)" font-size="13" font-weight="bold" font-style="italic">R</text>
<text transform="translate(15.9 635.7) rotate(-90)" font-size="7.8" font-weight="bold">CO25</text>
<text transform="translate(12.6 613.3) rotate(-90)" font-size="13" font-weight="bold">[MHz]</text>
<rect x="221.7" y="667.5" width="62.8" height="26.8" fill="#fff" stroke="#8a8a8a" stroke-width="1"/>
<polygon points="238.8,672 239.84,674.26 242.32,674.56 240.49,676.25 240.97,678.69 238.8,677.48 236.63,678.69 237.11,676.25 235.28,674.56 237.76,674.26" fill="#720606" stroke="#8a1010" stroke-width="0.3"/>
<text x="250.2" y="679" font-size="9.6">PN</text>
<path d="M237.15 686.21L240.45 686.21L238.8 688.77Z" fill="#bbb" stroke="#808080" stroke-width="0.7"/>
<text x="250.2" y="690.5" font-size="9.6">PN(1-σ)</text>
<path d="M360.57 671.93L360.57 579.02L491.57 579.02L491.57 671.93L450.2 671.93M395.04 579.02L395.04 645.39M436.41 579.02L436.41 645.39M370.91 665.3L374.36 665.3L374.36 645.39L436.41 645.39M429.52 645.39L429.52 691.84L457.1 665.3L457.1 625.48L436.41 625.48M436.41 605.57L470.89 605.57L470.89 645.39L463.99 652.02L457.1 652.02M470.89 605.57L491.57 579.02M384.7 691.84L429.52 691.84M408.83 645.39L408.83 671.93L381.25 671.93M395.04 671.93L395.04 691.84M360.57 671.93L370.91 665.3L381.25 671.93L381.25 685.21L370.91 691.84L360.57 685.21L360.57 671.93M381.25 685.21L384.7 691.84" fill="none" stroke="#c4c4c4" stroke-width="0.9"/>
<path d="M397.46 662.9L401.63 661.21L405.81 659.5L409.98 657.77L414.16 656.01L418.33 654.22L422.51 652.41L426.69 650.57L430.86 648.7L435.04 646.81L439.21 644.9L443.39 642.96L447.57 640.99L451.74 639L455.92 636.98L460.09 634.93L464.27 632.86L468.44 630.77L472.62 628.64L476.8 626.5L480.97 624.32L485.15 622.12L489.32 619.9L493.5 617.65L497.68 615.37L501.85 613.07L506.03 610.74L510.2 608.39L514.38 606.01L518.55 603.61L522.73 601.18L526.91 598.72L531.08 596.24L535.26 593.73L539.43 591.2L543.61 588.64L547.79 586.05L551.96 583.44L556.14 580.8L560.31 578.14L564.49 575.45" fill="none" stroke="#333" stroke-width="1.15" stroke-dasharray="1.1 2.0"/>
<path d="M459.15 532.51L462.45 532.51L460.8 535.07Z" fill="none" stroke="#808080" stroke-width="0.7"/><path d="M452.85 541.81L456.15 541.81L454.5 544.37Z" fill="none" stroke="#808080" stroke-width="0.7"/><path d="M456.15 547.91L459.45 547.91L457.8 550.47Z" fill="none" stroke="#808080" stroke-width="0.7"/><path d="M473.15 539.51L476.45 539.51L474.8 542.07Z" fill="none" stroke="#808080" stroke-width="0.7"/><path d="M487.85 550.21L491.15 550.21L489.5 552.77Z" fill="none" stroke="#808080" stroke-width="0.7"/><path d="M466.85 568.21L470.15 568.21L468.5 570.77Z" fill="none" stroke="#808080" stroke-width="0.7"/><path d="M470.15 576.31L473.45 576.31L471.8 578.87Z" fill="none" stroke="#808080" stroke-width="0.7"/><path d="M512.85 568.21L516.15 568.21L514.5 570.77Z" fill="none" stroke="#808080" stroke-width="0.7"/><path d="M515.85 578.71L519.15 578.71L517.5 581.27Z" fill="none" stroke="#808080" stroke-width="0.7"/><path d="M497.65 580.51L500.95 580.51L499.3 583.07Z" fill="none" stroke="#808080" stroke-width="0.7"/><path d="M497.25 585.71L500.55 585.71L498.9 588.27Z" fill="none" stroke="#808080" stroke-width="0.7"/><path d="M522.85 583.81L526.15 583.81L524.5 586.37Z" fill="none" stroke="#808080" stroke-width="0.7"/><path d="M532.25 583.81L535.55 583.81L533.9 586.37Z" fill="none" stroke="#808080" stroke-width="0.7"/><path d="M438.85 586.11L442.15 586.11L440.5 588.67Z" fill="none" stroke="#808080" stroke-width="0.7"/><path d="M451.45 593.81L454.75 593.81L453.1 596.37Z" fill="none" stroke="#808080" stroke-width="0.7"/><path d="M489.55 589.91L492.85 589.91L491.2 592.47Z" fill="none" stroke="#808080" stroke-width="0.7"/><path d="M518.25 593.11L521.55 593.11L519.9 595.67Z" fill="none" stroke="#808080" stroke-width="0.7"/><path d="M489.95 590.01L493.25 590.01L491.6 592.57Z" fill="none" stroke="#808080" stroke-width="0.7"/><path d="M495.95 592.41L499.25 592.41L497.6 594.97Z" fill="none" stroke="#808080" stroke-width="0.7"/><path d="M518.75 593.61L522.05 593.61L520.4 596.17Z" fill="none" stroke="#808080" stroke-width="0.7"/><path d="M502.75 596.01L506.05 596.01L504.4 598.57Z" fill="none" stroke="#808080" stroke-width="0.7"/><path d="M506.35 598.01L509.65 598.01L508 600.57Z" fill="none" stroke="#808080" stroke-width="0.7"/><path d="M510.35 601.61L513.65 601.61L512 604.17Z" fill="none" stroke="#808080" stroke-width="0.7"/><path d="M513.35 601.61L516.65 601.61L515 604.17Z" fill="none" stroke="#808080" stroke-width="0.7"/><path d="M516.35 600.41L519.65 600.41L518 602.97Z" fill="none" stroke="#808080" stroke-width="0.7"/><path d="M504.35 605.61L507.65 605.61L506 608.17Z" fill="none" stroke="#808080" stroke-width="0.7"/><path d="M498.35 606.41L501.65 606.41L500 608.97Z" fill="none" stroke="#808080" stroke-width="0.7"/><path d="M496.75 608.01L500.05 608.01L498.4 610.57Z" fill="none" stroke="#808080" stroke-width="0.7"/><path d="M501.95 607.61L505.25 607.61L503.6 610.17Z" fill="none" stroke="#808080" stroke-width="0.7"/><path d="M520.75 606.41L524.05 606.41L522.4 608.97Z" fill="none" stroke="#808080" stroke-width="0.7"/><path d="M518.35 608.01L521.65 608.01L520 610.57Z" fill="none" stroke="#808080" stroke-width="0.7"/><path d="M489.35 608.01L492.65 608.01L491 610.57Z" fill="none" stroke="#808080" stroke-width="0.7"/><path d="M493.95 610.41L497.25 610.41L495.6 612.97Z" fill="none" stroke="#808080" stroke-width="0.7"/><path d="M514.35 611.01L517.65 611.01L516 613.57Z" fill="none" stroke="#808080" stroke-width="0.7"/><path d="M517.35 615.01L520.65 615.01L519 617.57Z" fill="none" stroke="#808080" stroke-width="0.7"/><path d="M533.95 611.61L537.25 611.61L535.6 614.17Z" fill="none" stroke="#808080" stroke-width="0.7"/><path d="M536.75 611.61L540.05 611.61L538.4 614.17Z" fill="none" stroke="#808080" stroke-width="0.7"/><path d="M480.75 615.01L484.05 615.01L482.4 617.57Z" fill="none" stroke="#808080" stroke-width="0.7"/><path d="M490.75 617.01L494.05 617.01L492.4 619.57Z" fill="none" stroke="#808080" stroke-width="0.7"/><path d="M497.95 618.01L501.25 618.01L499.6 620.57Z" fill="none" stroke="#808080" stroke-width="0.7"/><path d="M502.75 618.01L506.05 618.01L504.4 620.57Z" fill="none" stroke="#808080" stroke-width="0.7"/><path d="M506.35 618.01L509.65 618.01L508 620.57Z" fill="none" stroke="#808080" stroke-width="0.7"/><path d="M495.95 620.01L499.25 620.01L497.6 622.57Z" fill="none" stroke="#808080" stroke-width="0.7"/><path d="M504.35 623.01L507.65 623.01L506 625.57Z" fill="none" stroke="#808080" stroke-width="0.7"/><path d="M486.35 629.01L489.65 629.01L488 631.57Z" fill="none" stroke="#808080" stroke-width="0.7"/><path d="M493.35 632.41L496.65 632.41L495 634.97Z" fill="none" stroke="#808080" stroke-width="0.7"/><path d="M465.35 631.01L468.65 631.01L467 633.57Z" fill="none" stroke="#808080" stroke-width="0.7"/><path d="M480.85 615.21L484.15 615.21L482.5 617.77Z" fill="none" stroke="#808080" stroke-width="0.7"/><path d="M486.45 629.21L489.75 629.21L488.1 631.77Z" fill="none" stroke="#808080" stroke-width="0.7"/><path d="M493.45 632.21L496.75 632.21L495.1 634.77Z" fill="none" stroke="#808080" stroke-width="0.7"/><path d="M489.55 636.21L492.85 636.21L491.2 638.77Z" fill="none" stroke="#808080" stroke-width="0.7"/><path d="M482.55 635.01L485.85 635.01L484.2 637.57Z" fill="none" stroke="#808080" stroke-width="0.7"/><path d="M467.35 630.81L470.65 630.81L469 633.37Z" fill="none" stroke="#808080" stroke-width="0.7"/><path d="M467.35 636.21L470.65 636.21L469 638.77Z" fill="none" stroke="#808080" stroke-width="0.7"/><path d="M466.85 644.31L470.15 644.31L468.5 646.87Z" fill="none" stroke="#808080" stroke-width="0.7"/><path d="M451.45 642.01L454.75 642.01L453.1 644.57Z" fill="none" stroke="#808080" stroke-width="0.7"/><path d="M455.25 646.71L458.55 646.71L456.9 649.27Z" fill="none" stroke="#808080" stroke-width="0.7"/><path d="M466.15 649.51L469.45 649.51L467.8 652.07Z" fill="none" stroke="#808080" stroke-width="0.7"/><path d="M470.15 657.21L473.45 657.21L471.8 659.77Z" fill="none" stroke="#808080" stroke-width="0.7"/><path d="M480.15 657.21L483.45 657.21L481.8 659.77Z" fill="none" stroke="#808080" stroke-width="0.7"/><path d="M486.45 639.71L489.75 639.71L488.1 642.27Z" fill="none" stroke="#808080" stroke-width="0.7"/><path d="M509.85 646.71L513.15 646.71L511.5 649.27Z" fill="none" stroke="#808080" stroke-width="0.7"/><path d="M514.45 650.21L517.75 650.21L516.1 652.77Z" fill="none" stroke="#808080" stroke-width="0.7"/><path d="M505.15 618.71L508.45 618.71L506.8 621.27Z" fill="none" stroke="#808080" stroke-width="0.7"/><path d="M506.55 622.91L509.85 622.91L508.2 625.47Z" fill="none" stroke="#808080" stroke-width="0.7"/><path d="M514.45 611.21L517.75 611.21L516.1 613.77Z" fill="none" stroke="#808080" stroke-width="0.7"/><path d="M516.85 615.21L520.15 615.21L518.5 617.77Z" fill="none" stroke="#808080" stroke-width="0.7"/><polygon points="459.2,520.4 460.24,522.66 462.72,522.96 460.89,524.65 461.37,527.09 459.2,525.88 457.03,527.09 457.51,524.65 455.68,522.96 458.16,522.66" fill="#720606" stroke="#8a1010" stroke-width="0.3"/><polygon points="463.2,524.2 464.24,526.46 466.72,526.76 464.89,528.45 465.37,530.89 463.2,529.68 461.03,530.89 461.51,528.45 459.68,526.76 462.16,526.46" fill="#720606" stroke="#8a1010" stroke-width="0.3"/><polygon points="446.1,528.8 447.14,531.06 449.62,531.36 447.79,533.05 448.27,535.49 446.1,534.28 443.93,535.49 444.41,533.05 442.58,531.36 445.06,531.06" fill="#720606" stroke="#8a1010" stroke-width="0.3"/><polygon points="460.8,541 461.84,543.26 464.32,543.56 462.49,545.25 462.97,547.69 460.8,546.48 458.63,547.69 459.11,545.25 457.28,543.56 459.76,543.26" fill="#720606" stroke="#8a1010" stroke-width="0.3"/><polygon points="498.9,529.8 499.94,532.06 502.42,532.36 500.59,534.05 501.07,536.49 498.9,535.28 496.73,536.49 497.21,534.05 495.38,532.36 497.86,532.06" fill="#720606" stroke="#8a1010" stroke-width="0.3"/><polygon points="501.7,534 502.74,536.26 505.22,536.56 503.39,538.25 503.87,540.69 501.7,539.48 499.53,540.69 500.01,538.25 498.18,536.56 500.66,536.26" fill="#720606" stroke="#8a1010" stroke-width="0.3"/><polygon points="516.1,549.1 517.14,551.36 519.62,551.66 517.79,553.35 518.27,555.79 516.1,554.58 513.93,555.79 514.41,553.35 512.58,551.66 515.06,551.36" fill="#720606" stroke="#8a1010" stroke-width="0.3"/><polygon points="496.5,557.3 497.54,559.56 500.02,559.86 498.19,561.55 498.67,563.99 496.5,562.78 494.33,563.99 494.81,561.55 492.98,559.86 495.46,559.56" fill="#720606" stroke="#8a1010" stroke-width="0.3"/><polygon points="484.9,561.5 485.94,563.76 488.42,564.06 486.59,565.75 487.07,568.19 484.9,566.98 482.73,568.19 483.21,565.75 481.38,564.06 483.86,563.76" fill="#720606" stroke="#8a1010" stroke-width="0.3"/><polygon points="484.2,564.8 485.24,567.06 487.72,567.36 485.89,569.05 486.37,571.49 484.2,570.28 482.03,571.49 482.51,569.05 480.68,567.36 483.16,567.06" fill="#720606" stroke="#8a1010" stroke-width="0.3"/><polygon points="498.2,565.5 499.24,567.76 501.72,568.06 499.89,569.75 500.37,572.19 498.2,570.98 496.03,572.19 496.51,569.75 494.68,568.06 497.16,567.76" fill="#720606" stroke="#8a1010" stroke-width="0.3"/><polygon points="480.7,569 481.74,571.26 484.22,571.56 482.39,573.25 482.87,575.69 480.7,574.48 478.53,575.69 479.01,573.25 477.18,571.56 479.66,571.26" fill="#720606" stroke="#8a1010" stroke-width="0.3"/><polygon points="508.7,569 509.74,571.26 512.22,571.56 510.39,573.25 510.87,575.69 508.7,574.48 506.53,575.69 507.01,573.25 505.18,571.56 507.66,571.26" fill="#720606" stroke="#8a1010" stroke-width="0.3"/><polygon points="510.5,574.8 511.54,577.06 514.02,577.36 512.19,579.05 512.67,581.49 510.5,580.28 508.33,581.49 508.81,579.05 506.98,577.36 509.46,577.06" fill="#720606" stroke="#8a1010" stroke-width="0.3"/><polygon points="464.8,577.1 465.84,579.36 468.32,579.66 466.49,581.35 466.97,583.79 464.8,582.58 462.63,583.79 463.11,581.35 461.28,579.66 463.76,579.36" fill="#720606" stroke="#8a1010" stroke-width="0.3"/><polygon points="487.2,575.5 488.24,577.76 490.72,578.06 488.89,579.75 489.37,582.19 487.2,580.98 485.03,582.19 485.51,579.75 483.68,578.06 486.16,577.76" fill="#720606" stroke="#8a1010" stroke-width="0.3"/><polygon points="508.2,580.2 509.24,582.46 511.72,582.76 509.89,584.45 510.37,586.89 508.2,585.68 506.03,586.89 506.51,584.45 504.68,582.76 507.16,582.46" fill="#720606" stroke="#8a1010" stroke-width="0.3"/><polygon points="506.8,583 507.84,585.26 510.32,585.56 508.49,587.25 508.97,589.69 506.8,588.48 504.63,589.69 505.11,587.25 503.28,585.56 505.76,585.26" fill="#720606" stroke="#8a1010" stroke-width="0.3"/><polygon points="505.2,588.1 506.24,590.36 508.72,590.66 506.89,592.35 507.37,594.79 505.2,593.58 503.03,594.79 503.51,592.35 501.68,590.66 504.16,590.36" fill="#720606" stroke="#8a1010" stroke-width="0.3"/><polygon points="515.2,590 516.24,592.26 518.72,592.56 516.89,594.25 517.37,596.69 515.2,595.48 513.03,596.69 513.51,594.25 511.68,592.56 514.16,592.26" fill="#720606" stroke="#8a1010" stroke-width="0.3"/><polygon points="526.9,587.2 527.94,589.46 530.42,589.76 528.59,591.45 529.07,593.89 526.9,592.68 524.73,593.89 525.21,591.45 523.38,589.76 525.86,589.46" fill="#720606" stroke="#8a1010" stroke-width="0.3"/><polygon points="499.3,592.3 500.34,594.56 502.82,594.86 500.99,596.55 501.47,598.99 499.3,597.78 497.13,598.99 497.61,596.55 495.78,594.86 498.26,594.56" fill="#720606" stroke="#8a1010" stroke-width="0.3"/><polygon points="502.8,602 503.84,604.26 506.32,604.56 504.49,606.25 504.97,608.69 502.8,607.48 500.63,608.69 501.11,606.25 499.28,604.56 501.76,604.26" fill="#720606" stroke="#8a1010" stroke-width="0.3"/><polygon points="501.2,607.1 502.24,609.36 504.72,609.66 502.89,611.35 503.37,613.79 501.2,612.58 499.03,613.79 499.51,611.35 497.68,609.66 500.16,609.36" fill="#720606" stroke="#8a1010" stroke-width="0.3"/><polygon points="526.9,602 527.94,604.26 530.42,604.56 528.59,606.25 529.07,608.69 526.9,607.48 524.73,608.69 525.21,606.25 523.38,604.56 525.86,604.26" fill="#720606" stroke="#8a1010" stroke-width="0.3"/><polygon points="451.5,604.3 452.54,606.56 455.02,606.86 453.19,608.55 453.67,610.99 451.5,609.78 449.33,610.99 449.81,608.55 447.98,606.86 450.46,606.56" fill="#720606" stroke="#8a1010" stroke-width="0.3"/><polygon points="472.5,603.8 473.54,606.06 476.02,606.36 474.19,608.05 474.67,610.49 472.5,609.28 470.33,610.49 470.81,608.05 468.98,606.36 471.46,606.06" fill="#720606" stroke="#8a1010" stroke-width="0.3"/><polygon points="443.8,617.8 444.84,620.06 447.32,620.36 445.49,622.05 445.97,624.49 443.8,623.28 441.63,624.49 442.11,622.05 440.28,620.36 442.76,620.06" fill="#720606" stroke="#8a1010" stroke-width="0.3"/><polygon points="458.5,621.8 459.54,624.06 462.02,624.36 460.19,626.05 460.67,628.49 458.5,627.28 456.33,628.49 456.81,626.05 454.98,624.36 457.46,624.06" fill="#720606" stroke="#8a1010" stroke-width="0.3"/><polygon points="473.2,616 474.24,618.26 476.72,618.56 474.89,620.25 475.37,622.69 473.2,621.48 471.03,622.69 471.51,620.25 469.68,618.56 472.16,618.26" fill="#720606" stroke="#8a1010" stroke-width="0.3"/><polygon points="477.9,616.4 478.94,618.66 481.42,618.96 479.59,620.65 480.07,623.09 477.9,621.88 475.73,623.09 476.21,620.65 474.38,618.96 476.86,618.66" fill="#720606" stroke="#8a1010" stroke-width="0.3"/><polygon points="486.5,619.5 487.54,621.76 490.02,622.06 488.19,623.75 488.67,626.19 486.5,624.98 484.33,626.19 484.81,623.75 482.98,622.06 485.46,621.76" fill="#720606" stroke="#8a1010" stroke-width="0.3"/><polygon points="476,631.8 477.04,634.06 479.52,634.36 477.69,636.05 478.17,638.49 476,637.28 473.83,638.49 474.31,636.05 472.48,634.36 474.96,634.06" fill="#720606" stroke="#8a1010" stroke-width="0.3"/><polygon points="436.3,637.4 437.34,639.66 439.82,639.96 437.99,641.65 438.47,644.09 436.3,642.88 434.13,644.09 434.61,641.65 432.78,639.96 435.26,639.66" fill="#720606" stroke="#8a1010" stroke-width="0.3"/>
<rect x="348.5" y="502.7" width="246.5" height="199.1" fill="none" stroke="#000" stroke-width="1.1"/>
<path d="M353.67 701.8v-4M353.67 502.7v4M362.29 701.8v-2M362.29 502.7v2M370.91 701.8v-2M370.91 502.7v2M379.53 701.8v-2M379.53 502.7v2M388.15 701.8v-4M388.15 502.7v4M396.77 701.8v-2M396.77 502.7v2M405.38 701.8v-2M405.38 502.7v2M414 701.8v-2M414 502.7v2M422.62 701.8v-4M422.62 502.7v4M431.24 701.8v-2M431.24 502.7v2M439.86 701.8v-2M439.86 502.7v2M448.48 701.8v-2M448.48 502.7v2M457.1 701.8v-4M457.1 502.7v4M465.72 701.8v-2M465.72 502.7v2M474.34 701.8v-2M474.34 502.7v2M482.95 701.8v-2M482.95 502.7v2M491.57 701.8v-4M491.57 502.7v4M500.19 701.8v-2M500.19 502.7v2M508.81 701.8v-2M508.81 502.7v2M517.43 701.8v-2M517.43 502.7v2M526.05 701.8v-4M526.05 502.7v4M534.67 701.8v-2M534.67 502.7v2M543.29 701.8v-2M543.29 502.7v2M551.91 701.8v-2M551.91 502.7v2M560.52 701.8v-4M560.52 502.7v4M569.14 701.8v-2M569.14 502.7v2M577.76 701.8v-2M577.76 502.7v2M586.38 701.8v-2M586.38 502.7v2M595 701.8v-4M595 502.7v4" stroke="#000" stroke-width="1" fill="none"/>
<text x="353.67" y="714.6" text-anchor="middle" font-size="10.5" font-weight="bold">-2</text>
<text x="388.15" y="714.6" text-anchor="middle" font-size="10.5" font-weight="bold">-1</text>
<text x="422.62" y="714.6" text-anchor="middle" font-size="10.5" font-weight="bold">0</text>
<text x="457.1" y="714.6" text-anchor="middle" font-size="10.5" font-weight="bold">1</text>
<text x="491.57" y="714.6" text-anchor="middle" font-size="10.5" font-weight="bold">2</text>
<text x="526.05" y="714.6" text-anchor="middle" font-size="10.5" font-weight="bold">3</text>
<text x="560.52" y="714.6" text-anchor="middle" font-size="10.5" font-weight="bold">4</text>
<text x="595" y="714.6" text-anchor="middle" font-size="10.5" font-weight="bold">5</text>
<path d="M348.5 695.16h2M595 695.16h-2M348.5 686.87h2M595 686.87h-2M348.5 678.57h4M595 678.57h-4M348.5 670.28h2M595 670.28h-2M348.5 661.98h2M595 661.98h-2M348.5 653.68h2M595 653.68h-2M348.5 645.39h4M595 645.39h-4M348.5 637.09h2M595 637.09h-2M348.5 628.8h2M595 628.8h-2M348.5 620.5h2M595 620.5h-2M348.5 612.2h4M595 612.2h-4M348.5 603.91h2M595 603.91h-2M348.5 595.61h2M595 595.61h-2M348.5 587.32h2M595 587.32h-2M348.5 579.02h4M595 579.02h-4M348.5 570.73h2M595 570.73h-2M348.5 562.43h2M595 562.43h-2M348.5 554.13h2M595 554.13h-2M348.5 545.84h4M595 545.84h-4M348.5 537.54h2M595 537.54h-2M348.5 529.25h2M595 529.25h-2M348.5 520.95h2M595 520.95h-2M348.5 512.65h4M595 512.65h-4M348.5 504.36h2M595 504.36h-2" stroke="#000" stroke-width="1" fill="none"/>
<text x="344" y="682.17" text-anchor="end" font-size="10.5" font-weight="bold">-2</text>
<text x="344" y="648.99" text-anchor="end" font-size="10.5" font-weight="bold">-1</text>
<text x="344" y="615.8" text-anchor="end" font-size="10.5" font-weight="bold">0</text>
<text x="344" y="582.62" text-anchor="end" font-size="10.5" font-weight="bold">1</text>
<text x="344" y="549.44" text-anchor="end" font-size="10.5" font-weight="bold">2</text>
<text x="344" y="516.25" text-anchor="end" font-size="10.5" font-weight="bold">3</text>
<text x="471.7" y="727.5" text-anchor="middle" font-size="13" font-weight="bold">C12</text>
<text transform="translate(327.2 612.6) rotate(-90)" text-anchor="middle" font-size="13" font-weight="bold">C23</text>
<rect x="522.7" y="669.5" width="65.6" height="25.2" fill="#fff" stroke="#8a8a8a" stroke-width="1"/>
<polygon points="539,672.7 540.04,674.96 542.52,675.26 540.69,676.95 541.17,679.39 539,678.18 536.83,679.39 537.31,676.95 535.48,675.26 537.96,674.96" fill="#720606" stroke="#8a1010" stroke-width="0.3"/>
<text x="550.2" y="679.7" font-size="9.6">PN</text>
<path d="M537.35 687.31L540.65 687.31L539 689.87Z" fill="none" stroke="#808080" stroke-width="0.7"/>
<text x="550.2" y="691.6" font-size="9.6">PN (1-σ)</text>
</svg>
</body></html>
